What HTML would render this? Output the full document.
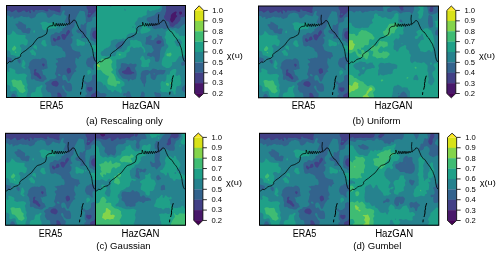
<!DOCTYPE html>
<html><head><meta charset="utf-8"><style>
html,body{margin:0;padding:0;background:#fff;width:500px;height:256px;overflow:hidden}
svg{display:block;will-change:transform}
text{font-family:"Liberation Sans",sans-serif;fill:#000}
.tk{font-size:6.8px}
.yl{font-size:8px}
.al{font-size:9.6px}
.al2{font-size:10px}
</style></head><body>
<svg width="500" height="256" viewBox="0 0 500 256">
<defs>
<g id="m_era5"><rect x="-1" y="-1" width="92" height="94" fill="#48186a"/>
<path d="M-9.6 -11L-8.8 -11L-7.9 -11L-7.1 -11L-6.2 -11L-5.4 -11L-4.6 -11L-3.8 -11L-2.9 -11L-2.1 -11L-1.2 -11L-0.4 -11L0.4 -11L1.2 -11L2.1 -11L2.9 -11L3.8 -11L4.6 -11L5.4 -11L6.2 -11L7.1 -11L7.9 -11L8.8 -11L9.6 -11L10.4 -11L11.2 -11L12.1 -11L12.9 -11L13.8 -11L14.6 -11L15.4 -11L16.2 -11L17.1 -11L17.9 -11L18.8 -11L19.6 -11L20.4 -11L21.2 -11L22.1 -11L22.9 -11L23.8 -11L24.6 -11L25.4 -11L26.2 -11L27.1 -11L27.9 -11L28.8 -11L29.6 -11L30.4 -11L31.2 -11L32.1 -11L32.9 -11L33.8 -11L34.6 -11L35.4 -11L36.2 -11L37.1 -11L37.9 -11L38.8 -11L39.6 -11L40.4 -11L41.2 -11L42.1 -11L42.9 -11L43.8 -11L44.6 -11L45.4 -11L46.2 -11L47.1 -11L47.9 -11L48.8 -11L49.6 -11L50.4 -11L51.2 -11L52.1 -11L52.9 -11L53.8 -11L54.6 -11L55.4 -11L56.2 -11L57.1 -11L57.9 -11L58.8 -11L59.6 -11L60.4 -11L61.2 -11L62.1 -11L62.9 -11L63.8 -11L64.6 -11L65.4 -11L66.2 -11L67.1 -11L67.9 -11L68.8 -11L69.6 -11L70.4 -11L71.2 -11L72.1 -11L72.9 -11L73.8 -11L74.6 -11L75.4 -11L76.2 -11L77.1 -11L77.9 -11L78.8 -11L79.6 -11L80.4 -11L81.2 -11L82.1 -11L82.9 -11L83.8 -11L84.6 -11L85.4 -11L86.2 -11L87.1 -11L87.9 -11L88.8 -11L89.6 -11L90.4 -11L91.2 -11L92.1 -11L92.9 -11L93.8 -11L94.6 -11L95.4 -11L96.2 -11L97.1 -11L97.3 -11L97.9 -10.2L98.8 -10.2L99.6 -10.4L99.6 -10.1L99.6 -9.1L99.6 -8.1L99.6 -7.2L99.6 -6.2L99.6 -5.3L99.6 -4.3L99.6 -3.4L99.6 -2.4L99.6 -1.4L99.6 -0.5L99.6 0.5L99.6 1.4L99.6 2.4L99.6 3.4L99.6 4.3L99.6 5.3L99.6 6.2L99.6 7.2L99.6 8.1L99.6 9.1L99.6 10.1L99.6 11L99.6 12L99.6 12.9L99.6 13.9L99.6 14.9L99.6 15.8L99.6 16.8L99.6 17.7L99.6 18.7L99.6 19.6L99.6 20.6L99.6 21.6L99.6 22.5L99.6 23.5L99.6 24.4L99.6 25.4L99.6 26.4L99.6 27.3L99.6 28.3L99.6 29.2L99.6 30.2L99.6 31.1L99.6 32.1L99.6 33.1L99.6 34L99.6 35L99.6 35.9L99.6 36.9L99.6 37.9L99.6 38.8L99.6 39.8L99.6 40.7L99.6 41.7L99.6 42.6L99.6 43.6L99.6 44.6L99.6 45.5L99.6 46.5L99.6 47.4L99.6 48.4L99.6 49.4L99.6 50.3L99.6 51.3L99.6 52.2L99.6 53.2L99.6 54.1L99.6 55.1L99.6 56.1L99.6 57L99.6 58L99.6 58.9L99.6 59.9L99.6 60.9L99.6 61.8L99.6 62.8L99.6 63.7L99.6 64.7L99.6 65.6L99.6 66.6L99.6 67.6L99.6 68.5L99.6 69.5L99.6 70.4L99.6 71.4L99.6 72.4L99.6 73.3L99.6 74.3L99.6 75.2L99.6 76.2L99.6 77.1L99.6 78.1L99.6 79.1L99.6 80L99.6 81L99.6 81.9L99.6 82.9L99.6 83.9L99.6 84.8L99.6 85.8L99.6 86.7L99.6 87.7L99.6 88.6L99.6 89.6L99.6 90.6L99.6 91.5L99.6 92.5L99.6 93.4L99.6 94.4L99.6 95.4L99.6 96.3L99.6 97.3L99.6 98.2L99.6 99.2L99.6 100.1L99.6 101.1L99.6 102.1L99.6 103L98.8 103L97.9 103L97.1 103L96.2 103L95.4 103L94.6 103L93.8 103L92.9 103L92.1 103L91.2 103L90.4 103L89.6 103L88.8 103L87.9 103L87.1 103L86.2 103L85.4 103L84.6 103L83.8 103L82.9 103L82.1 103L81.2 103L80.4 103L79.6 103L78.8 103L77.9 103L77.1 103L76.2 103L75.4 103L74.6 103L73.8 103L72.9 103L72.1 103L71.2 103L70.4 103L69.6 103L68.8 103L67.9 103L67.1 103L66.2 103L65.4 103L64.6 103L63.8 103L62.9 103L62.1 103L61.2 103L60.4 103L59.6 103L58.8 103L57.9 103L57.1 103L56.2 103L55.4 103L54.6 103L53.8 103L52.9 103L52.1 103L51.2 103L50.4 103L49.6 103L48.8 103L47.9 103L47.1 103L46.2 103L45.4 103L44.6 103L43.8 103L42.9 103L42.1 103L41.2 103L40.4 103L39.6 103L38.8 103L37.9 103L37.1 103L36.2 103L35.4 103L34.6 103L33.8 103L32.9 103L32.1 103L31.2 103L30.4 103L29.6 103L28.8 103L27.9 103L27.1 103L26.2 103L25.4 103L24.6 103L23.8 103L22.9 103L22.1 103L21.2 103L20.4 103L19.6 103L18.8 103L17.9 103L17.1 103L16.2 103L15.4 103L14.6 103L13.8 103L12.9 103L12.1 103L11.2 103L10.4 103L9.6 103L8.8 103L7.9 103L7.1 103L6.2 103L5.4 103L4.6 103L3.8 103L2.9 103L2.1 103L1.2 103L0.4 103L-0.4 103L-1.2 103L-2.1 103L-2.9 103L-3.8 103L-4.6 103L-5.4 103L-6.2 103L-7.1 103L-7.9 103L-8.8 103L-9.6 103L-9.6 102.1L-9.6 101.1L-9.6 100.1L-9.6 99.2L-9.6 98.2L-9.6 97.3L-9.6 96.3L-9.6 95.4L-9.6 94.4L-9.6 93.4L-9.6 92.5L-9.6 91.5L-9.6 90.6L-9.6 89.6L-9.6 88.6L-9.6 87.7L-9.6 86.7L-9.6 85.8L-9.6 84.8L-9.6 83.9L-9.6 82.9L-9.6 81.9L-9.6 81L-9.6 80L-9.6 79.1L-9.6 78.1L-9.6 77.1L-9.6 76.2L-9.6 75.2L-9.6 74.3L-9.6 73.3L-9.6 72.4L-9.6 71.4L-9.6 70.4L-9.6 69.5L-9.6 68.5L-9.6 67.6L-9.6 66.6L-9.6 65.6L-9.6 64.7L-9.6 63.7L-9.6 62.8L-9.6 61.8L-9.6 60.9L-9.6 59.9L-9.6 58.9L-9.6 58L-9.6 57L-9.6 56.1L-9.6 55.1L-9.6 54.1L-9.6 53.2L-9.6 52.2L-9.6 51.3L-9.6 50.3L-9.6 49.4L-9.6 48.4L-9.6 47.4L-9.6 46.5L-9.6 45.5L-9.6 44.6L-9.6 43.6L-9.6 42.6L-9.6 41.7L-9.6 40.7L-9.6 39.8L-9.6 38.8L-9.6 37.9L-9.6 36.9L-9.6 35.9L-9.6 35L-9.6 34L-9.6 33.1L-9.6 32.1L-9.6 31.1L-9.6 30.2L-9.6 29.2L-9.6 28.3L-9.6 27.3L-9.6 26.4L-9.6 25.4L-9.6 24.4L-9.6 23.5L-9.6 22.5L-9.6 21.6L-9.6 20.6L-9.6 19.6L-9.6 18.7L-9.6 17.7L-9.6 16.8L-9.6 15.8L-9.6 14.9L-9.6 13.9L-9.6 12.9L-9.6 12L-9.6 11L-9.6 10.1L-9.6 9.1L-9.6 8.1L-9.6 7.2L-9.6 6.2L-9.6 5.3L-9.6 4.3L-9.6 3.4L-9.6 2.4L-9.6 1.4L-9.6 0.5L-9.6 -0.5L-9.6 -1.4L-9.6 -2.4L-9.6 -3.4L-9.6 -4.3L-9.6 -5.3L-9.6 -6.2L-9.6 -7.2L-9.6 -8.1L-9.6 -9.1L-9.6 -10.1ZM89.6 -2.1L88.9 -1.4L89.6 -0.6L90.2 -1.4Z" fill="#424086" fill-rule="evenodd"/>
<path d="M51.1 -11L51.2 -11L52.1 -11L52.9 -11L53.3 -11L52.9 -10.9L52.1 -10.6L51.2 -10.8ZM53.8 -11L54.6 -11L55.4 -11L56.2 -11L57.1 -11L57.9 -11L58.8 -11L59.6 -11L60.4 -11L61.2 -11L62.1 -11L62.9 -11L63.8 -11L64.6 -11L65.4 -11L66.2 -11L67.1 -11L67.9 -11L68.8 -11L69.6 -11L70.4 -11L71.2 -11L72.1 -11L72.9 -11L73.8 -11L74.6 -11L75.4 -11L76.2 -11L77.1 -11L77.9 -11L78.8 -11L79.6 -11L80.3 -11L79.8 -10.1L79.6 -9.5L79.5 -9.1L79.4 -8.1L79.6 -7.3L79.6 -7.2L79.9 -6.2L79.8 -5.3L79.6 -4.3L79.7 -3.4L79.9 -2.4L80.2 -1.4L80.4 -0.5L80.2 0.5L80 1.4L80.2 2.4L80.4 2.7L80.8 3.4L81.2 4.2L81.3 4.3L81.8 5.3L81.7 6.2L81.4 7.2L82 8.1L81.4 9.1L81.2 9.2L80.9 10.1L81.1 11L81.2 11.5L82.1 11.9L82.9 11.7L83.8 11.4L84.1 11L84.6 10.3L84.8 10.1L85.4 9.3L85.7 9.1L86.2 8.6L86.6 8.1L87.1 7.7L87.7 7.2L87.9 7L88.7 6.2L88.8 6.1L89.4 5.3L89.6 5.1L90.4 5.2L91 5.3L91.2 5.3L92.1 5.4L92.9 5.5L93.8 5.6L94.6 5.5L95.4 5.8L96 6.2L96.2 6.6L97.1 7L97.9 6.8L98.8 6.5L99.6 6.3L99.6 7.2L99.6 8.1L99.6 9.1L99.6 10.1L99.6 11L99.6 12L99.6 12.9L99.6 13.9L99.6 14.9L99.6 15.8L99.6 16.8L99.6 17.7L99.6 18.7L99.6 19.6L99.6 20.6L99.6 21.6L99.6 22.5L99.6 23.5L99.6 24.4L99.6 25.4L99.6 25.6L99.3 25.4L98.8 25L98 24.4L97.9 24.4L97.1 23.6L96.6 23.5L96.2 23.4L96.1 23.5L95.4 23.8L94.6 24.1L93.8 24.1L92.9 24L92.1 24.1L91.2 24.2L90.4 24.4L90.2 24.4L89.6 24.8L88.8 25.2L87.9 25.3L87.5 25.4L87.1 25.5L86.6 26.4L86.2 27L86.1 27.3L85.7 28.3L85.7 29.2L85.9 30.2L86.1 31.1L86.2 31.5L86.7 32.1L87.1 32.5L87.8 33.1L87.9 33.1L88.8 33.4L89.6 33.4L90.4 33.5L91.2 34L91.3 34L92.1 34.3L92.9 34.1L93 34L93.8 33.4L94.1 33.1L94.6 32.6L95.4 32.2L96.2 32.2L97.1 32.6L97.9 32.9L98.8 33L98.9 33.1L99.6 33.2L99.6 34L99.6 35L99.6 35.9L99.6 36.9L99.6 37.9L99.6 38.8L99.6 39.8L99.6 40.7L99.6 41.7L99.6 42.6L99.6 43.6L99.6 44.6L99.6 45.5L99.6 46.5L99.6 47.4L99.6 48.4L99.6 49.4L99.6 50.3L99.6 51.3L99.6 52.2L99.6 53.2L99.6 54.1L99.6 55.1L99.6 56.1L99.6 57L99.6 58L99.6 58.9L99.6 59.9L99.6 60.9L99.6 61.8L99.6 62.8L99.6 63.7L99.6 64.7L99.6 65.6L99.6 66.6L99.6 67.6L99.6 68.5L99.6 69.5L99.6 70.4L99.6 71.4L99.6 72.4L99.6 73.3L99.6 74.3L99.6 75.2L99.6 76.2L99.6 77.1L99.6 77.8L99.4 78.1L99.6 78.3L99.6 79.1L99.6 80L99.6 81L99.6 81.9L99.6 82.9L99.6 83.9L99.6 84.8L99.6 85.2L98.8 85.1L97.9 85.1L97.1 85.4L96.9 85.8L96.6 86.7L96.2 87.5L95.8 87.7L95.4 87.8L95.2 87.7L94.6 87.3L94.2 86.7L93.9 85.8L93.8 85.6L92.9 84.9L92.4 84.8L92.1 84.8L91.8 84.8L91.2 84.9L90.4 85.1L89.6 85.4L89.1 85.8L88.8 86.7L88.8 86.9L87.9 87.7L87.9 87.7L87.1 87.8L86.2 88.3L85.8 88.6L85.4 88.9L84.6 89.6L84.6 89.6L84.5 90.6L84.6 90.9L85 91.5L85.2 92.5L84.6 92.9L83.8 93.3L83.6 93.4L82.9 94.2L82.8 94.4L82.9 95.1L83 95.4L83.8 96L84.6 95.8L84.9 95.4L85.4 94.4L85.4 94.4L85.5 94.4L86.2 94.8L86.3 95.4L86.2 95.7L86.1 96.3L85.5 97.3L85.4 97.4L84.9 98.2L84.6 98.7L84.3 99.2L83.8 100.1L83.7 100.1L83.6 101.1L83.3 102.1L83 103L82.9 103L82.1 103L81.2 103L80.4 103L79.6 103L78.8 103L77.9 103L77.1 103L76.2 103L75.4 103L74.6 103L73.8 103L72.9 103L72.1 103L71.2 103L70.4 103L69.6 103L68.8 103L67.9 103L67.1 103L66.2 103L65.4 103L64.6 103L63.8 103L62.9 103L62.1 103L61.2 103L60.4 103L59.6 103L58.8 103L57.9 103L57.1 103L56.2 103L55.4 103L54.7 103L54.6 102.1L54.8 101.1L55.1 100.1L54.9 99.2L54.6 98.4L54.5 98.2L54.4 97.3L54.5 96.3L53.9 95.4L53.8 95.3L52.9 94.8L52.6 94.4L52.7 93.4L52.9 93.3L53.8 93.1L54.6 93.3L55.2 92.5L55.4 91.5L55.3 90.6L54.8 89.6L54.6 89.1L54.4 88.6L53.8 87.7L53.7 87.7L52.9 87.2L52.1 87L51.2 87.3L50.9 87.7L50.8 88.6L51.1 89.6L51 90.6L50.7 91.5L50.5 92.5L50.4 92.8L50.2 93.4L49.8 94.4L50.1 95.4L50.4 96.1L50.5 96.3L50.5 97.3L50.4 97.7L50.1 98.2L49.6 98.7L49.2 99.2L49.2 100.1L49.6 100.9L49.7 101.1L50.1 102.1L50.2 103L49.6 103L48.8 103L47.9 103L47.1 103L46.2 103L45.4 103L44.6 103L43.8 103L42.9 103L42.1 103L41.2 103L40.4 103L39.6 103L38.8 103L37.9 103L37.1 103L36.2 103L35.4 103L34.6 103L33.8 103L32.9 103L32.1 103L31.2 103L30.4 103L29.6 103L28.8 103L27.9 103L27.1 103L26.2 103L25.4 103L24.6 103L23.8 103L22.9 103L22.1 103L21.2 103L20.4 103L19.6 103L18.8 103L17.9 103L17.1 103L16.2 103L15.4 103L14.6 103L13.8 103L12.9 103L12.1 103L11.2 103L10.4 103L9.6 103L8.8 103L7.9 103L7.1 103L6.2 103L5.4 103L4.6 103L3.8 103L2.9 103L2.1 103L1.2 103L0.4 103L-0.4 103L-1.2 103L-2.1 103L-2.9 103L-3.8 103L-4.6 103L-5.4 103L-6.2 103L-7.1 103L-7.9 103L-8.8 103L-9.6 103L-9.6 102.1L-9.6 101.1L-9.6 100.1L-9.6 99.2L-9.6 98.2L-9.6 97.3L-9.6 96.3L-9.6 95.4L-9.6 94.4L-9.6 93.4L-9.6 92.5L-9.6 91.5L-9.6 90.6L-9.6 89.6L-9.6 88.6L-9.6 87.7L-9.6 86.7L-9.6 85.8L-9.6 84.8L-9.6 83.9L-9.6 82.9L-9.6 81.9L-9.6 81L-9.6 80L-9.6 79.1L-9.6 78.1L-9.6 77.1L-9.6 76.2L-9.6 75.2L-9.6 74.3L-9.6 73.3L-9.6 72.4L-9.6 71.4L-9.6 70.4L-9.6 69.5L-9.6 68.5L-9.6 67.6L-9.6 66.6L-9.6 65.6L-9.6 64.7L-9.6 63.7L-9.6 62.8L-9.6 61.8L-9.6 60.9L-9.6 59.9L-9.6 58.9L-9.6 58L-9.6 57L-9.6 56.1L-9.6 55.1L-9.6 54.1L-9.6 53.2L-9.6 52.2L-9.6 51.3L-9.6 50.3L-9.6 49.4L-9.6 48.4L-9.6 47.4L-9.6 46.5L-9.6 45.5L-9.6 44.6L-9.6 43.6L-9.6 42.6L-9.6 41.7L-9.6 40.7L-9.6 39.8L-9.6 38.8L-9.6 37.9L-9.6 36.9L-9.6 35.9L-9.6 35L-9.6 34L-9.6 33.1L-9.6 32.1L-9.6 31.1L-9.6 30.2L-9.6 29.2L-9.6 28.3L-9.6 27.3L-9.6 26.4L-9.6 25.4L-9.6 24.4L-9.6 23.5L-9.6 22.5L-9.6 21.6L-9.6 20.6L-9.6 19.6L-9.6 18.7L-9.6 17.7L-9.6 16.8L-9.6 15.8L-9.6 14.9L-9.6 13.9L-9.6 12.9L-9.6 12L-9.6 11L-9.6 10.1L-9.6 9.1L-9.6 8.1L-9.6 7.2L-9.6 6.2L-9.6 5.8L-8.8 5.7L-7.9 5.3L-7.9 5.3L-7.1 4.8L-6.2 4.7L-5.4 4.9L-4.9 5.3L-4.6 5.6L-3.8 6.2L-3.5 6.2L-2.9 6.3L-2.1 6.3L-2 6.2L-1.2 6L-0.4 5.6L0.4 5.4L0.9 5.3L1.2 5.2L2.1 5L2.9 5.1L3.4 5.3L3.8 5.4L4.5 6.2L4.6 6.3L5.4 6.7L6.3 6.3L6.4 6.2L7.1 5.8L7.9 5.3L8 5.3L8.8 4.8L9.6 4.3L9.6 4.3L9.6 4.3L10.4 5.3L10.4 5.3L10.9 6.2L11.2 6.6L12.1 6.9L12.9 6.8L13.8 6.6L14.6 6.3L14.7 6.2L15.4 5.8L16.2 5.3L16.4 5.3L17.1 5L17.9 5L18.3 5.3L18.8 5.8L19.1 6.2L19.6 6.6L20.4 6.7L21.2 6.2L21.2 6.2L22.1 5.3L22.7 6.2L22.9 6.8L23 7.2L23.8 7.8L24.5 7.2L24.4 6.2L23.9 5.3L24.4 4.3L24.6 4.3L24.8 4.3L25.4 4.4L26.2 4.9L26.7 5.3L26.9 6.2L27.1 6.6L27.9 6.3L28 6.2L28.2 5.3L28.8 4.5L29.6 4.5L30.4 4.6L31.2 4.7L32.1 4.7L32.9 4.6L33.8 4.6L34.6 4.5L35.4 4.5L36.2 4.5L37.1 4.6L37.9 5L38.4 5.3L38.8 5.5L39.6 5.8L40.4 6.1L41.2 5.8L41.9 5.3L41.6 4.3L41.9 3.4L42.1 3.2L42.9 3.2L43.1 3.4L43.4 4.3L43.8 4.5L44.6 4.8L45.4 4.9L46.2 4.9L47.1 5L47.9 5.3L47.9 5.3L48.8 5.7L49.6 5.9L50.4 6L50.8 6.2L51.3 6.4L52.1 6.8L52.9 6.9L53.8 6.4L53.9 6.2L54 5.3L53.9 4.3L53.8 3.4L54.2 2.4L54.3 1.4L54.4 0.5L54.6 -0.5L54.6 -0.5L55 -1.4L55.1 -2.4L54.9 -3.4L54.7 -4.3L54.6 -4.6L54.4 -5.3L54.6 -5.8L54.8 -6.2L54.9 -7.2L54.6 -8.1L54.6 -8.2L54.3 -9.1L54 -10.1ZM62.1 24.2L61.8 24.4L61.2 24.8L60.9 25.4L60.4 26L60.1 26.4L59.7 27.3L59.6 28.3L59.7 29.2L59.6 29.6L59.4 29.2L58.8 28.9L57.9 28.4L57.1 28.4L56.2 28.4L55.4 28.7L55 29.2L54.7 30.2L55 31.1L55.4 31.9L55.5 32.1L55.7 33.1L56.2 33.7L56.7 34L57.1 34.3L57.9 34.5L58.4 34L58.8 33.6L59 33.1L59.6 32.1L59.6 32L60.1 31.1L60.4 30.5L60.7 30.2L61.2 30L61.7 29.2L62.1 28.6L62.3 28.3L62.9 27.6L63.2 27.3L63.5 26.4L63.2 25.4L62.9 24.9L62.4 24.4ZM81.2 81.6L81 81.9L80.6 82.9L80.7 83.9L81.2 84.7L81.4 84.8L82.1 85.4L82.6 85.8L82.9 86.3L83.8 86L84.1 85.8L84.6 85.6L85.4 85L85.6 84.8L86 83.9L86.1 82.9L85.6 81.9L85.4 81.8L84.6 81.6L83.8 81.7L82.9 81.8L82.1 81.6ZM28.8 63.5L28.3 63.7L27.9 64.2L27.6 64.7L27.6 65.6L27.8 66.6L27.5 67.6L27.2 68.5L27.6 69.5L27.9 69.8L28.8 70.2L29.6 70.3L29.9 70.4L30.4 71L30.8 71.4L31.2 71.8L32.1 72.3L32.1 72.4L32.9 73.3L33 73.3L33.8 73.6L34.6 73.3L34.6 73.3L34.9 72.4L34.6 71.4L34.6 71.4L33.8 70.5L33.7 70.4L33.1 69.5L32.9 68.9L32.7 68.5L32.1 68.1L31.5 67.6L31.2 67.3L30.4 66.9L29.6 66.7L29.4 66.6L29 65.6L29.6 65L29.9 64.7L29.8 63.7L29.6 63.6ZM36.2 57.9L36.1 58L35.5 58.9L36 59.9L36.2 60.2L36.8 60.9L37.1 61.1L37.3 60.9L37.9 60.1L38 59.9L38.2 58.9L37.9 58.4L37.1 58L37.1 58ZM46.2 75.9L45.8 76.2L45.4 76.8L45.2 77.1L44.8 78.1L45.2 79.1L45.4 79.2L46.2 80L46.2 80L47.1 80.4L47.9 80.5L48.8 80.9L48.9 81L49.6 81.3L50.4 81.1L50.6 81L51.2 80.4L51.5 80L52.1 79.1L52.1 79L52.2 78.1L52.1 77.9L51.8 77.1L51.2 76.5L51 76.2L50.4 75.6L49.6 75.3L48.8 75.3L47.9 75.4L47.1 75.6ZM51.2 31L51.1 31.1L50.7 32.1L50.4 33L50.4 33.1L49.6 34L48.8 33.2L48.6 33.1L47.9 32.4L47.1 32.2L46.5 33.1L46.5 34L46.9 35L47.1 35.1L47.8 35.9L47.9 36L48.8 36.2L49.2 35.9L49.6 35.2L49.9 35L50.4 34.3L51.2 34.9L52.1 34.6L52.9 34.2L53.4 34L53.8 33.6L54.1 33.1L53.8 32.1L53.7 32.1L53.5 31.1L52.9 30.6L52.1 30.6ZM61.2 62.7L61.2 62.8L60.4 63.5L60.3 63.7L60.1 64.7L60.3 65.6L60.4 66L60.6 66.6L61 67.6L61.2 67.9L62.1 68.2L62.9 67.7L63.1 67.6L63.8 67.2L64.5 66.6L64.6 65.8L64.6 65.6L64.6 65.6L64.3 64.7L64.1 63.7L63.8 63L63.5 62.8L62.9 62.4L62.1 62.3ZM21.9 3.4L22.1 3.1L22.4 3.4L22.1 3.9ZM83.7 7.2L83.8 7.2L83.8 7.2L84.5 8.1L83.8 8.9L82.9 9L82.1 8.1L82.9 7.5ZM99.3 99.2L99.6 99.1L99.6 99.2L99.6 99.3Z" fill="#33638d" fill-rule="evenodd"/>
<path d="M56.6 5.3L57.1 4.8L57.9 4.9L58.4 5.3L58.4 6.2L57.9 7.2L57.9 7.2L57.7 8.1L57.9 9L58 9.1L58.8 9.7L59.6 10.1L59.6 10.1L60.4 11L59.9 12L59.6 12.8L59.5 12.9L59.2 13.9L58.8 14.6L58.6 14.9L58.2 15.8L58 16.8L58.8 17.3L59.6 17.3L60.4 17.4L60.6 17.7L60.9 18.7L60.4 19.6L60.4 19.7L59.7 20.6L59.6 20.7L58.8 21.4L58.5 21.6L57.9 22.1L57.2 22.5L57.1 22.6L56.2 23.1L55.6 23.5L56.1 24.4L55.5 25.4L55.4 25.4L54.6 25.6L53.8 26.3L53.7 26.4L53 27.3L52.9 27.4L52.1 27.5L51.4 27.3L51.2 27.3L50.4 26.9L49.6 26.7L48.8 27L48.3 27.3L47.9 27.8L47.6 28.3L47.1 28.7L46.2 28.7L45.4 28.9L45 29.2L44.6 29.6L44.2 30.2L44 31.1L43.9 32.1L44 33.1L44 34L44.1 35L44.2 35.9L44.6 36.9L44.6 36.9L44.8 37.9L44.6 38.8L45.2 39.8L45.4 40L46.2 40.4L47.1 40.6L47.9 40.5L48.8 40.1L49.6 39.8L50.4 39.9L51.2 40.5L51.6 40.7L52.1 41L52.9 41.1L53.8 41.5L54 41.7L54.6 42.1L55.4 42.6L55.4 42.7L56 43.6L56.2 44.6L56.2 44.8L56.9 45.5L57.1 45.6L57.9 45.9L58.4 46.5L58.8 47.3L58.8 47.4L59 48.4L59.2 49.4L59.2 50.3L59 51.3L58.8 51.6L57.9 52L57.1 51.7L56.2 51.5L55.4 52L55 52.2L54.6 52.4L53.8 52.4L52.9 52.4L52.1 52.5L51.2 53L50.5 53.2L50.4 53.6L50.2 53.2L49.6 52.7L49.3 53.2L49.6 54.1L49.6 54.1L50.4 54.3L51.2 55.1L51.3 55.1L51.7 56.1L51.2 57L51.2 57L50.4 57.3L49.6 57.6L49.3 58L49.3 58.9L49.6 59.3L50 59.9L50.4 60.4L50.7 60.9L50.4 61.8L50.4 61.8L49.9 62.8L49.7 63.7L49.6 64.7L49.6 65L49.5 65.6L49.2 66.6L48.8 67.5L48.7 67.6L48.5 68.5L48.8 68.9L49.2 69.5L49.6 70L50 70.4L50 71.4L49.7 72.4L49.6 72.4L48.8 72.9L48.1 73.3L47.9 73.4L47.1 73.7L46.2 73.7L45.4 73.7L44.6 73.9L43.8 74.1L43.3 74.3L42.9 74.9L42.8 75.2L42.1 75.8L41.2 75.9L40.4 76.2L40.4 76.2L39.6 77.1L39.5 77.1L38.8 77.6L38.4 78.1L38.8 78.7L39 79.1L39.6 79.6L39.9 80L39.9 81L39.6 81.7L39.5 81.9L39.4 82.9L39.6 83.7L39.6 83.9L40.4 84.8L40.4 84.9L41 85.8L41.2 86.6L41.9 86.7L42.1 86.8L42.2 86.7L42.9 86.6L43.3 86.7L43.7 86.9L44.5 87.7L44.6 88L44.7 88.6L44.8 89.6L45 90.6L45 91.5L44.6 92.5L44.6 92.5L44.2 93.4L44.3 94.4L44.6 94.9L44.8 95.4L45.1 96.3L45.1 97.3L45 98.2L44.8 99.2L44.6 100L44.6 100.1L44.5 101.1L44.5 102.1L44.5 103L43.8 103L42.9 103L42.1 103L41.2 103L40.4 103L39.6 103L38.8 103L37.9 103L37.1 103L36.2 103L35.4 103L34.6 103L33.8 103L32.9 103L32.1 103L31.2 103L30.4 103L29.6 103L28.8 103L27.9 103L27.1 103L26.2 103L25.4 103L24.6 103L23.8 103L22.9 103L22.1 103L21.2 103L20.4 103L19.6 103L18.8 103L17.9 103L17.1 103L16.2 103L15.4 103L14.6 103L13.8 103L12.9 103L12.1 103L11.2 103L10.4 103L9.6 103L9 103L9 102.1L8.9 101.1L8.9 100.1L8.9 99.2L8.8 98.2L8.8 97.8L8.7 97.3L8.8 97.1L8.9 96.3L9 95.4L8.9 94.4L9.1 93.4L9.4 92.5L9.6 91.9L9.6 91.5L9.6 91.2L9.4 90.6L8.9 89.6L8.8 89.3L8.2 88.6L7.9 88.4L7.1 88L6.2 88.2L5.7 88.6L5.4 89.1L5.1 89.6L4.7 90.6L4.7 91.5L5.1 92.5L5.4 92.7L5.9 93.4L6.2 93.8L6.6 94.4L6.7 95.4L6.5 96.3L6.2 97.2L6.2 97.3L5.8 98.2L5.4 98.8L5.1 99.2L4.6 100.1L4.7 101.1L4.8 102.1L4.8 103L4.6 103L3.8 103L2.9 103L2.1 103L1.2 103L0.4 103L-0.4 103L-1.2 103L-2.1 103L-2.9 103L-3.8 103L-4.6 103L-5.4 103L-6.2 103L-7.1 103L-7.9 103L-8.8 103L-9.6 103L-9.6 102.1L-9.6 101.1L-9.6 100.1L-9.6 99.2L-9.6 98.2L-9.6 97.3L-9.6 96.3L-9.6 95.4L-9.6 94.4L-9.6 93.4L-9.6 92.5L-9.6 91.5L-9.6 90.6L-9.6 89.6L-9.6 88.6L-9.6 87.7L-9.6 86.7L-9.6 85.8L-9.6 84.8L-9.6 83.9L-9.6 82.9L-9.6 81.9L-9.6 81L-9.6 80L-9.6 79.1L-9.6 78.1L-9.6 77.1L-9.6 76.2L-9.6 75.2L-9.6 74.3L-9.6 73.3L-9.6 72.4L-9.6 71.4L-9.6 70.4L-9.6 69.5L-9.6 68.5L-9.6 67.6L-9.6 66.6L-9.6 65.6L-9.6 64.7L-9.6 63.7L-9.6 62.8L-9.6 61.8L-9.6 60.9L-9.6 59.9L-9.6 58.9L-9.6 58L-9.6 57L-9.6 56.1L-9.6 55.6L-8.9 56.1L-8.8 56.1L-7.9 56.6L-7.1 56.9L-6.3 57L-6.2 57L-6.2 57L-5.4 56.7L-5.1 57L-4.6 57.7L-4.3 58L-3.8 58.3L-3.2 58L-2.9 57.9L-2.1 57.4L-1.2 57.1L-1.1 57L-0.4 56.8L0.4 56.5L1.2 56.4L2.1 56.5L2.9 56.7L3.8 56.7L4.6 56.1L4.6 56.1L5.3 55.1L5.4 54.4L5.4 54.1L5.4 53.9L5.3 53.2L4.6 52.6L3.9 52.2L3.8 52.2L2.9 51.9L2.1 51.7L1.2 51.6L0.4 51.3L0.3 51.3L-0.4 50.6L-0.7 50.3L-1.2 50.1L-1.8 50.3L-2.1 50.8L-2.3 51.3L-2.9 51.7L-3.7 52.2L-3.8 52.3L-4.6 52.4L-5.2 52.2L-5.4 52.1L-6.2 51.6L-7.1 51.4L-7.9 51.4L-8.8 52L-8.9 52.2L-9.6 52.8L-9.6 52.2L-9.6 51.3L-9.6 50.3L-9.6 49.4L-9.6 48.4L-9.6 47.4L-9.6 46.5L-9.6 45.5L-9.6 44.6L-9.6 43.6L-9.6 42.6L-9.6 41.7L-9.6 40.7L-9.6 39.8L-9.6 38.8L-9.6 37.9L-9.6 36.9L-9.6 35.9L-9.6 35L-9.6 34L-9.6 33.1L-9.6 32.1L-9.6 31.1L-9.6 30.2L-9.6 29.2L-9.6 28.3L-9.6 27.3L-9.6 26.4L-9.6 25.4L-9.6 24.4L-9.6 23.5L-9.6 22.5L-9.6 21.6L-9.6 20.6L-9.6 19.6L-9.6 18.7L-9.6 17.7L-9.6 16.8L-9.6 15.8L-9.6 14.9L-9.6 13.9L-9.6 12.9L-9.6 12L-9.6 11.5L-9.4 11L-9.3 10.1L-8.8 9.4L-7.9 9.4L-7.5 10.1L-7.2 11L-7.1 11.4L-6.7 12L-6.2 12.3L-5.7 12L-5.4 11.9L-4.6 11.3L-3.9 11L-3.8 10.9L-2.9 10.9L-2.1 11L-1.2 11L-0.4 10.7L0.2 10.1L0.4 9.9L1.2 9.9L2.1 10L2.1 10.1L2.9 10.5L3.4 11L3.8 11.7L4.6 11.7L5.2 11L5.4 10.9L6.2 10.8L6.9 11L7.1 12L7 12.9L7.1 13L7.9 13.1L8.2 12.9L8.8 12.7L9.6 12L9.9 12L10.4 11.9L10.8 12L11.2 12.1L11.8 12L12.1 11.9L12.9 11.5L13.6 11L13.8 10.9L14.6 10.5L15.4 10.6L16.2 11L16.2 11L17.1 11.4L17.9 11.4L18.8 11.3L19.6 11.4L20.4 11.8L21.2 11.5L22.1 11.1L22.9 11.7L23.1 12L23.8 12.5L24.5 12.9L24.6 13L25.4 13L25.5 12.9L26.2 12.4L27.1 12.3L27.9 12L28 12L28.8 11.3L29.1 11L29.4 10.1L29.6 9.4L29.7 9.1L30.4 8.6L31.2 8.1L31.2 8.1L32.1 7.3L32.9 7.2L33.2 7.2L33.8 7.1L34.6 6.7L35.4 6.6L36.2 6.7L37.1 6.9L37.9 7.1L38.1 7.2L38.8 7.5L39.6 8.1L39.7 8.1L40.1 9.1L40.3 10.1L40.4 10.5L40.5 11L41.2 11.7L41.5 12L42.1 12.3L42.9 12.2L43.2 12L43.8 11.6L44.6 11.1L44.8 11L45.4 10.6L45.9 10.1L46.2 9.5L46.6 9.1L47.1 8.4L47.9 8.3L48.8 8.7L49.4 9.1L49.6 9.2L50.4 9.4L51.2 9.5L52.1 9.7L52.9 10L53.1 10.1L53.8 10.4L53.9 10.1L54.6 9.4L54.8 9.1L55.1 8.1L55.4 7.2L55.4 7.1L55.9 6.2L56.2 5.6ZM12.1 15.6L12 15.8L12.1 16.8L11.7 17.7L11.2 18L10.4 18.2L9.6 18.1L9 18.7L9.2 19.6L9.6 20.1L10 20.6L10.4 21.1L10.8 21.6L11.2 22.5L11.2 22.7L11.9 23.5L12.1 23.6L12.9 23.8L13.8 24.1L14.3 24.4L14.6 24.6L15 25.4L15.4 26.3L15.5 26.4L16.2 27.1L16.9 27.3L17.1 27.4L17.9 27.4L18.8 27.4L19.6 27.6L20.4 28L21.2 28.2L22.1 28.1L22.9 28L23.4 27.3L23.5 26.4L23.6 25.4L23.8 25.1L24 24.4L24.3 23.5L23.8 22.9L23.1 22.5L22.9 22.5L22.1 22.3L21.2 22.5L21.2 22.5L20.4 23.1L19.6 23.3L19.4 22.5L19.5 21.6L19.6 21.1L19.7 20.6L19.6 20.3L19.3 19.6L18.8 19.1L17.9 18.8L17.8 18.7L17.1 18.3L16.3 17.7L16.2 17.7L15.4 16.9L15.1 16.8L14.6 16.5L13.8 16.3L12.9 15.9L12.6 15.8ZM35.4 52.5L34.7 53.2L34.6 53.3L33.8 53.8L32.9 53.7L32.1 53.3L31.2 53.4L30.4 53.4L29.6 53.3L28.8 53.3L27.9 53.4L27.1 53.6L26.2 54L26 54.1L25.4 54.5L24.7 55.1L24.6 55.2L23.8 56L23.7 56.1L23.1 57L22.9 57.4L22.7 58L22.8 58.9L22.7 59.9L22.1 60.7L22 60.9L21.8 61.8L22.1 62.4L22.4 62.8L22.9 63.4L23.3 63.7L23.7 64.7L23.8 65L23.8 65.6L23.9 66.6L24 67.6L24.4 68.5L24.6 68.9L24.8 69.5L24.6 70.4L24.6 70.5L24.4 71.4L24.4 72.4L24.6 73.3L24.6 73.4L25.4 74.1L26.2 73.9L27.1 73.5L27.9 73.8L28.4 74.3L28.8 74.7L29.6 75.1L30.2 75.2L30.4 75.3L31.2 75.5L32.1 75.6L32.9 75.9L33.8 76.1L34.6 76.2L34.9 76.2L35.4 76.2L36.2 76.3L36.5 76.2L37.1 75.9L37.7 75.2L37.9 75L38.8 74.3L39.6 74.3L39.6 74.3L40.3 73.3L39.8 72.4L39.6 72L39.3 71.4L38.9 70.4L38.8 70.1L37.9 69.8L37.3 69.5L37.1 69.4L36.4 68.5L36.2 67.8L36.2 67.6L36.1 66.6L35.8 65.6L35.4 65.2L35.1 64.7L35.4 63.8L36.2 64.2L37.1 64.2L37.7 63.7L37.9 63.6L38.8 63.4L39.6 63.3L40.4 63.1L41.2 62.8L41.3 62.8L41.2 62.6L41.1 61.8L40.8 60.9L40.8 59.9L40.7 58.9L40.4 58L40.4 58L40.4 57.7L40.4 57L40.5 56.1L40.4 55.9L40.1 55.1L39.6 54.2L39.5 54.1L38.8 53.2L38.6 53.2L37.9 52.8L37.1 52.4L36.2 52.3ZM52.1 17.2L51.9 17.7L52.1 18.7L52.9 18.6L53.1 17.7L52.9 17.1ZM12.1 54L11.7 54.1L11.2 54.5L10.8 55.1L11.2 55.8L11.4 56.1L12.1 57L12.1 57L12.9 57.9L13.8 57.6L14.1 57L14.2 56.1L14.1 55.1L13.8 54.1L13.8 53.9L12.9 53.6ZM73.4 5.3L73.8 5.1L74.3 5.3L74.6 5.3L75.4 5.5L76.2 5.6L77.1 5.6L77.9 6L78.1 6.2L78.5 7.2L78.6 8.1L78.6 9.1L78.8 9.8L78.8 10.1L79.1 11L79.3 12L79.3 12.9L79.3 13.9L79.2 14.9L79.4 15.8L79.6 16.6L79.9 16.8L79.6 17L78.8 17.7L78.7 17.7L77.9 18.3L77.5 18.7L77.1 19.4L76.2 19.2L75.5 18.7L75.4 18.6L75.3 18.7L74.6 19L74.2 19.6L74 20.6L74.1 21.6L74 22.5L73.8 22.8L73.1 23.5L72.9 23.6L72.1 24L71.2 24.1L70.4 24.3L70.3 24.4L69.8 25.4L70.1 26.4L70.4 26.6L71.2 27.3L71.2 27.4L72.1 27.7L72.9 27.7L73.8 27.7L74.6 28.2L74.6 28.3L75.4 29.2L75.4 29.2L75.4 30.2L75.4 30.3L75 31.1L74.6 31.9L74.4 32.1L74.6 32.3L75.4 32.5L76.2 32.5L77.1 32.4L77.9 32.3L78.8 32.5L79.6 32.8L80.4 32.1L80 31.1L79.7 30.2L79.8 29.2L80.1 28.3L80.1 27.3L79.9 26.4L79.9 25.4L79.8 24.4L79.6 23.5L79.6 22.8L79.6 22.5L79.6 22.4L79.9 21.6L80.1 20.6L79.8 19.6L80.1 18.7L80.4 17.9L80.5 17.7L80.8 16.8L81.2 16.7L82.1 16.5L82.9 16.4L83.8 16.2L84.5 15.8L84.6 15.8L85.4 15L85.6 14.9L85.8 13.9L85.7 12.9L86.2 12L86.2 11.9L87.1 11.4L87.9 11L88.3 11L88.8 11L88.8 11L89.6 11.2L90.4 11.6L91.2 11.8L92.1 11.7L92.9 11.6L93.8 11.8L94.6 11.9L95.4 11.9L96.2 11.8L97.1 11.5L97.6 11L97.9 10.7L98.8 10.2L99 10.1L99.6 9.7L99.6 10.1L99.6 11L99.6 12L99.6 12.9L99.6 13.9L99.6 14.9L99.6 15.8L99.6 16.8L99.6 17.7L99.6 18.7L99.6 19.6L99.6 20.6L99.6 21.6L99.6 21.6L98.8 21.6L97.9 21.8L97.1 21.9L96.2 22.1L95.4 22.2L94.6 22.1L93.8 21.8L92.9 21.7L92.6 21.6L92.1 21.2L91.2 20.7L90.4 20.8L89.6 21.1L89 21.6L88.8 21.7L87.9 22.2L87.1 22.2L86.2 22.1L85.4 22.3L85.2 22.5L84.6 23.4L84.6 23.5L84.4 24.4L84.2 25.4L84 26.4L83.8 27.3L83.8 27.7L83.6 28.3L83.4 29.2L83.6 30.2L83.8 30.6L83.9 31.1L83.8 32.1L83.7 32.1L83.7 33.1L83.8 33.4L83.9 34L84.6 34.8L85.1 35L85.4 35.1L86.2 35.2L87.1 35.6L87.4 35.9L87.9 36.7L88.3 36.9L88.8 37.1L89 36.9L89.6 36.5L90.4 36.3L91.2 36.7L92.1 36.9L92.9 36.8L93.8 36.8L94.6 36.7L95.4 36.5L96.2 36.4L97.1 36.2L97.7 35.9L97.9 35.9L98.8 35.4L99.6 35.2L99.6 35.9L99.6 36.9L99.6 37.9L99.6 38.8L99.6 39.8L99.6 40.7L99.6 41.7L99.6 42.6L99.6 43.6L99.6 44.6L99.6 45.5L99.6 46.5L99.6 47.4L99.6 48.4L99.6 49.4L99.6 50.3L99.6 50.8L98.8 50.8L98.3 51.3L98.8 52L99 52.2L99.6 52.6L99.6 53.2L99.6 53.7L98.8 53.5L97.9 53.5L97.1 53.5L96.5 53.2L96.2 53L95.4 52.2L95.4 52.2L94.6 51.6L93.8 51.6L92.9 52.1L92.5 52.2L92.1 52.4L91.3 52.2L91.2 52.2L90.4 51.9L89.6 51.9L88.8 51.8L87.9 51.7L87.1 51.3L87.1 51.3L86.2 50.9L85.4 50.5L84.6 50.6L84.1 51.3L83.8 51.9L82.9 52.2L82.1 52.2L81.9 52.2L81.2 52.7L80.9 53.2L80.4 54.1L80.4 54.1L80 55.1L79.8 56.1L79.6 56.8L79.5 57L79.6 58L79.6 58L80 58.9L80.4 59.7L80.6 59.9L81.1 60.9L81.2 61.2L82.1 61.6L82.9 61.6L83.6 61.8L83.8 61.9L84.6 62.4L85 62.8L85.4 63.5L85.6 63.7L86.2 64.3L87.1 64.2L87.4 63.7L87.1 62.8L87.1 62.7L86.8 61.8L86.9 60.9L87 59.9L87.1 58.9L87.1 58.9L87.9 58.1L88.5 58L88.8 57.9L89.6 57.9L90.4 57.6L91.2 57.5L92.1 57.8L92.3 58L92.9 58.3L93.8 58.9L93.8 58.9L94.6 59.8L95.4 59.5L95.8 58.9L96.2 58.6L96.8 58L97.1 57.7L97.9 57.3L98.8 57.2L99.6 57.4L99.6 58L99.6 58.9L99.6 59.9L99.6 60.9L99.6 61.8L99.6 62.8L99.6 63.7L99.6 64.7L99.6 65.6L99.6 66.6L99.6 67.6L99.6 68.5L99.6 69.1L98.8 68.5L98.8 68.5L97.9 67.8L97.6 67.6L97.1 67.2L96.2 67.2L95.7 67.6L95.4 67.7L94.6 67.8L94.3 67.6L93.8 67.2L92.9 67L92.1 67L91.2 67.4L91 67.6L90.9 68.5L91 69.5L90.6 70.4L90.4 70.6L90.3 70.4L89.6 69.8L89.4 69.5L88.8 69L87.9 68.9L87.1 69.2L86.7 69.5L86.2 69.8L85.5 70.4L85.5 71.4L85.6 72.4L85.6 73.3L85.4 74.3L85.4 74.3L84.7 75.2L84.6 75.3L83.8 75.9L83.3 76.2L82.9 76.5L82.1 76.8L81.2 77.1L80.5 77.1L80.4 77.2L80.4 77.1L79.6 76.5L79.5 76.2L78.8 75.2L78.7 75.1L78.7 75.2L77.9 75.8L77.7 76.2L77.4 77.1L77.8 78.1L77.9 78.3L78.8 78.4L79.6 78.5L79.8 79.1L79.7 80L79.6 80.4L79.4 81L79.1 81.9L79.1 82.9L79.2 83.9L79.2 84.8L79.3 85.8L79.6 86.7L79.6 86.7L80.4 87.2L80.7 87.7L80.5 88.6L80.4 88.9L79.6 89.2L78.8 89.6L78.9 90.6L79.3 91.5L79.6 92.4L79.6 92.5L79.8 93.4L79.8 94.4L79.7 95.4L79.6 95.4L78.8 96.2L78.5 96.3L77.9 96.8L77.1 97.2L77 97.3L77.1 97.9L77.2 98.2L77.9 98.8L78.4 99.2L78.8 99.5L79.6 100L79.8 100.1L80.4 100.6L80.7 101.1L81 102.1L80.9 103L80.4 103L79.6 103L78.8 103L77.9 103L77.1 103L76.2 103L75.4 103L74.6 103L73.8 103L72.9 103L72.1 103L71.2 103L70.4 103L69.6 103L68.8 103L67.9 103L67.1 103L66.2 103L65.4 103L64.6 103L63.8 103L62.9 103L62.1 103L61.2 103L60.4 103L59.6 103L58.8 103L58.3 103L58.3 102.1L58.8 101.6L59.6 101.4L60.1 101.1L60.2 100.1L60.4 99.5L60.6 99.2L61.1 98.2L60.5 97.3L60.4 97.1L59.8 96.3L59.6 95.8L59.4 95.4L59.6 94.5L59.6 94.4L60.3 93.4L60.4 92.5L59.9 91.5L59.7 90.6L60.2 89.6L60.3 88.6L60 87.7L59.6 87.2L58.8 86.7L58.7 86.7L58.1 85.8L57.9 85.3L57.8 84.8L57.1 83.9L57 83.9L56.2 82.9L56.2 82.9L55.7 81.9L55.4 81L55.4 81L55.4 80.9L56 80L56.2 79.9L57.1 79.7L57.4 80L57.8 81L57.9 81.3L58.1 81.9L58.2 82.9L58.4 83.9L58.8 84.1L59.5 84.8L59.6 84.9L60.4 85.4L61.2 85.7L61.6 85.8L62.1 85.9L62.9 85.9L63.8 85.8L64.6 85.8L64.8 85.8L65.4 84.8L65.4 84.8L65.5 83.9L65.6 82.9L65.6 81.9L65.4 81L65.4 80.9L65.2 80L65 79.1L64.6 78.4L64.3 78.1L63.8 77.6L62.9 77.3L62.1 77.6L61.2 77.5L60.8 77.1L60.4 76.6L60.2 76.2L59.6 75.3L59.5 75.2L58.8 74.4L57.9 74.4L57.1 75L56.2 74.6L56.2 74.3L55.9 73.3L55.7 72.4L55.7 71.4L55.9 70.4L56.2 70L56.8 69.5L57.1 69.3L57.9 69.2L58.8 69.4L58.9 69.5L59.6 70.4L59.6 70.4L60.1 71.4L60.4 72L60.6 72.4L60.8 73.3L61.1 74.3L61.2 74.6L61.6 75.2L62.1 75.9L62.9 75.6L63.1 75.2L63.6 74.3L63.8 74.1L64.1 73.3L64.6 72.4L64.6 72.4L64.9 71.4L65.3 70.4L65.4 70.2L65.9 69.5L66.2 69.1L66.7 68.5L67.1 67.9L67.3 67.6L67.9 66.7L68.1 66.6L68.8 66.2L69.6 65.9L69.8 65.6L69.6 65.1L69.3 64.7L68.8 64.2L68.6 63.7L68.8 63.4L69.2 62.8L69.6 62.5L70.1 61.8L70.2 60.9L69.8 59.9L69.6 59.5L69.3 58.9L68.9 58L68.8 57.4L68.6 57L68.6 56.1L68.8 55.6L68.8 55.1L69 54.1L69 53.2L69.3 52.2L69.6 52L69.9 52.2L70.4 52.5L71 53.2L71.2 53.4L72.1 53.4L72.1 53.2L72.3 52.2L72.9 51.4L73.1 51.3L73.8 50.8L74.6 50.4L74.7 50.3L74.6 50.3L74.2 49.4L73.8 48.4L73.8 47.9L73.7 47.4L73.2 46.5L72.9 46.3L72.1 46.3L71.2 46.1L70.4 45.9L69.6 45.8L68.8 45.6L68.7 45.5L67.9 45.1L67.1 44.8L66.7 44.6L66.2 44.3L65.7 43.6L65.4 43.1L65.3 42.6L65.1 41.7L64.6 40.8L64.6 40.7L64 39.8L64 38.8L64.6 38.3L65.1 37.9L65.4 37.6L65.7 36.9L65.8 35.9L65.9 35L66 34L65.6 33.1L65.4 32.9L64.6 32.2L64.5 32.1L64.6 31.5L64.8 31.1L65.4 31L66.2 30.6L66.7 30.2L66.7 29.2L66.2 28.9L65.7 28.3L65.4 27.6L65.3 27.3L65.2 26.4L65.1 25.4L65.1 24.4L65.4 23.7L65.6 23.5L66.2 22.8L66.6 22.5L67.1 21.9L67.3 21.6L67.9 20.8L68 20.6L68.2 19.6L68 18.7L68.2 17.7L68.8 17.5L69.6 17.3L69.8 16.8L69.7 15.8L69.6 15.5L69.4 14.9L69.1 13.9L69.2 12.9L69.6 12L69.6 12L70.2 11L70.4 10.6L70.7 10.1L71.1 9.1L71.2 8.8L71.6 8.1L72.1 7.7L72.3 7.2L72.8 6.2L72.9 5.8ZM51.7 68.5L52.1 68.2L52.9 68.4L53.1 68.5L53.8 69.2L54.1 69.5L54.2 70.4L53.8 70.6L52.9 70.5L52.8 70.4L52.1 70.2L51.3 69.5Z" fill="#26828e" fill-rule="evenodd"/>
<path d="M99.1 12.9L99.6 12.4L99.6 12.9L99.6 13.9L99.6 14L99.4 13.9ZM5.1 16.8L5.4 16.6L5.5 16.8L5.4 16.9ZM35.5 16.8L36.2 16.3L37.1 16.2L37.9 16.3L38.8 16.3L39.6 16.4L40.4 16.8L40.4 16.8L41.2 17.2L42.1 17.4L42.9 17.5L43.8 17.6L44.6 17.3L45.4 17.2L46.2 17.1L47.1 17.1L47.9 16.9L48.8 17L49.5 17.7L49.6 17.9L49.9 18.7L50.2 19.6L50.3 20.6L50.1 21.6L49.7 22.5L49.6 22.8L48.8 23.4L47.9 23L47.1 22.8L46.2 23.1L45.4 23.1L44.6 23L43.8 23.2L43.1 23.5L42.9 23.6L42.1 23.8L41.2 23.7L40.4 23.7L39.6 24.1L39.2 24.4L38.8 24.6L37.9 24.9L37.1 24.6L36.9 24.4L36.2 23.8L36 23.5L35.5 22.5L35.4 22L35.3 21.6L35.3 20.6L35.2 19.6L34.6 19L34.3 18.7L33.8 17.9L33.6 17.7L33.8 17.6L34.6 17.2L35.4 16.8ZM27.9 24.4L27.9 24.4L27.9 24.4L28.3 25.4L28.6 26.4L28 27.3L27.9 27.3L27.7 27.3L27.1 27.1L26.7 26.4L27 25.4L27.1 25ZM-9.6 25.4L-9.6 24.8L-8.8 25.4L-8.7 25.4L-8.1 26.4L-7.9 26.7L-7.6 27.3L-7.1 27.8L-6.5 28.3L-6.2 28.5L-5.4 28.8L-4.6 28.6L-3.9 28.3L-3.8 28.1L-2.9 27.8L-2.1 28.2L-2 28.3L-1.2 28.5L-0.4 28.7L0.4 28.9L1.2 29.2L1.3 29.2L2.1 29.5L2.9 29.4L3.3 29.2L3.8 29.1L4.6 28.4L4.8 28.3L5.4 27.3L5.4 27.1L5.8 26.4L6 25.4L6.2 24.8L6.9 25.4L7.1 25.5L7.9 26.2L8.1 26.4L8.8 27.1L8.9 27.3L9.6 28.1L9.7 28.3L10.4 28.8L11.2 29.1L12.1 29.2L12.7 29.2L12.9 29.3L13.8 29.5L14.6 29.5L15.4 29.4L16.2 29.4L17.1 29.4L17.9 29.4L18.8 29.6L19.2 30.2L19.2 31.1L18.8 32.1L19.1 33.1L19.6 33.4L20.4 33.9L20.6 34L21.2 34.7L21.4 35L21.4 35.9L21.2 36.8L21.2 36.9L21 37.9L20.8 38.8L20.4 39.5L20.1 39.8L19.6 40.1L18.8 40.3L17.9 39.8L17.9 39.8L17.1 39L16.5 38.8L16.2 38.7L15.4 38.7L15.1 38.8L14.6 39L13.8 39.5L13.5 39.8L13.4 40.7L13.8 41.3L14.2 41.7L14.6 42.2L14.9 42.6L14.9 43.6L14.8 44.6L14.7 45.5L14.6 46L14.5 46.5L14.2 47.4L14.2 48.4L14.4 49.4L13.8 50L13.4 50.3L12.9 50.6L12.1 50.9L11.2 51L10.4 51L9.6 50.9L8.8 50.3L8.7 50.3L7.9 50L7.1 49.9L6.2 49.6L5.4 49.5L4.6 49.4L4.5 49.4L4 48.4L3.9 47.4L3.8 46.6L3.7 46.5L3 45.5L2.9 45.4L2.1 45.1L1.2 44.9L0.4 44.8L-0.3 44.6L-0.4 44.5L-1.2 44.1L-2 44.6L-2.1 44.6L-2.9 45.5L-3.2 45.5L-3.8 45.7L-4.1 45.5L-4.6 45.4L-5.4 45.4L-5.7 45.5L-6.2 45.7L-7.1 46L-7.9 46.1L-8.8 45.8L-9.6 45.6L-9.6 45.5L-9.6 44.6L-9.6 43.6L-9.6 42.6L-9.6 41.7L-9.6 40.7L-9.6 39.8L-9.6 38.8L-9.6 37.9L-9.6 36.9L-9.6 35.9L-9.6 35L-9.6 34L-9.6 33.1L-9.6 32.1L-9.6 31.1L-9.6 30.2L-9.6 29.2L-9.6 28.3L-9.6 27.3L-9.6 26.4ZM70 34L70.4 33.6L71.2 33.5L72.1 33.9L72.3 34L72.9 34.3L73.8 34.7L74.2 35L74.6 35.4L75.4 35.8L76.2 35.9L76.3 35.9L77.1 36.2L77.9 36.6L78.5 36.9L78.6 37.9L78.5 38.8L78 39.8L77.9 39.8L77.1 40.2L76.2 40.3L75.4 40.2L74.6 39.9L73.9 39.8L73.8 39.7L73.7 39.8L72.9 40.1L72.1 40.6L71.2 40.5L70.4 39.8L70.4 39.8L69.9 38.8L70.1 37.9L70.2 36.9L70.1 35.9L69.9 35ZM35.8 35L36.2 34.7L37.1 34.4L37.9 34.4L38.8 34.8L39 35L39.1 35.9L39.2 36.9L39.5 37.9L39.6 38.1L40 38.8L40.3 39.8L39.8 40.7L39.6 40.9L38.8 41.1L37.9 41.1L37.4 40.7L37.1 40.6L36.2 39.8L36.2 39.8L35.4 39.1L35.1 38.8L34.6 37.9L34.5 37.9L34.6 37.7L34.9 36.9L35.3 35.9L35.4 35.7ZM79.3 36.9L79.6 36.8L80.4 36.4L81 36.9L80.6 37.9L80.5 38.8L80.4 39L80.2 38.8L80 37.9L79.6 37.3ZM27.9 39.8L27.9 39.8L28.8 39.6L29.6 39.7L29.6 39.8L30.2 40.7L30.4 41.5L30.5 41.7L30.5 42.6L30.6 43.6L30.5 44.6L30.4 44.7L30.2 44.6L29.6 43.7L29.6 43.6L28.8 43.2L27.9 43.1L27.1 42.7L27 42.6L26.7 41.7L26.9 40.7L27.1 40.4ZM85.1 39.8L85.4 39.4L86.2 39.4L87.1 39.5L87.9 39.6L88.7 39.8L88.8 39.8L89.6 40L90.4 40.1L91.2 40.4L91.8 40.7L92.1 40.9L92.9 41L93.8 40.9L93.9 40.7L94.6 39.9L94.8 39.8L95.4 39.4L96.2 38.9L97.1 39.8L97.1 39.8L97.9 40.1L98.8 40L99.6 39.9L99.6 40.7L99.6 41.7L99.6 42.6L99.6 43.6L99.6 44L98.8 44.4L98.6 44.6L97.9 45.4L97.8 45.5L97.1 46.3L96.5 46.5L96.2 46.6L96 46.5L95.4 46.1L94.6 46.2L94.1 46.5L93.8 46.6L92.9 46.6L92.1 46.5L92.1 46.5L91.2 46.1L90.4 46.1L89.6 46.4L89.5 46.5L88.8 46.6L87.9 46.6L87.4 46.5L87.1 46.3L86.6 45.5L87 44.6L87.1 44.4L87.9 43.8L88.4 43.6L87.9 43.4L87.1 43.3L86.2 43.3L85.4 43L85 42.6L84.6 41.9L84.5 41.7L84.6 41.3L84.7 40.7ZM24.8 44.6L25.4 44.1L26.2 43.6L27.1 44.4L27.1 44.6L27.9 45.5L27.9 45.5L28.8 46.4L28.8 46.5L29.4 47.4L29.6 48.2L29.6 48.4L29.6 48.5L29.3 49.4L28.8 50.3L28.8 50.4L28.3 50.3L27.9 50.2L27.1 49.6L26.2 49.5L25.4 49.6L25.1 49.4L25 48.4L24.6 47.6L24.5 47.4L23.8 46.7L23.5 46.5L23 45.5L23.8 45L24.6 44.7ZM16.1 55.1L16.2 54.6L17.1 54.2L17.7 55.1L17.9 55.5L18.2 56.1L18.8 56.9L18.8 57L19 58L18.8 58.9L18.8 59L18.2 59.9L17.9 60.5L17.1 60.8L17 60.9L17.1 60.9L17.9 61L18.8 61.4L19 61.8L18.9 62.8L18.8 62.9L17.9 63.3L17.1 62.9L16.8 62.8L16.2 62L15.6 61.8L15.4 61.7L15 60.9L15 59.9L15.2 58.9L15.4 58.3L15.5 58L15.8 57L15.9 56.1ZM-9.6 61.8L-9.6 61.4L-8.8 61.5L-8.3 61.8L-7.9 62.3L-7.6 62.8L-7.1 63.5L-6.2 63.5L-5.4 63L-4.6 63L-3.8 63.2L-2.9 63.3L-2.1 63L-1.8 62.8L-1.2 62.4L-0.4 62.3L0.1 62.8L0.4 63.2L0.7 63.7L0.8 64.7L0.9 65.6L1.2 66.4L1.8 66.6L2.1 66.7L2.2 66.6L2.9 66L3.2 65.6L2.9 64.8L2.9 64.7L2.5 63.7L2.9 62.8L2.9 62.8L3.8 62.3L4.6 62.6L4.8 62.8L5.4 63L6.2 63.3L7.1 63.7L7.3 63.7L7.9 64.1L8.8 64.7L8.8 64.7L9 65.6L8.8 66.6L8.8 67.6L9.6 68L10.4 68.3L10.9 68.5L11.3 68.7L12.1 68.7L12.6 68.5L12.9 68.4L13.8 68.3L14.6 68.2L15.4 68.2L16.2 68.1L17.1 67.9L17.9 68L18.8 68.3L19.1 68.5L19.6 69L20.4 69.4L20.5 69.5L20.7 70.4L20.4 70.7L20 71.4L19.6 71.9L19.4 72.4L19.4 73.3L19.6 73.7L19.8 74.3L20.1 75.2L20.1 76.2L20.1 77.1L20.4 77.7L20.7 78.1L21.2 79.1L21.1 80L20.8 81L20.6 81.9L20.9 82.9L21.2 83.6L21.4 83.9L21.6 84.8L21.4 85.8L21.2 86.4L21.2 86.7L20.8 87.7L20.4 88.5L20.4 88.6L20.1 89.6L19.9 90.6L20.1 91.5L20.3 92.5L20.1 93.4L19.6 94L19.3 94.4L19.2 95.4L19.6 95.7L20.4 95.9L21.2 96.3L21.2 97.3L20.7 98.2L20.4 99.1L20.4 99.2L19.7 100.1L19.6 100.3L18.8 100.7L18.6 101.1L18.7 102.1L18.8 102.1L19.6 102.5L20.4 102.2L21.2 103L21.3 103L21.2 103L20.4 103L19.6 103L18.8 103L17.9 103L17.1 103L16.2 103L15.4 103L14.6 103L13.8 103L12.9 103L12.1 103L11.2 103L11 103L11.2 102.3L11.3 102.1L12.1 101.1L12.1 101.1L12.5 100.1L12.1 99.7L11.2 99.3L11.1 99.2L10.4 98.4L10.3 98.2L10.2 97.3L10.4 96.3L10.4 96.3L11 95.4L11.2 94.7L11.5 94.4L11.8 93.4L11.7 92.5L11.7 91.5L11.5 90.6L11.2 89.9L11.1 89.6L10.5 88.6L10.4 88.2L10.3 87.7L10.3 86.7L10 85.8L9.6 85.2L8.8 85L7.9 85.2L7.1 85.4L6.2 85.7L6.2 85.8L5.4 86L4.6 86L4.2 85.8L3.8 84.9L3.7 84.8L3.7 83.9L3.8 83.8L3.9 82.9L3.9 81.9L3.8 81.1L3.7 81L2.9 80.1L2.7 80L2.1 79.7L1.2 79.2L0.4 79.3L-0.3 80L-0.4 80.1L-1.2 80.8L-2 81L-2.1 81L-2.2 81L-2.9 80.7L-3.8 80.5L-4.6 80.6L-5.4 80.7L-6.2 80.7L-7.1 80.6L-7.9 80.3L-8.8 80.4L-9.6 80.6L-9.6 80L-9.6 79.1L-9.6 78.1L-9.6 77.1L-9.6 76.2L-9.6 75.2L-9.6 74.3L-9.6 73.3L-9.6 72.4L-9.6 71.4L-9.6 70.4L-9.6 69.5L-9.6 68.5L-9.6 67.6L-9.6 66.6L-9.6 65.6L-9.6 64.7L-9.6 63.7L-9.6 62.8ZM-7.1 77.5L-7.3 78.1L-7.3 79.1L-7.1 79.4L-6.8 79.1L-6.3 78.1ZM99.4 62.8L99.6 62.5L99.6 62.8L99.6 63.2ZM81.7 64.7L82.1 64.3L82.9 64.2L83.4 64.7L83.8 65L84.3 65.6L84.6 66.4L84.7 66.6L84.6 66.9L84.3 67.6L83.8 67.9L82.9 68.5L82.8 68.5L82.1 69.3L81.6 69.5L81.2 69.6L81.2 69.5L80.9 68.5L81 67.6L80.7 66.6L80.8 65.6L81.2 65.2ZM34.1 80L34.6 79.8L35.4 79.6L36.1 80L36 81L35.4 81.9L35.4 81.9L34.6 82.9L34.6 83.9L34.7 84.8L34.7 85.8L34.9 86.7L35.4 87.5L35.5 87.7L35.9 88.6L36.1 89.6L36.1 90.6L36 91.5L35.6 92.5L35.4 92.8L35.2 93.4L34.9 94.4L34.6 95L34.4 95.4L34.1 96.3L34.5 97.3L34.6 97.3L35.4 97.8L36 98.2L36.2 99.2L35.7 100.1L35.4 100.5L34.9 101.1L34.6 102L34.6 102.1L34.4 103L33.8 103L32.9 103L32.1 103L31.2 103L30.4 103L29.6 103L28.8 103L27.9 103L27.7 103L27.1 102.6L26.2 102.1L26.2 102.1L25.6 101.1L25.4 100.7L25.2 100.1L24.8 99.2L24.6 98.2L24.6 98L24.5 97.3L23.8 96.4L23.7 96.3L22.9 95.9L22.3 95.4L22.1 94.6L22 94.4L22.1 94.1L22.3 93.4L22.9 93.2L23.8 92.7L23.9 92.5L24.2 91.5L24.3 90.6L24.2 89.6L24.4 88.6L24.6 88.3L25 87.7L25.4 87.2L26.2 86.8L27.1 86.7L27.2 86.7L27.9 86.7L28.8 86.1L29 85.8L29.1 84.8L29.2 83.9L29.5 82.9L29.6 82.8L30 81.9L30.4 81.4L31.2 81.2L32.1 81.2L32.9 81.1L33.1 81L33.8 80.4ZM72.9 94.4L72.9 94.3L73.8 94.1L74.1 94.4L74.6 95.1L74.7 95.4L74.6 96.3L74.6 96.3L73.8 96.9L72.9 96.4L72.8 96.3L72.6 95.4ZM67.5 103L67.9 102.5L68.8 102.8L68.9 103L68.8 103L67.9 103Z" fill="#1fa088" fill-rule="evenodd"/>
<path d="M7.3 40.7L7.9 40.1L8.5 40.7L8.8 40.9L9.6 41.7L9.6 41.7L9.8 42.6L9.6 43L9.3 43.6L8.8 44.2L8.3 44.6L7.9 45.3L7.1 45.2L6.2 45L5.8 44.6L5.4 43.6L5.8 42.6L6.2 42.1L6.6 41.7L7.1 40.9ZM8 46.5L8.8 45.8L9.6 46.4L9.6 46.5L9.8 47.4L9.6 47.6L9.1 47.4L8.8 47.1ZM6 74.3L6.2 74.2L7.1 74.1L7.9 74.1L8.6 74.3L8.8 74.3L9.6 74.8L10.4 75L11.2 74.9L12.1 74.9L12.9 74.7L13.8 74.5L14.6 74.8L15 75.2L15.4 76.1L15.5 76.2L15.7 77.1L16 78.1L16.2 78.7L16.5 79.1L17.1 79.6L17.9 80L18 80L18.3 81L17.9 81.8L17.9 81.9L17.8 82.9L17.9 83.1L18.5 83.9L18.8 84.3L19.2 84.8L18.9 85.8L18.8 85.9L17.9 86.5L17.5 86.7L17.1 87L16.3 87.7L16.2 87.7L16.2 87.7L15.4 87.4L14.6 87L13.8 86.9L13.4 86.7L12.9 86.4L12.5 85.8L12.1 85.1L12 84.8L11.2 84L11.2 83.9L10.4 83.1L10.2 82.9L9.6 82.1L9.4 81.9L8.8 81.5L7.9 81.4L7.1 81.3L6.8 81L6.2 80.4L6.1 80L5.9 79.1L5.8 78.1L5.6 77.1L5.4 76.9L5.1 76.2L4.9 75.2L5.4 74.6ZM16.2 103L16.2 102.9L16.4 103L16.2 103Z" fill="#3fbc73" fill-rule="evenodd"/></g>
<g id="m_haza"><rect x="-1" y="-1" width="92" height="94" fill="#48186a"/>
<path d="M-9.6 -11L-8.8 -11L-7.9 -11L-7.1 -11L-6.2 -11L-5.4 -11L-4.6 -11L-3.8 -11L-2.9 -11L-2.1 -11L-1.2 -11L-0.4 -11L0.4 -11L1.2 -11L2.1 -11L2.9 -11L3.8 -11L4.6 -11L5.4 -11L6.2 -11L7.1 -11L7.9 -11L8.8 -11L9.6 -11L10.4 -11L11.2 -11L12.1 -11L12.9 -11L13.8 -11L14.6 -11L15.4 -11L16.2 -11L17.1 -11L17.9 -11L18.8 -11L19.6 -11L20.4 -11L21.2 -11L22.1 -11L22.9 -11L23.8 -11L24.6 -11L25.4 -11L26.2 -11L27.1 -11L27.9 -11L28.8 -11L29.6 -11L30.4 -11L31.2 -11L32.1 -11L32.9 -11L33.8 -11L34.6 -11L35.4 -11L36.2 -11L37.1 -11L37.9 -11L38.8 -11L39.6 -11L40.4 -11L41.2 -11L42.1 -11L42.9 -11L43.8 -11L44.6 -11L45.4 -11L46.2 -11L47.1 -11L47.9 -11L48.8 -11L49.6 -11L50.4 -11L51.2 -11L52.1 -11L52.9 -11L53.8 -11L54.6 -11L55.4 -11L56.2 -11L57.1 -11L57.9 -11L58.8 -11L59.6 -11L60.4 -11L61.2 -11L62.1 -11L62.9 -11L63.8 -11L64.6 -11L65.4 -11L66.2 -11L67.1 -11L67.9 -11L68.8 -11L69.6 -11L70.4 -11L71.2 -11L72.1 -11L72.9 -11L73.8 -11L74.6 -11L75.4 -11L76.2 -11L77.1 -11L77.9 -11L78.8 -11L79.6 -11L80.4 -11L81.2 -11L82.1 -11L82.9 -11L83.8 -11L84.6 -11L85.4 -11L86.2 -11L87.1 -11L87.9 -11L88.8 -11L89.6 -11L90.4 -11L91.2 -11L92.1 -11L92.9 -11L93.8 -11L94.6 -11L95.4 -11L96.2 -11L97.1 -11L97.9 -11L98.8 -11L99.6 -11L99.6 -10.1L99.6 -9.1L99.6 -8.1L99.6 -7.2L99.6 -6.2L99.6 -5.3L99.6 -4.3L99.6 -3.4L99.6 -2.4L99.6 -1.4L99.6 -0.5L99.6 0.5L99.6 1.4L99.6 2.4L99.6 3.4L99.6 4.3L99.6 5.3L99.6 6.2L99.6 7.2L99.6 8.1L99.6 9.1L99.6 10.1L99.6 11L99.6 12L99.6 12.9L99.6 13.9L99.6 14.9L99.6 15.8L99.6 16.8L99.6 17.7L99.6 18.7L99.6 19.6L99.6 20.6L99.6 21.6L99.6 22.5L99.6 23.5L99.6 24.4L99.6 25.4L99.6 26.4L99.6 27.3L99.6 28.3L99.6 29.2L99.6 30.2L99.6 31.1L99.6 32.1L99.6 33.1L99.6 34L99.6 35L99.6 35.9L99.6 36.9L99.6 37.9L99.6 38.8L99.6 39.8L99.6 40.7L99.6 41.7L99.6 42.6L99.6 43.6L99.6 44.6L99.6 45.5L99.6 46.5L99.6 47.4L99.6 48.4L99.6 49.4L99.6 50.3L99.6 51.3L99.6 52.2L99.6 53.2L99.6 54.1L99.6 55.1L99.6 56.1L99.6 57L99.6 58L99.6 58.9L99.6 59.9L99.6 60.9L99.6 61.8L99.6 62.8L99.6 63.7L99.6 64.7L99.6 65.6L99.6 66.6L99.6 67.6L99.6 68.5L99.6 69.5L99.6 70.4L99.6 71.4L99.6 72.4L99.6 73.3L99.6 74.3L99.6 75.2L99.6 76.2L99.6 77.1L99.6 78.1L99.6 79.1L99.6 80L99.6 81L99.6 81.9L99.6 82.9L99.6 83.9L99.6 84.8L99.6 85.8L99.6 86.7L99.6 87.7L99.6 88.6L99.6 89.6L99.6 90.6L99.6 91.5L99.6 92.5L99.6 93.4L99.6 94.4L99.6 95.4L99.6 96.3L99.6 97.3L99.6 98.2L99.6 99.2L99.6 100.1L99.6 101.1L99.6 102.1L99.6 103L98.8 103L97.9 103L97.1 103L96.2 103L95.4 103L94.6 103L93.8 103L92.9 103L92.1 103L91.2 103L90.4 103L89.6 103L88.8 103L87.9 103L87.1 103L86.2 103L85.4 103L84.6 103L83.8 103L82.9 103L82.1 103L81.2 103L80.4 103L79.6 103L78.8 103L77.9 103L77.1 103L76.2 103L75.4 103L74.6 103L73.8 103L72.9 103L72.1 103L71.2 103L70.4 103L69.6 103L68.8 103L67.9 103L67.1 103L66.2 103L65.4 103L64.6 103L63.8 103L62.9 103L62.1 103L61.2 103L60.4 103L59.6 103L58.8 103L57.9 103L57.1 103L56.2 103L55.4 103L54.6 103L53.8 103L52.9 103L52.1 103L51.2 103L50.4 103L49.6 103L48.8 103L47.9 103L47.1 103L46.2 103L45.4 103L44.6 103L43.8 103L42.9 103L42.1 103L41.2 103L40.4 103L39.6 103L38.8 103L37.9 103L37.1 103L36.2 103L35.4 103L34.6 103L33.8 103L32.9 103L32.1 103L31.2 103L30.4 103L29.6 103L28.8 103L27.9 103L27.1 103L26.2 103L25.4 103L24.6 103L23.8 103L22.9 103L22.1 103L21.2 103L20.4 103L19.6 103L18.8 103L17.9 103L17.1 103L16.2 103L15.4 103L14.6 103L13.8 103L12.9 103L12.1 103L11.2 103L10.4 103L9.6 103L8.8 103L7.9 103L7.1 103L6.2 103L5.4 103L4.6 103L3.8 103L2.9 103L2.1 103L1.2 103L0.4 103L-0.4 103L-1.2 103L-2.1 103L-2.9 103L-3.8 103L-4.6 103L-5.4 103L-6.2 103L-7.1 103L-7.9 103L-8.8 103L-9.6 103L-9.6 102.1L-9.6 101.1L-9.6 100.1L-9.6 99.2L-9.6 98.2L-9.6 97.3L-9.6 96.3L-9.6 95.4L-9.6 94.4L-9.6 93.4L-9.6 92.5L-9.6 91.5L-9.6 90.6L-9.6 89.6L-9.6 88.6L-9.6 87.7L-9.6 86.7L-9.6 85.8L-9.6 84.8L-9.6 83.9L-9.6 82.9L-9.6 81.9L-9.6 81L-9.6 80L-9.6 79.1L-9.6 78.1L-9.6 77.1L-9.6 76.2L-9.6 75.2L-9.6 74.3L-9.6 73.3L-9.6 72.4L-9.6 71.4L-9.6 70.4L-9.6 69.5L-9.6 68.5L-9.6 67.6L-9.6 66.6L-9.6 65.6L-9.6 64.7L-9.6 63.7L-9.6 62.8L-9.6 61.8L-9.6 60.9L-9.6 59.9L-9.6 58.9L-9.6 58L-9.6 57L-9.6 56.1L-9.6 55.1L-9.6 54.1L-9.6 53.2L-9.6 52.2L-9.6 51.3L-9.6 50.3L-9.6 49.4L-9.6 48.4L-9.6 47.4L-9.6 46.5L-9.6 45.5L-9.6 44.6L-9.6 43.6L-9.6 42.6L-9.6 41.7L-9.6 40.7L-9.6 39.8L-9.6 38.8L-9.6 37.9L-9.6 36.9L-9.6 35.9L-9.6 35L-9.6 34L-9.6 33.1L-9.6 32.1L-9.6 31.1L-9.6 30.2L-9.6 29.2L-9.6 28.3L-9.6 27.3L-9.6 26.4L-9.6 25.4L-9.6 24.4L-9.6 23.5L-9.6 22.5L-9.6 21.6L-9.6 20.6L-9.6 19.6L-9.6 18.7L-9.6 17.7L-9.6 16.8L-9.6 15.8L-9.6 14.9L-9.6 13.9L-9.6 12.9L-9.6 12L-9.6 11L-9.6 10.1L-9.6 9.1L-9.6 8.1L-9.6 7.2L-9.6 6.2L-9.6 5.3L-9.6 4.3L-9.6 3.4L-9.6 2.4L-9.6 1.4L-9.6 0.5L-9.6 -0.5L-9.6 -1.4L-9.6 -2.4L-9.6 -3.4L-9.6 -4.3L-9.6 -5.3L-9.6 -6.2L-9.6 -7.2L-9.6 -8.1L-9.6 -9.1L-9.6 -10.1ZM79.6 6.1L79.4 6.2L78.8 6.5L77.9 7.1L77.8 7.2L77.1 7.7L76.5 8.1L76.2 8.4L75.7 9.1L75.4 9.5L75.2 10.1L75.1 11L75.1 12L74.7 12.9L74.6 13.2L74.4 13.9L74.6 14.9L74.6 14.9L75 15.8L75.4 16.4L76.1 16.8L76.2 16.9L77.1 16.9L77.3 16.8L77.8 15.8L77.9 15.7L78.6 14.9L78.8 14.7L79.3 13.9L79.6 13.2L79.7 12.9L80.3 12L80.4 11.9L81.2 11.2L81.5 11L81.5 10.1L81.2 9.9L80.4 9.4L80.3 9.1L80.4 8.5L80.5 8.1L81.1 7.2L80.8 6.2L80.4 6.1ZM84.6 6.1L83.8 6.2L83.8 6.3L83.5 7.2L83.8 7.9L83.8 8.1L84.1 9.1L84.6 9.4L85.3 9.1L85.4 9.1L86.2 8.4L86.5 8.1L86.5 7.2L86.2 6.6L85.9 6.2L85.4 5.9Z" fill="#424086" fill-rule="evenodd"/>
<path d="M-9.6 -11L-8.8 -11L-7.9 -11L-7.1 -11L-6.2 -11L-5.4 -11L-4.6 -11L-3.8 -11L-2.9 -11L-2.1 -11L-1.2 -11L-0.4 -11L0.4 -11L1.2 -11L2.1 -11L2.9 -11L3.8 -11L4.6 -11L5.4 -11L6.2 -11L7.1 -11L7.9 -11L8.8 -11L9.6 -11L10.4 -11L11.2 -11L12.1 -11L12.9 -11L13.8 -11L14.6 -11L15.4 -11L16.2 -11L17.1 -11L17.9 -11L18.8 -11L19.6 -11L20.4 -11L21.2 -11L22.1 -11L22.9 -11L23.8 -11L24.6 -11L25.4 -11L26.2 -11L27.1 -11L27.9 -11L28.8 -11L29.6 -11L30.4 -11L31.2 -11L32.1 -11L32.9 -11L33.8 -11L34.6 -11L35.4 -11L36.2 -11L37.1 -11L37.9 -11L38.8 -11L39.6 -11L40.4 -11L41.2 -11L42.1 -11L42.9 -11L43.8 -11L44.6 -11L45.4 -11L46.2 -11L47.1 -11L47.9 -11L48.8 -11L49.6 -11L50.4 -11L51.2 -11L52.1 -11L52.9 -11L53.8 -11L54.6 -11L55.4 -11L56.2 -11L57.1 -11L57.9 -11L58.8 -11L59.6 -11L60.4 -11L61.2 -11L62.1 -11L62.9 -11L63.8 -11L64.6 -11L65.4 -11L66.2 -11L67.1 -11L67.9 -11L68.8 -11L69.6 -11L70.2 -11L70.1 -10.1L69.7 -9.1L69.6 -8.6L69.5 -8.1L69.5 -7.2L69.6 -6.9L69.7 -6.2L70 -5.3L70.1 -4.3L70.1 -3.4L70 -2.4L69.9 -1.4L70 -0.5L70.2 0.5L70.4 1.4L70.4 2.4L70.4 3.3L70.4 3.4L70.5 4.3L70.5 5.3L70.4 5.6L70.2 6.2L69.7 7.2L69.6 8.1L69.6 8.3L69.4 9.1L68.8 9.9L68.7 10.1L68.3 11L68.3 12L68.7 12.9L68.8 12.9L69.5 13.9L69.6 14.1L70 14.9L70.4 15.3L71.2 15.6L72.1 15.7L72.3 15.8L72.9 16.2L73.3 16.8L73.7 17.7L73.8 17.8L74 18.7L74.1 19.6L74.4 20.6L74.6 20.7L75.4 21L76.2 21.2L77.1 21.4L77.9 21L78.4 20.6L78.8 20.2L79.3 19.6L79.6 19.3L80.4 18.8L80.8 18.7L81.2 18.6L82.1 17.9L82.2 17.7L82.9 16.8L82.9 16.8L83.8 16L83.9 15.8L84.5 14.9L84.6 14.6L85 13.9L85.1 12.9L85.2 12L85.4 11.7L86.2 11.5L87.1 11.7L87.9 11.6L88.8 11.2L88.9 11L89.6 10.6L90.4 10.2L90.8 10.1L91.2 9.9L92.1 10L92.1 10.1L92.9 10.6L93.8 11L93.8 11L94.6 11.2L95.4 11.4L96.2 11.6L97.1 11.9L97.2 12L97.9 12.3L98.7 12L98.8 11.9L99.6 11.2L99.6 12L99.6 12.9L99.6 13.9L99.6 14.9L99.6 15.8L99.6 16.8L99.6 17.7L99.6 18.7L99.6 19.6L99.6 20.6L99.6 21.6L99.6 22.5L99.6 23.5L99.6 24.4L99.6 25.4L99.6 26.4L99.6 27.3L99.6 28.3L99.6 29.2L99.6 30.2L99.6 31.1L99.6 32.1L99.6 33.1L99.6 34L99.6 35L99.6 35.9L99.6 36.9L99.6 37.9L99.6 38.8L99.6 39.8L99.6 40.7L99.6 41.7L99.6 42.6L99.6 43.6L99.6 44.6L99.6 45.5L99.6 46.5L99.6 47.4L99.6 48.4L99.6 49.4L99.6 50.3L99.6 51.3L99.6 52.2L99.6 53.2L99.6 54.1L99.6 55.1L99.6 56.1L99.6 57L99.6 58L99.6 58.9L99.6 59.9L99.6 60.9L99.6 61.8L99.6 62.8L99.6 63.7L99.6 64.7L99.6 65.6L99.6 66.6L99.6 67.6L99.6 68.5L99.6 69.5L99.6 70.4L99.6 71.4L99.6 72.4L99.6 73.3L99.6 74.3L99.6 75.2L99.6 76.2L99.6 77.1L99.6 78.1L99.6 79.1L99.6 80L99.6 81L99.6 81.9L99.6 82.9L99.6 83.9L99.6 84.8L99.6 85.8L99.6 86.7L99.6 87.7L99.6 88.6L99.6 89.6L99.6 90.6L99.6 91.5L99.6 92.5L99.6 93.4L99.6 94.4L99.6 95.4L99.6 96.3L99.6 97.3L99.6 98.2L99.6 99.2L99.6 100.1L99.6 101.1L99.6 102.1L99.6 103L98.8 103L97.9 103L97.1 103L96.2 103L95.4 103L94.6 103L93.8 103L92.9 103L92.1 103L91.2 103L90.4 103L89.6 103L88.8 103L87.9 103L87.1 103L86.2 103L85.4 103L84.6 103L83.8 103L82.9 103L82.1 103L81.2 103L80.4 103L79.6 103L78.8 103L77.9 103L77.1 103L76.2 103L75.4 103L74.6 103L73.8 103L72.9 103L72.1 103L71.2 103L70.4 103L69.6 103L68.8 103L67.9 103L67.1 103L66.2 103L65.4 103L64.6 103L63.8 103L62.9 103L62.1 103L61.2 103L60.4 103L59.6 103L58.8 103L57.9 103L57.1 103L56.2 103L55.4 103L54.6 103L53.8 103L52.9 103L52.1 103L51.2 103L50.4 103L49.6 103L48.8 103L47.9 103L47.1 103L46.2 103L45.4 103L44.6 103L43.8 103L42.9 103L42.1 103L41.2 103L40.4 103L39.6 103L38.8 103L37.9 103L37.1 103L36.2 103L35.4 103L34.6 103L33.8 103L32.9 103L32.1 103L31.2 103L30.4 103L29.6 103L28.8 103L27.9 103L27.1 103L26.2 103L25.4 103L24.6 103L23.8 103L22.9 103L22.1 103L21.2 103L20.4 103L19.6 103L18.8 103L17.9 103L17.1 103L16.2 103L15.4 103L14.6 103L13.8 103L12.9 103L12.1 103L11.2 103L10.4 103L9.6 103L8.8 103L7.9 103L7.1 103L6.2 103L5.4 103L4.6 103L3.8 103L2.9 103L2.1 103L1.2 103L0.4 103L-0.4 103L-1.2 103L-2.1 103L-2.9 103L-3.8 103L-4.6 103L-5.4 103L-6.2 103L-7.1 103L-7.9 103L-8.8 103L-9.6 103L-9.6 102.1L-9.6 101.1L-9.6 100.1L-9.6 99.2L-9.6 98.2L-9.6 97.3L-9.6 96.3L-9.6 95.4L-9.6 94.4L-9.6 93.4L-9.6 92.5L-9.6 91.5L-9.6 90.6L-9.6 89.6L-9.6 88.6L-9.6 87.7L-9.6 86.7L-9.6 85.8L-9.6 84.8L-9.6 83.9L-9.6 82.9L-9.6 81.9L-9.6 81L-9.6 80L-9.6 79.1L-9.6 78.1L-9.6 77.1L-9.6 76.2L-9.6 75.2L-9.6 74.3L-9.6 73.3L-9.6 72.4L-9.6 71.4L-9.6 70.4L-9.6 69.5L-9.6 68.5L-9.6 67.6L-9.6 66.6L-9.6 65.6L-9.6 64.7L-9.6 63.7L-9.6 62.8L-9.6 61.8L-9.6 60.9L-9.6 59.9L-9.6 58.9L-9.6 58L-9.6 57L-9.6 56.1L-9.6 55.1L-9.6 54.1L-9.6 53.2L-9.6 52.2L-9.6 51.3L-9.6 50.3L-9.6 49.4L-9.6 48.4L-9.6 47.4L-9.6 46.5L-9.6 45.5L-9.6 44.6L-9.6 43.6L-9.6 42.6L-9.6 41.7L-9.6 40.7L-9.6 39.8L-9.6 38.8L-9.6 37.9L-9.6 36.9L-9.6 35.9L-9.6 35L-9.6 34L-9.6 33.1L-9.6 32.1L-9.6 31.1L-9.6 30.2L-9.6 29.2L-9.6 28.3L-9.6 27.3L-9.6 26.4L-9.6 25.4L-9.6 24.4L-9.6 23.5L-9.6 22.5L-9.6 21.6L-9.6 20.6L-9.6 19.6L-9.6 18.7L-9.6 17.7L-9.6 16.8L-9.6 15.8L-9.6 14.9L-9.6 13.9L-9.6 12.9L-9.6 12L-9.6 11L-9.6 10.1L-9.6 9.1L-9.6 8.1L-9.6 7.2L-9.6 6.2L-9.6 5.3L-9.6 4.3L-9.6 3.4L-9.6 2.4L-9.6 1.4L-9.6 0.5L-9.6 -0.5L-9.6 -1.4L-9.6 -2.4L-9.6 -3.4L-9.6 -4.3L-9.6 -5.3L-9.6 -6.2L-9.6 -7.2L-9.6 -8.1L-9.6 -9.1L-9.6 -10.1ZM31.2 61.6L31 61.8L30.4 62.7L30.4 62.8L29.7 63.7L29.6 63.9L28.8 64.7L28.8 64.7L27.9 65.1L27.1 65.2L26.2 65.6L26.2 65.6L25.7 66.6L26.2 67.6L26.2 67.6L27.1 67.8L27.9 68.3L28.4 68.5L28.8 68.7L29.6 68.8L30.4 69L31.2 69.1L32.1 69L32.9 69L33.8 69L34.6 69.1L35.4 68.8L35.8 68.5L36.2 68.1L37.1 68.1L37.9 68.1L38.3 67.6L37.9 66.8L37.7 66.6L37.1 66.4L36.2 66.2L35.4 65.9L35.2 65.6L34.6 64.7L34.6 64.7L34.3 63.7L34 62.8L33.8 62.4L33.4 61.8L32.9 61.5L32.1 61.3ZM62.9 34.8L62.3 35L62.1 35.1L61.2 35.6L60.8 35.9L60.5 36.9L61 37.9L61.2 38.1L62.1 38.4L62.9 38.4L63.8 38.3L64.6 38L64.7 37.9L65.4 36.9L65.4 36.9L65.7 35.9L65.4 35.6L64.6 35.1L64.1 35L63.8 34.9ZM93.7 -9.1L93.8 -9.3L94.6 -9.6L94.8 -9.1L94.6 -8.7L93.8 -8.9ZM82.1 -7.2L82.1 -7.2L82.1 -7.2L82.9 -6.6L83 -6.2L82.9 -5.4L82.1 -5.4L81.9 -6.2Z" fill="#33638d" fill-rule="evenodd"/>
<path d="M-9.6 -11L-8.8 -11L-7.9 -11L-7.1 -11L-6.2 -11L-5.4 -11L-4.6 -11L-3.8 -11L-2.9 -11L-2.1 -11L-1.2 -11L-0.4 -11L0.4 -11L1.2 -11L2.1 -11L2.9 -11L3.8 -11L4.6 -11L5.4 -11L6.2 -11L7.1 -11L7.9 -11L8.8 -11L9.6 -11L10.4 -11L11.2 -11L12.1 -11L12.9 -11L13.8 -11L14.6 -11L15.4 -11L16.2 -11L17.1 -11L17.9 -11L18.8 -11L19.6 -11L20.4 -11L21.2 -11L22.1 -11L22.9 -11L23.8 -11L24.6 -11L25.4 -11L26.2 -11L27.1 -11L27.9 -11L28.8 -11L29.6 -11L30.4 -11L31.2 -11L32.1 -11L32.9 -11L33.8 -11L34.6 -11L35.4 -11L36.2 -11L37.1 -11L37.9 -11L38.8 -11L39.6 -11L40.4 -11L41.2 -11L42.1 -11L42.9 -11L43.8 -11L44.6 -11L45.4 -11L46.2 -11L47.1 -11L47.9 -11L48.8 -11L49.6 -11L50.4 -11L51.2 -11L52.1 -11L52.9 -11L53.8 -11L54.6 -11L55.4 -11L56.2 -11L57.1 -11L57.9 -11L58.8 -11L59.6 -11L60.4 -11L61.2 -11L62.1 -11L62.9 -11L63.8 -11L64.6 -11L65.4 -11L66.2 -11L66.3 -11L66.4 -10.1L66.4 -9.1L66.5 -8.1L66.2 -7.3L66.2 -7.2L66 -6.2L66.1 -5.3L66.2 -4.7L66.4 -4.3L66.7 -3.4L66.5 -2.4L66.3 -1.4L66.4 -0.5L66.6 0.5L66.5 1.4L66.4 2.4L66.3 3.4L66.2 3.6L66 4.3L65.4 5.3L65.4 5.3L64.6 6.2L64.5 6.2L63.8 6.5L62.9 6.6L62.1 6.8L61.2 7.1L61.1 7.2L60.4 7.8L60.1 8.1L59.6 8.7L59.1 9.1L58.8 9.7L58.1 10.1L57.9 10.2L57.1 10.3L56.2 10.6L55.6 11L55.4 11.1L54.6 11.2L53.8 11.4L52.9 11.7L52.1 11.9L52 12L51.2 12.6L51 12.9L50.7 13.9L51 14.9L51.2 15.2L51.7 15.8L52.1 16.1L52.9 16.6L53.1 16.8L53.8 17.3L54.4 17.7L54.6 18L54.9 18.7L55 19.6L55.4 20.4L55.6 20.6L56.2 21.4L56.3 21.6L57 22.5L57.1 22.6L57.9 23.3L58.6 23.5L58.8 23.5L59.6 23.7L60.4 23.5L60.5 23.5L61.2 23.1L62.1 22.9L62.9 23L63.8 23.1L64.6 22.9L65.3 22.5L65.4 22.4L66.2 22.3L66.6 22.5L67.1 23L67.9 23.3L68.2 23.5L68.8 23.7L69.6 23.7L69.9 23.5L70.4 23.2L71.2 22.7L71.9 22.5L72.1 22.5L72.9 22.4L73.8 22.4L74.3 22.5L74.6 22.6L75.4 22.7L76.2 22.8L77.1 22.9L77.9 22.8L78.7 22.5L78.8 22.5L79.6 22.2L80.4 22.3L80.9 22.5L81.2 22.8L82.1 23.3L82.9 23.3L83.8 22.5L83.8 22.5L84.6 21.9L85 21.6L85.4 21.1L86.1 20.6L86.2 20.2L87.1 19.7L87.1 19.6L87.9 19L88.8 18.7L88.8 18.7L89.6 18.3L90.4 17.9L91.2 18L92.1 18.4L92.6 18.7L92.9 18.9L93.8 19.1L94.6 19L95.4 18.8L95.5 18.7L96.1 17.7L96.2 17.5L97.1 17.2L97.9 17.4L98.5 17.7L98.8 17.9L99.6 18L99.6 18.7L99.6 19.6L99.6 20.6L99.6 21.6L99.6 22.5L99.6 23.5L99.6 24.4L99.6 25.4L99.6 26.4L99.6 27.3L99.6 28.3L99.6 29.2L99.6 30.2L99.6 31.1L99.6 32.1L99.6 33.1L99.6 34L99.6 35L99.6 35.9L99.6 36.9L99.6 37.9L99.6 38.8L99.6 39.8L99.6 40.7L99.6 41.7L99.6 42.6L99.6 43.6L99.6 44.6L99.6 45.5L99.6 46.5L99.6 47.4L99.6 48.4L99.6 49.4L99.6 50.3L99.6 51.3L99.6 52.2L99.6 53.2L99.6 54.1L99.6 55.1L99.6 56.1L99.6 56.9L99.3 57L98.8 57.1L98.2 58L98.3 58.9L98.8 59.5L99.1 59.9L99.6 60.3L99.6 60.9L99.6 61.8L99.6 62.8L99.6 63.7L99.6 64.7L99.6 65.6L99.6 66.6L99.6 67.6L99.6 68.5L99.6 69.5L99.6 70.4L99.6 71.4L99.6 72.4L99.6 73.3L99.6 74.3L99.6 75.2L99.6 76.2L99.6 77.1L99.6 78.1L99.6 79.1L99.6 80L99.6 80.9L98.9 81L98.8 81L97.9 81.8L97.8 81.9L97.1 82.5L96.2 82.5L95.4 81.9L95.4 81.9L94.6 81L94.6 80.9L93.8 80.1L92.9 80.2L92.1 80.4L91.3 80L91.2 80L90.4 79.4L89.6 79.3L88.8 79.9L88.6 80L87.9 80.7L87.5 81L87.1 81.4L86.6 81.9L86.4 82.9L86.3 83.9L86.2 84.7L86.2 84.8L86.2 84.8L87.1 85.3L87.6 85.8L87.9 86L88.7 86.7L88.8 86.8L89.6 87L90.4 86.8L90.6 86.7L91.2 86.3L92.1 86L92.9 86.1L93.8 86.4L94.2 86.7L94.6 86.9L95.4 86.9L95.7 86.7L96.2 86.3L97.1 86.2L97.9 86.5L98.6 86.7L98.8 86.8L99.6 87L99.6 87.7L99.6 88.6L99.6 89.6L99.6 90.6L99.6 91.5L99.6 92.5L99.6 93.4L99.6 94.4L99.6 95.4L99.6 96.3L99.6 97.3L99.6 98.2L99.6 99.2L99.6 100.1L99.6 101.1L99.6 102.1L99.6 103L98.8 103L97.9 103L97.1 103L96.2 103L95.4 103L94.6 103L93.8 103L92.9 103L92.1 103L91.2 103L90.4 103L89.6 103L88.8 103L87.9 103L87.1 103L86.2 103L85.4 103L84.6 103L83.8 103L82.9 103L82.1 103L81.2 103L80.4 103L79.6 103L78.8 103L77.9 103L77.1 103L76.2 103L75.4 103L74.6 103L73.8 103L72.9 103L72.1 103L71.2 103L70.4 103L69.6 103L68.8 103L67.9 103L67.1 103L66.2 103L65.4 103L65.3 103L65.4 102.4L65.5 102.1L65.7 101.1L65.4 100.1L65.4 100.1L64.6 99.4L64.3 99.2L64.3 98.2L64.4 97.3L64.6 96.7L64.7 96.3L65.2 95.4L65.4 94.4L65 93.4L64.8 92.5L64.9 91.5L65.1 90.6L65.3 89.6L64.9 88.6L64.6 88.3L63.9 87.7L63.8 87.6L62.9 87.2L62.1 87.2L61.2 87.3L60.4 87L60 86.7L59.6 86.4L58.8 86.6L58.6 86.7L58.4 87.7L58.6 88.6L58.8 89.2L58.9 89.6L59.3 90.6L59.6 90.9L60 91.5L60.4 92.5L60.4 92.6L61.2 93.3L61.8 93.4L62.1 93.6L62.7 94.4L62.1 95L61.5 95.4L61.2 95.5L60.4 96.1L60.3 96.3L60 97.3L60.3 98.2L60.4 98.5L60.8 99.2L61.2 100.1L60.8 101.1L60.4 101.8L60.2 102.1L60 103L59.6 103L58.8 103L57.9 103L57.1 103L56.2 103L55.4 103L54.6 103L53.8 103L52.9 103L52.1 103L51.2 103L50.4 103L49.8 103L49.8 102.1L49.7 101.1L49.6 100.1L49.8 99.2L49.9 98.2L50 97.3L50.4 96.5L50.6 96.3L51.2 95.4L50.4 94.8L50.1 94.4L49.9 93.4L49.6 92.5L49.6 92.5L48.8 91.9L48.5 91.5L48.5 90.6L48.7 89.6L48.8 89.1L48.8 88.6L48.8 88.5L48.5 87.7L47.9 86.7L47.9 86.7L47.1 85.9L46.2 86L45.5 86.7L45.4 86.9L45.1 87.7L45.2 88.6L45 89.6L44.6 90.3L44.3 90.6L44 91.5L44.2 92.5L44.6 93L44.8 93.4L45.3 94.4L45.2 95.4L44.6 95.9L44.1 96.3L43.8 96.6L43.3 97.3L43.2 98.2L43.4 99.2L43.8 100L43.9 100.1L44.4 101.1L44.5 102.1L44.5 103L43.8 103L42.9 103L42.1 103L41.2 103L40.4 103L39.6 103L38.8 103L37.9 103L37.1 103L36.2 103L35.4 103L34.6 103L34.4 103L34.6 102.6L34.7 102.1L34.6 101.4L34.5 101.1L33.8 100.1L33.8 99.9L33.6 99.2L33.7 98.2L33.8 98.2L34.5 97.3L34.6 97.2L34.9 96.3L34.9 95.4L35.2 94.4L35.4 94L36.2 93.6L36.7 93.4L37 92.5L36.2 91.6L36.2 91.5L35.4 90.9L35.1 90.6L34.6 89.8L34.5 89.6L34.3 88.6L34.2 87.7L33.9 86.7L33.8 86.5L32.9 86.1L32.3 85.8L32.1 85.6L31.8 85.8L31.2 86L30.9 86.7L30.4 87.4L29.9 87.7L29.6 88.1L28.8 87.7L28.7 87.7L27.9 87.5L27.7 87.7L27.1 88.6L27.1 88.6L27 89.6L27.1 89.9L27.6 90.6L27.9 90.8L28.2 90.6L28.8 90.1L29.6 90.1L29.7 90.6L30 91.5L29.9 92.5L29.6 93.4L29.6 93.5L29.2 94.4L29 95.4L29.3 96.3L29.6 96.6L29.9 97.3L29.8 98.2L29.6 98.5L28.7 99L27.9 99.1L27.9 99.2L27.7 100.1L27.9 100.8L28 101.1L28.4 102.1L28.7 103L27.9 103L27.1 103L26.2 103L25.4 103L24.6 103L23.8 103L22.9 103L22.1 103L21.2 103L20.4 103L19.6 103L18.8 103L17.9 103L17.1 103L16.2 103L15.4 103L14.6 103L13.8 103L12.9 103L12.7 103L12.1 102.1L12 102.1L11.4 101.1L11.2 100.9L10.7 100.1L10.4 99.3L10.4 99.2L10.3 98.2L10.4 98.1L10.7 97.3L10.8 96.3L10.6 95.4L10.4 95L9.9 94.4L9.6 93.9L9.2 93.4L8.9 92.5L8.8 91.5L9.5 90.6L9.6 90.5L10.4 89.6L9.6 88.6L9.6 88.6L8.8 87.9L7.9 87.8L7.4 87.7L7.1 87.7L6.2 87.5L5.8 87.7L5.4 87.8L4.6 87.9L4.2 87.7L3.8 87.4L2.9 86.7L2.9 86.7L2.1 85.9L1.9 85.8L1.2 85.2L0.4 85.5L-0.1 85.8L-0.4 85.9L-1.2 86.2L-2.1 86.2L-2.9 86.3L-3.8 86.5L-4.6 86.4L-5.4 85.8L-5.4 85.6L-6.2 84.8L-6.2 84.8L-6.3 84.8L-7.1 85.2L-7.7 85.8L-7.9 85.9L-8.8 86.5L-9.4 86.7L-9.6 86.8L-9.6 86.7L-9.6 85.8L-9.6 84.8L-9.6 83.9L-9.6 82.9L-9.6 81.9L-9.6 81L-9.6 80L-9.6 79.1L-9.6 78.1L-9.6 77.1L-9.6 76.2L-9.6 75.2L-9.6 74.3L-9.6 73.3L-9.6 72.4L-9.6 71.4L-9.6 70.4L-9.6 69.5L-9.6 68.5L-9.6 67.6L-9.6 66.6L-9.6 65.6L-9.6 64.7L-9.6 63.7L-9.6 62.8L-9.6 61.8L-9.6 60.9L-9.6 59.9L-9.6 58.9L-9.6 58L-9.6 57L-9.6 56.1L-9.6 55.1L-9.6 54.1L-9.6 53.2L-9.6 52.2L-9.6 51.3L-9.6 50.3L-9.6 49.4L-9.6 48.4L-9.6 47.4L-9.6 46.5L-9.6 45.5L-9.6 44.6L-9.6 43.6L-9.6 42.6L-9.6 41.7L-9.6 40.7L-9.6 39.8L-9.6 38.8L-9.6 37.9L-9.6 36.9L-9.6 35.9L-9.6 35L-9.6 34L-9.6 33.1L-9.6 32.1L-9.6 31.1L-9.6 30.2L-9.6 29.2L-9.6 28.3L-9.6 27.3L-9.6 26.4L-9.6 25.4L-9.6 24.4L-9.6 23.5L-9.6 22.5L-9.6 21.6L-9.6 20.6L-9.6 19.6L-9.6 18.7L-9.6 17.7L-9.6 16.8L-9.6 15.8L-9.6 14.9L-9.6 13.9L-9.6 12.9L-9.6 12L-9.6 11L-9.6 10.1L-9.6 9.1L-9.6 8.1L-9.6 7.2L-9.6 6.2L-9.6 5.3L-9.6 4.3L-9.6 3.4L-9.6 2.4L-9.6 1.4L-9.6 0.5L-9.6 -0.5L-9.6 -1.4L-9.6 -2.4L-9.6 -3.4L-9.6 -4.3L-9.6 -5.3L-9.6 -6.2L-9.6 -7.2L-9.6 -8.1L-9.6 -9.1L-9.6 -10.1ZM25.4 35.7L24.7 35.9L24.6 36L23.8 36.3L22.9 36.5L22.1 36.8L22 36.9L21.2 37.5L20.9 37.9L20.4 38.5L20.1 38.8L19.6 39.5L19.2 39.8L19.2 40.7L19.6 41.3L19.7 41.7L20.1 42.6L20.4 43.2L21.2 43.4L22.1 43.4L22.9 43.5L23.8 43.4L24.6 43.1L25.4 42.6L25.4 42.6L25.7 41.7L26 40.7L26.2 40.4L26.8 39.8L27.1 39.5L27.6 38.8L27.9 38.3L28.2 37.9L28.5 36.9L28.3 35.9L27.9 35.7L27.1 35.3L26.2 35.3ZM36.2 30L36 30.2L36.1 31.1L36.2 31.4L36.7 32.1L37.1 32.5L37.7 32.1L37.9 31.8L38.2 31.1L38.4 30.2L37.9 29.9L37.1 29.7ZM42.9 84.8L42.9 84.8L42.9 84.9L43 84.8ZM61.2 29.1L61.1 29.2L61.2 29.5L61.6 30.2L61.7 31.1L61.2 31.5L60.5 32.1L60.4 32.2L59.6 32.4L58.9 33.1L58.8 33.3L58.2 34L57.9 34.5L57.1 34.8L56.2 34.5L55.4 34.2L54.6 34.1L54.5 34L54.6 33.5L55.4 33.2L55.4 33.1L55.8 32.1L55.9 31.1L55.6 30.2L55.4 29.9L54.6 29.7L53.8 29.9L53.2 30.2L52.9 30.5L52.2 31.1L52.1 31.2L51.2 31.4L50.4 31.6L50.2 32.1L50.1 33.1L50 34L50 35L50 35.9L49.6 36.9L49.6 36.9L49.4 37.9L49.6 38.5L49.8 38.8L50.4 39.2L51.2 39L52.1 39L52.9 39.3L53.8 39.6L54.6 39.7L54.9 39.8L55.4 39.8L56.1 40.7L56.2 41.3L56.3 41.7L56.8 42.6L57.1 43.3L57.4 43.6L57.9 44.6L57.9 44.6L57.9 44.6L57.6 45.5L57.1 46.1L56.7 46.5L56.2 46.9L55.4 47.4L55.2 47.4L54.6 47.6L54.3 47.4L53.8 47.2L52.9 47L52.1 47.3L51.9 47.4L51.3 48.4L51.2 48.5L51 49.4L51.2 50.1L51.5 50.3L52.1 50.4L52.9 50.6L53.8 50.9L54.3 51.3L54.6 51.5L55.4 51.5L55.8 51.3L56.2 50.7L57.1 50.8L57.9 51.3L57.9 51.3L58.8 51.9L58.9 52.2L59.1 53.2L59.1 54.1L59.1 55.1L59.6 55.9L59.9 56.1L60.4 56.2L61.2 56.3L62.1 56.2L62.3 56.1L62.9 55.8L63.3 55.1L63.6 54.1L63.8 53.5L63.8 53.2L63.9 52.2L64 51.3L64.2 50.3L64.3 49.4L64.2 48.4L64.3 47.4L64.4 46.5L64.4 45.5L64.6 45.1L64.8 44.6L65.1 43.6L65.4 42.7L65.4 42.6L65.9 41.7L66.2 41.2L67.1 40.9L67.9 40.8L68 40.7L68.6 39.8L68.5 38.8L68.2 37.9L68 36.9L67.9 36.2L67.9 35.9L67.8 35L67.4 34L67.1 33.7L66.5 33.1L66.2 32.3L66.2 32.1L66.2 31.1L65.4 30.6L64.6 30.6L63.8 30.3L63.6 30.2L63 29.2L62.9 29.2L62.1 28.9ZM82.1 36.6L82 36.9L82 37.9L82.1 37.9L82.9 38.2L83.5 37.9L83.8 37.3L83.9 36.9L83.8 36.7L82.9 36.1ZM86.2 54L85.8 54.1L86.2 54.4L86.5 54.1ZM88.8 52.8L88.4 53.2L88.1 54.1L88.4 55.1L88.2 56.1L87.9 56.2L87.1 56.4L86.2 56.8L86.1 57L85.5 58L85.6 58.9L86.1 59.9L86.2 60.1L87.1 60.5L87.9 60.1L88.3 59.9L88.8 59.7L89.4 58.9L89.6 58.6L90 58L90.4 57.5L91 57L91.2 56.8L92.1 56.4L92.9 56.6L93.7 57L93.8 57L94.6 57.8L95.1 58L95.4 58.1L95.7 58L96.2 57.7L97 57L97.1 56.9L97.7 56.1L97.8 55.1L97.6 54.1L97.1 53.7L96.2 53.6L95.4 53.5L94.6 53.2L94.6 53.2L93.8 52.8L92.9 52.5L92.1 52.6L91.2 52.6L90.4 52.5L89.6 52.3ZM25.4 57.5L25.2 58L24.7 58.9L24.6 59.5L24.5 59.9L24.6 60.4L24.6 60.9L24.6 61.5L24.6 61.8L24 62.8L23.8 63L22.9 63.7L22.9 63.7L22.2 64.7L22.1 65.1L21.9 65.6L22.1 66.3L22.2 66.6L22.6 67.6L22.9 68.1L23.1 68.5L23.7 69.5L23.8 69.5L24.5 70.4L24.6 70.5L25.3 71.4L25.4 71.6L26.1 72.4L26.2 72.5L27.1 73.2L27.8 73.3L27.9 73.4L28.5 73.3L28.8 73.2L28.8 73.3L29.6 73.8L30.4 73.7L31.2 73.8L31.5 74.3L31.9 75.2L32.1 75.7L32.9 75.8L33.1 75.2L33.6 74.3L33.8 74.1L34.6 73.6L35.4 74L35.7 74.3L36.2 74.7L37.1 74.6L37.5 74.3L37.9 74.1L38.8 73.8L39.6 73.4L39.6 73.3L40 72.4L40.1 71.4L40.3 70.4L40.4 70.2L40.6 69.5L40.6 68.5L40.5 67.6L40.4 67.1L40.4 66.6L40.1 65.6L39.6 64.7L39.6 64.7L39.1 63.7L39 62.8L39.2 61.8L39.6 61.3L40 60.9L40.4 60.2L40.6 59.9L40.5 58.9L40.4 58.8L39.6 58.2L38.8 58.3L37.9 58.5L37.1 58.7L36.2 58.6L35.4 58.1L35.1 58L34.6 57.8L34 58L33.8 58.1L32.9 58.8L32.1 58.9L31.2 58.6L30.4 58.3L29.9 58L29.6 57.9L28.8 57.8L27.9 57.8L27.1 57.7L26.2 57.5ZM56.2 63.7L56.2 63.7L55.4 64.4L55 64.7L54.6 64.9L53.8 65.4L52.9 65L52.5 64.7L52.1 64.5L51.2 64.4L50.4 64.4L49.6 64.5L49.1 64.7L48.8 64.8L47.9 65.1L47.1 65.3L46.3 65.6L46.2 65.7L45.7 66.6L45.4 67L45 67.6L44.7 68.5L44.9 69.5L44.9 70.4L44.7 71.4L44.6 71.7L44.4 72.4L44.3 73.3L44.6 73.7L44.8 74.3L45.4 75.2L45.4 75.2L45.8 76.2L46.1 77.1L46.2 77.4L47.1 78.1L47.2 78.1L47.8 79.1L47.7 80L47.9 81L47.9 81.1L48.8 81.2L49 81L49.1 80L49 79.1L49.3 78.1L49.6 77.7L49.9 77.1L50.3 76.2L50.2 75.2L50.1 74.3L50.2 73.3L50.3 72.4L50.2 71.4L50.1 70.4L50.4 70L51.2 69.5L51.5 69.5L52.1 69.3L52.8 68.5L52.9 68.1L53.8 67.8L54.2 68.5L54.6 69.1L54.7 69.5L54.7 70.4L54.7 71.4L55 72.4L55.4 73.1L55.6 73.3L56.2 73.8L57.1 74.2L57.2 74.3L57.9 74.6L58.8 74.5L59 74.3L59.6 73.6L59.7 73.3L60.2 72.4L60.4 71.6L60.5 71.4L60.6 70.4L61.2 69.7L61.7 69.5L62.1 69.2L62.9 69.1L63.8 69L64.6 68.8L65.4 68.7L66.2 68.9L67.1 68.9L67.7 68.5L67.9 68.4L68.8 67.6L68.8 67.6L69.3 66.6L69.6 66L69.7 65.6L69.7 64.7L69.6 64.6L68.8 64.4L67.9 64.6L67.1 64.6L66.2 64.5L65.4 64.3L64.6 64.3L63.8 64.2L62.9 64.4L62.1 64.6L61.2 64.5L60.6 63.7L60.4 63.5L59.6 63.4L58.8 63.3L57.9 63.2L57.1 63.1ZM59.6 44.6L59.6 44.6L59.6 44.6L59.6 44.6ZM57.6 68.5L57.9 67.7L58.8 67.8L59.1 68.5L58.8 69.1L57.9 69.1Z" fill="#26828e" fill-rule="evenodd"/>
<path d="M-9.6 -11L-8.8 -11L-8.1 -11L-7.9 -10.8L-7.5 -11L-7.1 -11L-6.2 -11L-5.4 -11L-4.6 -11L-3.8 -11L-2.9 -11L-2.1 -11L-1.2 -11L-0.4 -11L0.4 -11L1.2 -11L2.1 -11L2.9 -11L3.8 -11L4.6 -11L5.4 -11L6.2 -11L7.1 -11L7.9 -11L8.8 -11L9.6 -11L10.4 -11L11.2 -11L12.1 -11L12.9 -11L13.8 -11L14.6 -11L15.4 -11L16.2 -11L17.1 -11L17.9 -11L18.8 -11L19.6 -11L20.4 -11L21.2 -11L22.1 -11L22.9 -11L23.8 -11L24.6 -11L25.4 -11L26.2 -11L27.1 -11L27.9 -11L28.8 -11L29.6 -11L30.4 -11L31.2 -11L32.1 -11L32.9 -11L33.8 -11L34.6 -11L35.4 -11L36.2 -11L37.1 -11L37.9 -11L38.8 -11L39.6 -11L40.4 -11L41.2 -11L42.1 -11L42.9 -11L43.8 -11L44.6 -11L45.4 -11L46.2 -11L47.1 -11L47.9 -11L48.8 -11L49.6 -11L50.4 -11L51.2 -11L52.1 -11L52.9 -11L53.8 -11L54.6 -11L55.4 -11L56.2 -11L57.1 -11L57.9 -11L58.8 -11L59.6 -11L60.4 -11L61.2 -11L62 -11L62.1 -11L62.1 -11L62.9 -11L63.8 -11L63.8 -11L63.9 -10.1L64.1 -9.1L64.1 -8.1L64 -7.2L64 -6.2L64 -5.3L64.2 -4.3L64.3 -3.4L64.6 -2.4L64.6 -2.4L64.8 -1.4L64.9 -0.5L64.7 0.5L64.6 1.4L64.6 1.5L64.3 2.4L63.8 2.8L63 3.4L62.9 3.4L62.1 3.9L61.2 3.9L60.4 4L59.8 4.3L59.6 4.4L58.8 4.8L57.9 4.9L57.1 4.8L56.2 5.2L56.1 5.3L55.4 5.7L54.6 5.7L53.8 5.5L53.2 5.3L52.9 4.7L52.4 4.3L52.1 4L51.9 4.3L51.3 5.3L51.2 5.3L50.8 6.2L50.7 7.2L50.9 8.1L50.9 9.1L50.4 9.5L49.6 10.1L49.6 10.1L48.8 10.2L47.9 10.3L47.1 10.7L46.7 11L46.2 11.5L45.6 12L45.4 12.1L44.6 12L44.5 12L43.8 11.8L43 12L42.9 12L42.1 12.5L41.8 12.9L41.4 13.9L41.2 14.5L41.1 14.9L40.4 15.6L40.2 15.8L39.6 16.4L39.3 16.8L38.8 17.7L38.8 17.8L38.6 18.7L38.8 18.9L39.6 19.6L39.6 19.6L40.2 20.6L39.6 21.4L39.4 21.6L38.9 22.5L39.6 23.3L39.7 23.5L40.4 24.4L40.5 24.4L41.2 25.4L41.3 25.4L42.1 25.7L42.5 26.4L42.6 27.3L42.1 27.6L41.4 27.3L41.2 27.2L40.8 26.4L40.4 25.7L39.6 26.1L39.3 26.4L38.8 26.7L37.9 27.2L37.6 27.3L37.1 27.4L36.2 27.5L35.4 27.6L34.6 27.7L33.8 28L32.9 28.3L32.9 28.3L32.1 28.8L31.4 29.2L31.2 29.3L30.7 30.2L30.5 31.1L30.4 31.4L30.2 32.1L29.6 33.1L29.6 33.1L28.8 33.5L27.9 33.2L27.5 33.1L27.1 32.8L26.6 33.1L26.2 33.2L25.4 33.7L24.6 33.8L23.8 33.8L22.9 33.8L22.1 33.9L21.2 33.9L20.4 33.6L19.6 33.4L18.8 33.9L18.4 34L17.9 34.1L17.1 34.3L16.2 34.7L15.4 35L15.4 35L14.6 35.7L14.5 35.9L14.5 36.9L14.5 37.9L14.4 38.8L14.1 39.8L13.8 40.3L13.3 40.7L12.9 41L12.1 41.7L12.1 41.7L11.2 42.2L10.4 42.3L9.8 42.6L9.6 42.8L8.8 43.2L8.1 43.6L7.9 43.7L7.2 44.6L7.1 44.8L6.2 45.5L6 45.5L5.4 45.8L4.6 46.5L4.6 46.5L4.2 47.4L4.3 48.4L4.6 49.1L4.7 49.4L5.4 50.2L5.6 50.3L6.2 50.5L7.1 50.5L7.9 50.4L8.8 50.6L9.6 50.9L10.4 50.9L11.2 50.7L12.1 50.7L12.9 50.9L13.8 50.9L14.6 50.8L15.4 50.8L16.2 50.8L17.1 50.8L17.9 50.7L18.8 50.5L19 50.3L19.5 49.4L19.6 49.1L19.7 48.4L20 47.4L20.4 46.6L20.5 46.5L21.2 45.9L22.1 45.7L22.9 45.9L23.8 45.9L24.6 45.9L25.4 46.2L26.2 46.5L26.2 46.5L27.1 46.6L27.8 46.5L27.9 46.4L28.3 45.5L28.7 44.9L29.6 44.8L29.9 44.6L30.4 44.1L30.5 43.6L30.8 42.6L31.1 41.7L31.2 41.3L31.9 40.7L32.1 40.5L32.9 40.3L33.8 40.1L34 39.8L34.1 38.8L34.1 37.9L34 36.9L33.8 35.9L34 35L34.6 34.6L35.4 34.4L36.2 34.6L37.1 34.7L37.9 34.7L38.8 34.5L39.6 34.2L40.4 34.2L41.2 34.8L41.7 35L42.1 35.2L42.9 35.4L43.8 35.7L44.5 35.9L44.6 36L45.3 36.9L45.4 37.1L45.7 37.9L46 38.8L46.1 39.8L46.2 40.2L46.7 40.7L47.1 41.1L47.9 41.7L47.9 41.7L48.3 42.6L48.8 43.5L48.8 43.6L49.1 44.6L49.6 45.5L49.6 45.5L49.6 45.5L49.2 46.5L48.8 47.2L47.9 47.3L47.6 46.5L47.7 45.5L47.7 44.6L47.1 43.6L47.1 43.6L46.2 42.7L46.2 42.6L45.4 41.8L45.2 41.7L44.6 41.3L43.8 41.6L43.6 41.7L42.9 42.2L42.1 42L41.2 41.9L40.4 42.1L39.6 42.3L38.8 42.6L38.8 42.6L37.9 42.8L37.7 42.6L37.1 42.2L36.6 41.7L36.2 41.3L35.4 41.1L34.8 41.7L34.6 42L34 42.6L33.8 43.6L33.9 44.6L33.8 45.1L33.6 45.5L32.9 46.2L32.5 46.5L32.1 46.8L31.2 47.1L30.5 47.4L30.4 47.7L30.3 48.4L30.3 49.4L30.2 50.3L29.8 51.3L29.6 51.6L28.8 52.1L27.9 52.2L27.8 52.2L27.1 52.6L26.2 53.1L25.4 53.1L25 53.2L24.6 53.2L23.8 53.6L22.9 53.9L22.1 53.9L21.2 53.8L20.4 53.9L20.2 54.1L19.9 55.1L20 56.1L20.2 57L20.1 58L19.9 58.9L20 59.9L20.3 60.9L20.4 61.4L20.5 61.8L20.4 62.3L20.2 62.8L19.6 63.5L19.4 63.7L19.4 64.7L19.6 65.1L19.7 65.6L19.9 66.6L19.8 67.6L19.7 68.5L20.4 69.4L20.4 69.5L21 70.4L21.2 71.1L21.4 71.4L22.1 72.2L22.4 72.4L22.9 72.9L23.3 73.3L23.8 73.6L24.6 74.2L24.7 74.3L25.4 74.7L26.2 75.2L26.3 75.2L27.1 75.9L27.5 76.2L27.9 76.8L28.2 77.1L28.3 78.1L28.3 79.1L28.3 80L27.9 80.2L27.1 80.4L26.2 80.9L26.1 81L25.4 81.3L24.8 81.9L24.8 82.9L25.4 83.7L25.5 83.9L25.8 84.8L25.7 85.8L25.5 86.7L25.4 87L24.8 87.7L24.6 88L24.2 87.7L23.8 87.4L23 86.7L22.9 86.6L22.1 86.3L21.2 86.1L20.5 85.8L20.4 85.7L19.6 85L19.3 84.8L18.8 84.2L18 84.8L17.9 84.9L17.4 85.8L17.1 86.2L16.3 86.7L16.2 86.7L16.2 86.7L15.4 86.4L15 85.8L14.6 85.1L14.3 84.8L13.8 84.5L12.9 84.4L12.1 84.3L11.5 83.9L11.2 83.6L11 82.9L10.5 81.9L10.4 81.9L9.8 81L9.6 80.6L9 80L8.8 79.6L7.9 79.2L7.2 80L7.1 80.1L6.5 80L7 79.1L6.4 78.1L6.2 77.9L5.4 77.2L5.3 77.1L4.6 76.5L4 76.2L3.8 76.1L2.9 76.1L2.1 76.1L1.2 76.1L0.4 76.1L-0.4 76.1L-1.2 76.1L-2.1 75.7L-2.8 75.2L-2.9 75.2L-3.8 74.6L-4 74.3L-4.6 73.7L-5.3 73.3L-5.4 73.3L-5.6 73.3L-6.2 73.8L-6.5 74.3L-6.9 75.2L-7.1 75.7L-7.9 76.2L-8 76.2L-8.8 76.5L-9.6 76.6L-9.6 76.2L-9.6 75.2L-9.6 74.3L-9.6 73.3L-9.6 72.4L-9.6 71.4L-9.6 70.4L-9.6 69.5L-9.6 68.5L-9.6 67.6L-9.6 66.6L-9.6 65.6L-9.6 64.7L-9.6 63.7L-9.6 62.8L-9.6 61.8L-9.6 60.9L-9.6 59.9L-9.6 58.9L-9.6 58L-9.6 57L-9.6 56.1L-9.6 55.1L-9.6 54.1L-9.6 53.2L-9.6 52.2L-9.6 51.3L-9.6 50.3L-9.6 49.4L-9.6 48.4L-9.6 47.4L-9.6 46.5L-9.6 45.5L-9.6 44.6L-9.6 43.6L-9.6 42.6L-9.6 41.7L-9.6 40.7L-9.6 39.8L-9.6 38.8L-9.6 37.9L-9.6 36.9L-9.6 35.9L-9.6 35L-9.6 34L-9.6 33.1L-9.6 32.1L-9.6 31.1L-9.6 30.2L-9.6 29.2L-9.6 28.3L-9.6 27.3L-9.6 26.4L-9.6 25.4L-9.6 24.4L-9.6 23.5L-9.6 22.5L-9.6 21.6L-9.6 20.6L-9.6 19.6L-9.6 18.7L-9.6 17.7L-9.6 16.8L-9.6 15.8L-9.6 14.9L-9.6 13.9L-9.6 12.9L-9.6 12L-9.6 11L-9.6 10.1L-9.6 9.1L-9.6 8.1L-9.6 7.2L-9.6 6.2L-9.6 5.3L-9.6 4.3L-9.6 3.4L-9.6 2.4L-9.6 1.4L-9.6 0.5L-9.6 -0.5L-9.6 -1.4L-9.6 -2.4L-9.6 -3.4L-9.6 -4.3L-9.6 -5.3L-9.6 -6.2L-9.6 -7.2L-9.6 -8.1L-9.6 -9.1L-9.6 -10.1ZM-3.8 47.4L-3.8 47.4L-3.8 47.5L-2.9 47.6L-2.6 47.4L-2.9 47.2ZM-0.4 39.5L-0.5 39.8L-0.4 39.8L-0.3 39.8ZM13.7 0.3L13.4 0.5L13.7 1.4L13.8 1.5L14.6 1.6L14.9 1.4L14.9 0.5L14.6 0.3ZM28.8 2.9L28.1 3.4L28.1 4.3L28.7 5.3L28.8 5.4L29.3 5.3L29.6 4.3L29.6 4.3L29.6 4.3L29 3.4ZM36.2 20.9L36.2 21.6L36.2 21.8L37.1 22.5L37.1 22.5L37.2 22.5L37.7 21.6L37.1 20.7ZM37.9 -2.8L37.8 -2.4L37.9 -2.3L38.6 -2.4ZM47.9 -6.4L47.8 -6.2L47.9 -5.3L47.9 -5.2L48.8 -5.2L48.8 -5.3L48.9 -6.2L48.8 -6.4ZM45.1 18.7L45.4 18.1L46.2 17.8L47.1 18.1L47.9 18.1L48.8 17.9L49.4 18.7L49.6 18.9L50 19.6L50.3 20.6L50.4 21.2L50.6 21.6L51.2 22.1L52.1 22.4L52.3 22.5L52.9 22.8L53.8 23L54.5 23.5L54.6 23.9L54.7 24.4L54.6 24.7L54.1 25.4L53.8 25.8L52.9 26L52.6 26.4L52.1 26.7L51.2 27.1L50.4 27.2L50 27.3L49.6 27.4L48.8 27.7L47.9 27.8L47.1 28L46.3 28.2L45.4 28.2L44.6 27.4L44.5 27.3L44.4 26.4L44.3 25.4L44.3 24.4L44.6 23.9L44.9 23.5L45.4 23L46 22.5L46 21.6L45.4 20.7L45.3 20.6L44.7 19.6ZM72.5 24.4L72.9 24.3L73.8 24.1L74.6 24.3L75 24.4L75.4 24.6L76.2 25L77.1 25L77.9 24.9L78.8 25.1L79.2 25.4L79.6 26.1L79.7 26.4L80.3 27.3L80.4 27.7L81.2 27.9L82.1 27.8L82.8 28.3L82.9 28.3L83.3 29.2L83.7 30.2L83.8 30.3L84.6 30.7L85.4 30.3L85.9 30.2L86.2 30.1L86.6 30.2L87.1 30.3L87.9 30.7L88.8 30.5L89.2 30.2L89.6 29.8L90.3 29.2L90.4 29.1L91.2 29.1L91.8 29.2L92.1 29.3L92.6 29.2L92.9 29.2L93.8 29L94.6 28.9L95.4 28.8L96.3 28.4L96.5 28.3L97.1 28.1L97.9 28L98.8 27.9L99.6 27.7L99.6 28.3L99.6 29.2L99.6 30.2L99.6 31.1L99.6 32.1L99.6 33.1L99.6 34L99.6 35L99.6 35.9L99.6 36.9L99.6 37.9L99.6 38.8L99.6 39.8L99.6 40.7L99.6 41.7L99.6 42.6L99.6 43.6L99.6 44.6L99.6 45.5L99.6 46.5L99.6 47.4L99.6 48.4L99.6 49.4L99.6 50.2L98.8 50L97.9 49.9L97.3 50.3L97.1 50.4L96.2 51L95.4 51.2L94.6 50.4L94.5 50.3L93.8 49.8L92.9 49.8L92.5 50.3L92.1 50.6L91.2 50.8L90.4 50.4L90.2 50.3L89.6 49.9L88.8 49.7L87.9 49.9L87.4 50.3L87.1 50.6L86.2 50.8L85.4 50.7L84.6 50.6L83.8 50.8L83.2 51.3L82.9 51.9L82.7 52.2L82.1 53.1L82 53.2L81.4 54.1L81.2 54.3L80.9 55.1L80.4 55.7L80.1 56.1L79.6 56.4L78.8 56.6L77.9 56.7L77.1 56.8L76.2 56.9L76.2 57L76.2 57.1L76.6 58L76.6 58.9L76.2 59.8L76.2 59.9L75.4 60.7L75.3 60.9L74.6 61.7L74.5 61.8L73.8 62.2L72.9 62.4L72.1 62.6L71.3 62.7L70.4 62.4L69.6 61.9L69.3 61.8L68.8 61.4L67.9 61L67.5 60.9L67.1 60.5L66.6 59.9L66.2 59.5L66 58.9L65.8 58L66 57L66.1 56.1L66.2 55.3L66.3 55.1L66.6 54.1L66.7 53.2L67.1 52.4L67.1 52.2L67.9 51.4L68 51.3L68.7 50.3L68.7 49.4L68.8 49.2L68.8 48.4L69 47.4L69.6 46.5L69.6 46.5L70.1 45.5L70.3 44.6L70.4 44.4L70.8 43.6L71.2 43.1L71.7 42.6L72.1 42.3L72.4 41.7L72.7 40.7L72.4 39.8L72.1 39.4L71.5 38.8L71.2 38.6L70.6 37.9L70.4 37.5L70.2 36.9L70.2 35.9L70.3 35L70.2 34L69.6 33.2L69.5 33.1L68.8 32.2L68.7 32.1L68.8 31.7L68.9 31.1L69.6 30.3L69.6 30.2L70 29.2L70.1 28.3L69.8 27.3L69.9 26.4L70.4 25.9L70.9 25.4L71.2 25.2L72.1 24.7ZM81.2 33.8L80.8 34L80.4 34.4L79.8 35L79.6 35.2L78.8 35.9L79.2 36.9L79.6 37.3L79.9 37.9L80.3 38.8L80.4 39.2L80.7 39.8L81.2 40.5L81.7 40.7L82.1 40.9L82.9 41.1L83.8 40.8L83.8 40.7L84.6 40.1L84.8 39.8L85.4 39.1L85.7 38.8L86.2 37.9L86.3 37.9L86.5 36.9L86.2 36.2L86.2 35.9L85.4 35.1L85.3 35L84.6 34.1L84.5 34L83.8 33.3L82.9 33.4L82.1 33.5ZM46.1 50.3L46.2 50.2L46.6 50.3L47.1 50.5L47.9 51.2L47.9 51.3L48.5 52.2L48.6 53.2L48.8 53.5L49.1 54.1L49.6 54.5L50.4 54.6L51.2 54.1L51.2 54.1L52.1 53.4L52.4 53.2L52.9 52.9L53.4 53.2L53.8 53.5L54.1 54.1L54.5 55.1L54.3 56.1L53.8 57L53.8 57.2L52.9 58L52.8 58L52.8 58.9L52.9 59.2L53.1 59.9L52.9 60.9L52.9 60.9L52.1 61.6L51.2 61.5L50.4 61.2L49.6 61.4L48.8 61.7L48 61.8L47.9 61.8L47.8 61.8L47.1 61.8L46.2 61.4L45.4 60.9L45.3 60.9L45 59.9L45.4 58.9L45.4 58.8L45.6 58L45.6 57L45.6 56.1L45.4 55.4L45.3 55.1L44.6 54.3L44.2 54.1L43.9 53.2L44.6 52.4L44.7 52.2L45.3 51.3L45.4 51.1ZM77.4 63.7L77.9 63.5L78.8 63.4L79.6 63.4L80.4 63.6L80.5 63.7L80.7 64.7L80.8 65.6L80.6 66.6L80.4 67L80.2 67.6L79.9 68.5L79.9 69.5L80.4 70.1L80.9 70.4L81.2 70.5L81.7 70.4L82.1 70.2L82.7 69.5L82.9 69.3L83.8 69.2L84.1 69.5L84.6 70.3L84.7 70.4L85 71.4L85.3 72.4L85.3 73.3L85.1 74.3L85.1 75.2L85.4 75.9L85.7 76.2L85.9 77.1L85.6 78.1L85.4 78.4L85.2 79.1L84.6 79.9L84.3 80L83.8 80.3L82.9 80.4L82.1 80.5L81.2 80.9L81.1 81L80.6 81.9L80.5 82.9L80.5 83.9L80.4 84.2L80.3 84.8L79.9 85.8L79.9 86.7L80.1 87.7L79.9 88.6L79.6 89.1L78.8 89L78.1 88.6L77.9 87.7L77.9 87.7L77.8 86.7L77.1 85.8L77 85.8L76.2 85.2L75.4 85L74.6 85.3L74 85.8L73.8 86.1L73 86.7L72.9 86.8L72.1 87L71.2 86.9L70.7 86.7L70.4 86.6L69.6 86.6L68.8 86.7L68.5 86.7L67.9 86.8L67.2 86.7L67.1 86.7L66.2 86.5L65.4 86L65.1 85.8L64.6 85.1L64.3 84.8L64.4 83.9L64.6 83.8L65.2 82.9L65.1 81.9L64.9 81L64.8 80L64.6 79.1L64.6 79.1L64.6 78.7L64.6 78.1L65 77.1L65.4 76.3L65.5 76.2L66.2 75.3L67.1 75.6L67.8 76.2L67.9 76.3L68.8 76.3L68.9 76.2L69.6 75.5L69.9 75.2L70.4 74.3L70.4 74.3L70.6 73.3L70.6 72.4L70.7 71.4L70.7 70.4L70.8 69.5L71.2 68.9L72.1 69.1L72.9 69.2L73.8 68.9L73.9 68.5L74.2 67.6L74.4 66.6L74.6 66.2L74.8 65.6L75.4 65.3L76 64.7L76.2 64.5L77.1 63.9ZM99.5 74.3L99.6 74.2L99.6 74.3L99.6 75.2L99.6 75.5L99.5 75.2ZM-6.7 78.1L-6.2 77.7L-6.1 78.1L-6.1 79.1L-6.2 79.4L-6.4 79.1ZM38.6 103L38.8 102.8L38.8 103L38.8 103Z" fill="#1fa088" fill-rule="evenodd"/>
<path d="M2.5 -11L2.9 -11L3.3 -11L2.9 -10.7ZM56.9 -7.2L57.1 -7.3L57.3 -7.2L57.1 -6.4ZM32.8 -1.4L32.9 -1.7L33.8 -2.3L34.3 -1.4L33.8 -0.5L33.8 -0.5L32.9 0L32.7 -0.5ZM-9.6 4.3L-9.6 3.4L-8.8 4.3L-8.7 4.3L-8.8 4.4L-9.5 5.3L-9.6 5.3L-9.6 5.3ZM73.6 47.4L73.8 47.4L74.6 47L75.4 47.4L75.4 47.4L75.9 48.4L75.9 49.4L75.4 50.1L75.3 50.3L74.6 51L73.8 50.9L72.9 50.7L72.1 50.7L71.2 50.5L71.1 50.3L70.6 49.4L70.8 48.4L71.2 47.9L72.1 47.7L72.9 47.9ZM22.6 48.4L22.9 48.2L23.8 48.3L24 48.4L24.6 49.2L24.7 49.4L24.6 49.5L23.8 49.9L22.9 49.7L22.3 49.4ZM5 53.2L5.4 52.9L6.2 53.1L6.6 53.2L7.1 53.4L7.9 53.4L8.8 53.2L8.9 53.2L9.6 53.1L10.4 53L11.2 52.8L12.1 52.7L12.9 52.9L13.8 53.1L13.9 53.2L14.6 53.8L14.9 54.1L15.4 54.9L15.6 55.1L16.1 56.1L15.9 57L15.4 57.8L15.3 58L14.9 58.9L15.2 59.9L15.2 60.9L15.2 61.8L15.4 62L15.8 62.8L16.2 63.2L16.6 63.7L16.7 64.7L16.2 65.1L15.4 65.6L15.4 65.6L15 66.6L15.4 67.6L15.4 67.6L16.2 68.1L17.1 68.5L17.1 68.5L17.8 69.5L17.9 69.8L18.3 70.4L18.8 71.2L18.9 71.4L19.3 72.4L19.3 73.3L19.6 74.3L19.6 74.3L20.1 75.2L20.4 75.6L21.2 75.6L22.1 75.6L22.9 75.8L23.8 76.1L23.8 76.2L24.1 77.1L23.8 78L23.6 78.1L22.9 78.4L22.1 78.2L21.2 78.1L20.4 79L20.4 79.1L20.4 80L19.8 81L19.6 81.1L18.8 81.2L17.9 81L17.9 81L17.1 80.3L16.2 80.2L15.4 80.3L14.6 80.1L14.5 80L13.8 79.5L12.9 79.2L12.1 79.1L12.1 79.1L11.2 78.2L11.2 78.1L11.2 77.1L11 76.2L10.9 75.2L11.1 74.3L11.2 74L11.6 73.3L12 72.4L12.1 72L12.4 71.4L12.4 70.4L12.1 70.3L11.2 70.2L10.4 69.9L9.8 69.5L9.6 69.4L8.8 69L8.3 68.5L7.9 68.2L7.1 67.7L6.6 67.6L6.2 67.1L5.9 66.6L5.4 65.8L5.3 65.6L4.6 64.9L4.3 64.7L3.8 64.3L2.9 64.4L2.3 64.7L2.1 64.8L1.6 64.7L1.2 64.6L0.4 64.2L-0.4 64L-1.2 64L-2.1 64.4L-2.8 64.7L-2.9 64.8L-3.8 64.9L-4.6 64.7L-4.9 64.7L-5.4 64.7L-5.4 64.7L-6.2 65.1L-7.1 65.3L-7.9 65.1L-8.8 64.9L-9.3 64.7L-9.6 64.6L-9.6 63.7L-9.6 62.8L-9.6 61.8L-9.6 60.9L-9.6 59.9L-9.6 58.9L-9.6 58L-9.6 57L-9.6 56.8L-8.8 56.7L-7.9 56.5L-7.1 56.2L-6.3 56.1L-6.2 56L-6.1 56.1L-5.4 56.1L-4.6 56.2L-3.8 56.5L-2.9 56.6L-2.1 56.4L-1.2 56.3L-0.4 56.2L0.4 56.3L1.2 56.2L2.1 56.2L2.9 56.2L3.6 56.1L3.8 56L4.4 55.1L4.6 54.6L4.7 54.1ZM74.2 77.1L74.6 76.5L75.4 76.6L75.6 77.1L75.5 78.1L75.4 78.4L74.6 78.4L74.1 78.1ZM70.2 78.1L70.4 77.8L71.2 77.3L72.1 77.6L72.9 78L73.2 78.1L73.5 79.1L73.1 80L72.9 80.2L72.1 80.4L71.3 80L71.2 80L70.4 79.2L70.3 79.1Z" fill="#3fbc73" fill-rule="evenodd"/>
<path d="M-9.6 58.9L-9.6 58.5L-8.8 58.7L-7.9 58.7L-7.1 58.8L-6.2 58.7L-5.4 58.6L-4.6 58.9L-4.4 58.9L-3.8 59.2L-2.9 59L-2.8 58.9L-2.1 58.8L-1.4 58.9L-1.2 59L-0.4 59.3L0.4 59.3L0.8 58.9L1.2 58.8L2.1 58.7L2.4 58.9L2.9 59.5L3.2 59.9L3.6 60.9L2.9 61.5L2.1 61.5L1.5 60.9L1.2 60.5L0.4 60.3L0 60.9L-0.4 61.3L-0.8 61.8L-1.2 62L-2.1 62.3L-2.9 62.3L-3.8 61.9L-3.9 61.8L-4.6 61.4L-5.4 61.7L-5.5 61.8L-6.2 62.3L-7.1 62.6L-7.9 62.2L-8.3 61.8L-8.8 61.2L-9.2 60.9L-9.6 60.6L-9.6 59.9Z" fill="#84d44b" fill-rule="evenodd"/></g>
<g id="m_hazb"><rect x="-1" y="-1" width="92" height="94" fill="#424086"/>
<path d="M-9.6 -11L-8.8 -11L-7.9 -11L-7.1 -11L-6.2 -11L-5.4 -11L-4.6 -11L-3.8 -11L-2.9 -11L-2.1 -11L-1.2 -11L-0.4 -11L0.4 -11L1.2 -11L2.1 -11L2.9 -11L3.8 -11L4.6 -11L5.4 -11L6.2 -11L7.1 -11L7.9 -11L8.8 -11L9.6 -11L10.4 -11L11.2 -11L12.1 -11L12.9 -11L13.8 -11L14.6 -11L15.4 -11L16.2 -11L17.1 -11L17.9 -11L18.8 -11L19.6 -11L20.4 -11L21.2 -11L22.1 -11L22.1 -11L22.1 -11L22.9 -11L23.8 -11L24.6 -11L25.1 -11L25.4 -10.8L26.2 -10.3L27.1 -10.3L27.9 -10.6L28.2 -11L28.8 -11L29.6 -11L30.4 -11L31.2 -11L32.1 -11L32.9 -11L33.8 -11L34.6 -11L35.4 -11L36.2 -11L37.1 -11L37.9 -11L38.8 -11L39.6 -11L40.4 -11L41.2 -11L42.1 -11L42.9 -11L43.8 -11L44.6 -11L45.4 -11L46.2 -11L47.1 -11L47.9 -11L48.8 -11L49.6 -11L49.6 -11L50.4 -10.1L50.4 -9.1L49.9 -8.1L49.7 -7.2L49.7 -6.2L50 -5.3L50.4 -4.6L50.6 -4.3L51.2 -3.4L51.2 -3L51.4 -2.4L51.2 -2.2L50.6 -1.4L50.4 -1L50.2 -0.5L50.4 0.5L50.4 0.5L50.7 1.4L51.2 2.2L51.4 2.4L52.1 3.3L52.1 3.4L52.7 4.3L52.9 4.5L53.8 4.5L54.6 4.3L54.7 4.3L55.3 3.4L54.6 2.5L54.6 2.4L54.6 2.3L54.7 1.4L55 0.5L55 -0.5L55 -1.4L55.2 -2.4L55.1 -3.4L54.6 -4.3L54.6 -4.3L54.2 -5.3L54 -6.2L53.8 -6.9L53.6 -7.2L53.3 -8.1L53.8 -9L53.8 -9.1L54.6 -9.7L54.8 -10.1L55.4 -11L55.4 -11L56.2 -11L57.1 -11L57.9 -11L58.8 -11L59.6 -11L60.4 -11L61.2 -11L62.1 -11L62.9 -11L63.8 -11L64.6 -11L65.4 -11L66.2 -11L67.1 -11L67.9 -11L68.8 -11L69.6 -11L70.4 -11L71.2 -11L72.1 -11L72.9 -11L73.8 -11L74.6 -11L75.4 -11L76.2 -11L77.1 -11L77.9 -11L78.8 -11L79.6 -11L80.4 -11L81.1 -11L81.2 -10.1L81.2 -9.1L80.9 -8.1L80.6 -7.2L80.5 -6.2L80.6 -5.3L80.8 -4.3L81.1 -3.4L81.2 -2.6L81.3 -2.4L81.3 -1.4L81.2 -1.1L81.2 -0.5L81.3 -0.4L81.8 0.5L81.8 1.4L81.4 2.4L81.2 2.7L81 3.4L80.9 4.3L81.2 5.3L81.2 5.3L82.1 5.9L82.9 6L83.8 5.7L84.3 5.3L84.6 4.7L84.8 4.3L84.8 3.4L84.8 2.4L84.6 1.5L84.6 1.4L84.5 0.5L84.6 0.4L84.8 0.5L85.4 0.7L86.2 1L86.5 0.5L86.7 -0.5L86.6 -1.4L86.5 -2.4L86.2 -3.2L86.1 -3.4L85.4 -4.3L85.4 -4.6L85.3 -5.3L85.4 -5.4L85.7 -6.2L86.1 -7.2L86.2 -7.3L86.5 -8.1L86.9 -9.1L87.1 -10.1L87 -11L87.1 -11L87.9 -11L88.8 -11L89.6 -11L90.4 -11L91.2 -11L92.1 -11L92.9 -11L93.8 -11L94.6 -11L95.4 -11L96.2 -11L97.1 -11L97.9 -11L98.8 -11L99.6 -11L99.6 -10.1L99.6 -9.1L99.6 -8.1L99.6 -7.2L99.6 -6.2L99.6 -5.3L99.6 -4.3L99.6 -3.4L99.6 -2.4L99.6 -1.4L99.6 -0.5L99.6 0.5L99.6 1.4L99.6 2.4L99.6 3.4L99.6 4.3L99.6 5.3L99.6 6.2L99.6 7.2L99.6 8.1L99.6 9.1L99.6 10.1L99.6 11L99.6 12L99.6 12.9L99.6 13.9L99.6 14.9L99.6 15.8L99.6 16.8L99.6 17.7L99.6 18.7L99.6 19.6L99.6 20.6L99.6 21.6L99.6 22.5L99.6 23.5L99.6 24.4L99.6 25.4L99.6 26.4L99.6 27.3L99.6 28.3L99.6 29.2L99.6 30.2L99.6 31.1L99.6 32.1L99.6 33.1L99.6 34L99.6 35L99.6 35.9L99.6 36.9L99.6 37.9L99.6 38.8L99.6 39.8L99.6 40.7L99.6 41.7L99.6 42.6L99.6 43.6L99.6 44.6L99.6 45.5L99.6 46.5L99.6 47.4L99.6 48.4L99.6 49.4L99.6 50.3L99.6 51.3L99.6 52.2L99.6 53.2L99.6 54.1L99.6 55.1L99.6 56.1L99.6 57L99.6 58L99.6 58.9L99.6 59.9L99.6 60.9L99.6 61.8L99.6 62.8L99.6 63.7L99.6 64.7L99.6 65.6L99.6 66.6L99.6 67.6L99.6 68.5L99.6 69.5L99.6 70.4L99.6 71.4L99.6 72.4L99.6 73.3L99.6 74.3L99.6 75.2L99.6 76.2L99.6 77.1L99.6 78.1L99.6 79.1L99.6 80L99.6 81L99.6 81.9L99.6 82.9L99.6 83.9L99.6 84.8L99.6 85.8L99.6 86.7L99.6 87.7L99.6 88.6L99.6 89.6L99.6 90.6L99.6 91.5L99.6 92.5L99.6 93.4L99.6 94.4L99.6 95.4L99.6 96.3L99.6 97.3L99.6 98.2L99.6 99.2L99.6 100.1L99.6 101.1L99.6 102.1L99.6 103L98.8 103L97.9 103L97.1 103L96.2 103L95.4 103L94.6 103L93.8 103L92.9 103L92.1 103L91.2 103L90.4 103L89.6 103L88.8 103L87.9 103L87.1 103L86.2 103L85.4 103L84.6 103L83.8 103L82.9 103L82.1 103L81.2 103L80.4 103L79.6 103L78.8 103L77.9 103L77.1 103L76.2 103L75.4 103L74.6 103L73.8 103L72.9 103L72.1 103L71.2 103L70.4 103L69.6 103L68.8 103L67.9 103L67.1 103L66.2 103L65.4 103L64.6 103L63.8 103L62.9 103L62.1 103L61.2 103L60.4 103L59.6 103L58.8 103L57.9 103L57.1 103L56.5 103L56.2 102.6L55.4 102.8L55.3 103L54.6 103L53.8 103L52.9 103L52.1 103L51.2 103L50.4 103L49.6 103L48.8 103L47.9 103L47.1 103L46.2 103L45.4 103L44.6 103L43.8 103L42.9 103L42.1 103L41.2 103L40.4 103L39.6 103L38.8 103L37.9 103L37.1 103L36.2 103L35.4 103L34.6 103L33.8 103L32.9 103L32.1 103L31.2 103L30.4 103L29.6 103L28.8 103L27.9 103L27.1 103L26.2 103L25.4 103L24.6 103L23.8 103L22.9 103L22.1 103L21.2 103L20.4 103L19.6 103L18.8 103L17.9 103L17.1 103L16.2 103L15.4 103L14.6 103L13.8 103L12.9 103L12.1 103L11.2 103L10.4 103L9.6 103L8.8 103L7.9 103L7.1 103L6.2 103L5.4 103L4.6 103L3.8 103L2.9 103L2.1 103L1.2 103L0.4 103L-0.4 103L-1.2 103L-2.1 103L-2.9 103L-3.8 103L-4.6 103L-5.4 103L-6.2 103L-7.1 103L-7.9 103L-8.8 103L-9.6 103L-9.6 102.1L-9.6 101.1L-9.6 100.1L-9.6 99.2L-9.6 98.2L-9.6 97.3L-9.6 96.3L-9.6 95.4L-9.6 94.4L-9.6 93.4L-9.6 92.5L-9.6 91.5L-9.6 90.6L-9.6 89.6L-9.6 88.6L-9.6 87.7L-9.6 86.7L-9.6 85.8L-9.6 84.8L-9.6 83.9L-9.6 82.9L-9.6 81.9L-9.6 81L-9.6 80L-9.6 79.1L-9.6 78.1L-9.6 77.1L-9.6 76.2L-9.6 75.2L-9.6 74.3L-9.6 73.3L-9.6 72.4L-9.6 71.4L-9.6 70.4L-9.6 69.5L-9.6 68.5L-9.6 67.6L-9.6 66.6L-9.6 65.6L-9.6 64.7L-9.6 63.7L-9.6 62.8L-9.6 61.8L-9.6 60.9L-9.6 59.9L-9.6 58.9L-9.6 58L-9.6 57L-9.6 56.1L-9.6 55.1L-9.6 54.1L-9.6 53.2L-9.6 52.2L-9.6 51.3L-9.6 50.3L-9.6 49.4L-9.6 48.4L-9.6 47.4L-9.6 46.5L-9.6 45.5L-9.6 44.6L-9.6 43.6L-9.6 42.6L-9.6 41.7L-9.6 40.7L-9.6 39.8L-9.6 38.8L-9.6 37.9L-9.6 36.9L-9.6 35.9L-9.6 35L-9.6 34L-9.6 33.1L-9.6 32.1L-9.6 31.1L-9.6 30.2L-9.6 29.2L-9.6 28.3L-9.6 27.3L-9.6 26.4L-9.6 25.4L-9.6 24.4L-9.6 23.5L-9.6 22.5L-9.6 21.6L-9.6 20.6L-9.6 19.6L-9.6 18.7L-9.6 17.7L-9.6 16.8L-9.6 15.8L-9.6 14.9L-9.6 13.9L-9.6 12.9L-9.6 12L-9.6 11L-9.6 10.1L-9.6 9.1L-9.6 8.1L-9.6 7.2L-9.6 6.2L-9.6 5.3L-9.6 4.3L-9.6 3.4L-9.6 2.4L-9.6 1.4L-9.6 0.5L-9.6 -0.5L-9.6 -1.4L-9.6 -2.4L-9.6 -3.4L-9.6 -4.3L-9.6 -5.3L-9.6 -6.2L-9.6 -7.2L-9.6 -8.1L-9.6 -9.1L-9.6 -10.1Z" fill="#33638d" fill-rule="evenodd"/>
<path d="M33.9 -11L34.6 -11L35.4 -11L36.2 -11L37.1 -11L37.9 -11L38.8 -11L39.6 -11L40.1 -11L40.4 -10.5L40.7 -10.1L40.7 -9.1L40.4 -8.2L40.4 -8.1L40.3 -7.2L40.4 -6.2L40.4 -6L40.6 -5.3L40.9 -4.3L41.1 -3.4L41.1 -2.4L41.1 -1.4L41.1 -0.5L41.2 0L41.4 0.5L41.5 1.4L41.2 1.7L40.4 2L39.6 2.2L39.3 2.4L38.8 2.8L38.6 3.4L38.5 4.3L38.8 5.2L38.8 5.3L39.6 6L40.4 6L41.2 6L42.1 6L42.9 5.6L43.4 5.3L43.8 5.1L44.6 4.5L45.4 4.4L46.2 4.5L47.1 4.4L47.9 4.5L48.8 4.9L49.2 5.3L49.6 5.5L50.4 6.2L50.5 6.2L51.2 6.9L51.7 7.2L52.1 7.5L52.9 7.3L53 7.2L53.8 6.8L54.6 6.3L55.2 6.2L55.4 6.2L56.2 6.2L57.1 6.1L57.9 6.1L58.8 6.1L59.6 6L60.4 6L61.2 6.1L61.9 6.2L62.1 6.4L62.4 7.2L62.9 7.8L63.8 7.7L64 7.2L64.4 6.2L64.6 5.9L64.8 5.3L65.3 4.3L65.4 4L65.5 3.4L65.5 2.4L65.5 1.4L65.8 0.5L66.2 -0L67.1 -0.4L67.1 -0.5L67.7 -1.4L67.1 -2.3L67 -2.4L66.2 -2.8L65.5 -3.4L65.4 -3.4L64.8 -4.3L64.8 -5.3L64.8 -6.2L64.6 -6.7L64.4 -7.2L64.3 -8.1L64.6 -9.1L64.6 -9.1L64.9 -10.1L65.1 -11L65.4 -11L66.2 -11L67.1 -11L67.9 -11L68.8 -11L69.6 -11L70.4 -11L71.2 -11L72.1 -11L72.9 -11L73.8 -11L74.6 -11L75.4 -11L76.2 -11L77.1 -11L77.9 -11L78.8 -11L79 -11L78.9 -10.1L78.8 -9.5L78.6 -9.1L78.1 -8.1L77.9 -7.6L77.7 -7.2L77.9 -6.8L78.4 -6.2L78.8 -5.9L79 -5.3L79.3 -4.3L79.4 -3.4L79.1 -2.4L78.8 -2.1L77.9 -1.5L77.8 -1.4L77.7 -0.5L77.9 -0.1L78.3 0.5L78.8 1.3L78.8 1.4L79 2.4L79.2 3.4L79.4 4.3L79.6 5.2L79.6 5.3L79.7 6.2L80 7.2L80.4 7.7L81.1 8.1L81.2 8.9L82.1 8.5L82.9 8.5L83.8 8.8L84.6 8.2L84.7 8.1L85.4 7.9L86.2 7.8L87.1 7.6L87.7 7.2L87.9 7L88.8 6.5L89.4 6.2L89.6 6.2L90.4 6.1L90.7 6.2L91.2 6.4L92.1 7.1L92.3 7.2L92.9 7.6L93.7 7.3L94.1 7.2L94.6 7.1L95.4 7.2L95.5 7.2L96.2 7.6L96.5 8.1L97.1 8.5L97.9 8.4L98.2 8.1L98.4 7.2L98.5 6.2L98.8 6L99.6 5.9L99.6 6.2L99.6 7.2L99.6 8.1L99.6 9.1L99.6 10.1L99.6 11L99.6 12L99.6 12.9L99.6 13.9L99.6 14.9L99.6 15.8L99.6 16.8L99.6 17.7L99.6 18.7L99.6 19.6L99.6 20.6L99.6 21.6L99.6 22.5L99.6 23.5L99.6 24.4L99.6 24.6L98.8 24.6L97.9 24.9L97.3 25.4L97.1 25.6L96.5 26.4L96.2 26.8L95.8 27.3L95.9 28.3L96.2 28.4L97.1 29.1L97.5 29.2L97.9 29.4L98.8 29.6L99.6 29.7L99.6 30.2L99.6 31.1L99.6 32.1L99.6 33.1L99.6 34L99.6 35L99.6 35.9L99.6 36.9L99.6 37.9L99.6 38.8L99.6 39.8L99.6 40.7L99.6 41.7L99.6 42.6L99.6 43.6L99.6 44.6L99.6 45.5L99.6 46.5L99.6 47.4L99.6 48.4L99.6 49.4L99.6 50.3L99.6 51.3L99.6 52.2L99.6 53.2L99.6 54.1L99.6 55.1L99.6 56.1L99.6 57L99.6 58L99.6 58.9L99.6 59.9L99.6 60.9L99.6 61.8L99.6 62.8L99.6 63.7L99.6 64.7L99.6 65.6L99.6 66.6L99.6 67.6L99.6 68.5L99.6 69.5L99.6 70.4L99.6 71.4L99.6 72.4L99.6 73.3L99.6 74.3L99.6 75.2L99.6 76.2L99.6 77.1L99.6 78.1L99.6 79.1L99.6 80L99.6 81L99.6 81.9L99.6 82.9L99.6 83.9L99.6 84.8L99.6 85.8L99.6 86.7L99.6 87.7L99.6 88.6L99.6 89.6L99.6 90.6L99.6 91.5L99.6 92.5L99.6 93.4L99.6 94.4L99.6 95.4L99.6 96.3L99.6 97.3L99.6 98.2L99.6 99.2L99.6 100.1L99.6 101.1L99.6 102.1L99.6 103L98.8 103L97.9 103L97.1 103L96.2 103L95.4 103L94.6 103L93.8 103L92.9 103L92.1 103L91.2 103L90.4 103L89.6 103L88.8 103L87.9 103L87.1 103L86.2 103L85.4 103L84.6 103L83.8 103L82.9 103L82.1 103L81.2 103L80.4 103L79.6 103L78.8 103L77.9 103L77.1 103L76.2 103L75.4 103L74.6 103L73.8 103L72.9 103L72.1 103L71.2 103L70.4 103L69.6 103L68.8 103L67.9 103L67.1 103L66.2 103L65.4 103L64.6 103L63.8 103L62.9 103L62.1 103L61.2 103L60.4 103L59.6 103L59.4 103L59.6 102.1L59.6 102L59.7 101.1L59.6 100.6L59.4 100.1L58.8 99.3L58.7 99.2L58.6 98.2L58.7 97.3L58.8 97.1L58.8 96.3L58.8 95.6L58.7 95.4L58.5 94.4L58.8 93.5L58.8 93.4L58.8 92.5L58.8 91.5L58.8 90.6L58.8 90.5L58.6 89.6L58.1 88.6L57.9 88.3L57.5 87.7L57.1 87.3L56.6 86.7L56.2 86.4L55.5 85.8L55.4 85.7L54.6 85.7L54.5 85.8L53.8 86.4L53.1 86.7L52.9 86.9L52.1 87.7L52.1 87.7L51.8 88.6L51.5 89.6L51.2 89.8L50.4 89.8L49.6 90.1L49.5 90.6L49.6 91.5L49.6 91.5L50.4 92.4L50.4 92.5L50.8 93.4L50.7 94.4L50.4 94.9L50.1 95.4L49.7 96.3L49.9 97.3L50.2 98.2L50.4 98.9L50.5 99.2L50.6 100.1L50.4 101L50.4 101.1L50.2 102.1L50.2 103L49.6 103L48.8 103L47.9 103L47.1 103L46.2 103L45.4 103L44.6 103L43.8 103L42.9 103L42.1 103L41.2 103L40.4 103L39.6 103L38.8 103L37.9 103L37.1 103L36.2 103L35.4 103L34.6 103L33.8 103L32.9 103L32.1 103L31.2 103L30.4 103L29.6 103L28.8 103L27.9 103L27.1 103L26.2 103L25.4 103L24.6 103L23.8 103L22.9 103L22.1 103L21.2 103L20.4 103L19.6 103L18.8 103L17.9 103L17.1 103L16.2 103L15.4 103L14.6 103L13.8 103L12.9 103L12.1 103L11.2 103L10.4 103L9.6 103L8.8 103L7.9 103L7.1 103L6.2 103L5.4 103L4.6 103L3.8 103L2.9 103L2.1 103L1.2 103L0.4 103L-0.4 103L-1.2 103L-2.1 103L-2.9 103L-3.8 103L-4.6 103L-5.4 103L-6.2 103L-7.1 103L-7.9 103L-8.8 103L-9.6 103L-9.6 102.1L-9.6 101.1L-9.6 100.1L-9.6 99.2L-9.6 98.2L-9.6 97.3L-9.6 96.3L-9.6 95.4L-9.6 94.4L-9.6 93.4L-9.6 92.5L-9.6 91.5L-9.6 90.6L-9.6 89.6L-9.6 88.6L-9.6 87.7L-9.6 86.7L-9.6 85.8L-9.6 84.8L-9.6 83.9L-9.6 82.9L-9.6 81.9L-9.6 81L-9.6 80L-9.6 79.1L-9.6 78.1L-9.6 77.1L-9.6 76.2L-9.6 75.2L-9.6 74.3L-9.6 73.3L-9.6 72.4L-9.6 71.4L-9.6 70.4L-9.6 69.5L-9.6 68.5L-9.6 67.6L-9.6 66.6L-9.6 65.6L-9.6 64.7L-9.6 63.7L-9.6 62.8L-9.6 61.8L-9.6 60.9L-9.6 59.9L-9.6 58.9L-9.6 58L-9.6 57L-9.6 56.1L-9.6 55.1L-9.6 54.1L-9.6 53.2L-9.6 52.2L-9.6 51.3L-9.6 50.3L-9.6 49.4L-9.6 48.4L-9.6 47.4L-9.6 46.5L-9.6 45.5L-9.6 44.6L-9.6 43.6L-9.6 42.6L-9.6 41.7L-9.6 40.7L-9.6 39.8L-9.6 38.8L-9.6 37.9L-9.6 36.9L-9.6 35.9L-9.6 35L-9.6 34L-9.6 33.1L-9.6 32.1L-9.6 31.1L-9.6 30.2L-9.6 29.2L-9.6 28.3L-9.6 27.3L-9.6 26.4L-9.6 25.4L-9.6 24.4L-9.6 23.5L-9.6 22.5L-9.6 21.6L-9.6 20.6L-9.6 19.6L-9.6 18.7L-9.6 17.7L-9.6 16.8L-9.6 15.8L-9.6 14.9L-9.6 13.9L-9.6 12.9L-9.6 12L-9.6 11L-9.6 10.1L-9.6 9.1L-9.6 8.1L-9.6 7.2L-9.6 6.7L-8.8 6.3L-8.7 6.2L-8.2 5.3L-7.9 4.8L-7.3 4.3L-7.1 4.1L-6.2 4L-5.4 4.3L-5.2 4.3L-4.6 4.5L-3.8 4.5L-2.9 4.4L-2.1 4.7L-1.2 5L-0.4 5.1L0.4 4.9L1.2 4.8L2.1 4.9L2.9 5.1L3.3 5.3L3.8 5.5L4.6 6L5 6.2L5.4 6.5L6.2 6.4L6.4 6.2L7.1 5.5L7.6 5.3L7.9 5.1L8.6 5.3L8.8 5.3L9.6 5.6L10.1 5.3L10.4 5.2L11.2 4.8L12.1 4.9L12.5 5.3L12.9 5.9L13.2 6.2L13.8 6.7L14.6 6.8L15.4 6.3L15.5 6.2L16.2 5.7L17.1 5.6L17.9 5.7L18.8 5.7L19.6 5.5L20.2 5.3L20.4 5.2L21.2 4.9L22.1 4.6L22.9 4.7L23.8 5L24.6 5L25.4 4.8L26.2 4.6L27.1 4.3L27.2 4.3L27.9 4.2L28.2 4.3L28.8 4.6L29.6 4.9L30.4 4.9L31.2 5L32.1 5.1L32.9 4.9L33.8 5L34.2 5.3L34.6 5.6L34.8 5.3L35 4.3L34.8 3.4L34.6 2.4L34.6 2.2L34.4 1.4L34.4 0.5L34.6 -0L34.7 -0.5L35 -1.4L35.4 -2.4L35.4 -2.6L36.2 -3.3L36.3 -3.4L36.2 -3.6L35.9 -4.3L35.4 -4.7L34.6 -5L34.3 -5.3L33.8 -5.7L32.9 -6.1L32.8 -6.2L32.4 -7.2L32.9 -7.7L33.6 -8.1L33.8 -8.4L33.9 -9.1L33.9 -10.1ZM40.4 60.8L40.4 60.9L40.4 60.9L40.4 60.9ZM49.6 87L49.4 87.7L49.6 88.6L50.4 87.9L50.5 87.7L50.4 87.6ZM52.1 13.6L51.7 13.9L51.2 14.6L51.2 14.9L51.2 15.2L51.5 15.8L52.1 16.1L52.9 16.2L53.8 16.3L54.1 15.8L53.8 15.4L53.5 14.9L52.9 14L52.8 13.9ZM80.4 9.2L79.9 10.1L79.9 11L79.8 12L79.6 12.9L79.6 13.2L79.5 13.9L79.6 14.9L79.5 15.8L79.5 16.8L79.6 17.3L79.7 17.7L80 18.7L80.1 19.6L80.3 20.6L80.4 20.8L81 21.6L81.2 21.7L82.1 21.8L82.9 21.6L83 21.6L83.8 21.3L84.5 20.6L84.6 19.6L84.5 18.7L84.6 17.8L84.6 17.7L84.6 17.7L84.5 16.8L84.3 15.8L84.2 14.9L84.2 13.9L84.1 12.9L84 12L83.9 11L83.8 10.3L83.5 10.1L82.9 9.8L82.1 9.6L81.2 9.1ZM87.9 24L87.4 24.4L87.1 25.1L87 25.4L86.7 26.4L86.6 27.3L86.8 28.3L87.1 29.1L87.3 29.2L87.9 29.3L88.8 29.5L89.6 29.6L90.1 29.2L90.4 28.7L90.6 28.3L91.2 27.7L92.1 27.6L92.9 27.5L93.8 27.5L94.4 27.3L94.5 26.4L94.5 25.4L93.8 24.5L93.7 24.4L92.9 24.3L92.1 24.3L91.2 24.3L90.4 24.2L89.6 23.9L88.8 23.8Z" fill="#26828e" fill-rule="evenodd"/>
<path d="M69.4 -11L69.6 -11L70.4 -11L71.2 -11L72.1 -11L72.9 -11L73.8 -11L74.6 -11L75.4 -11L75.5 -11L75.4 -10.5L75.3 -10.1L75 -9.1L74.8 -8.1L74.9 -7.2L75 -6.2L74.7 -5.3L74.6 -5.1L74 -4.3L73.8 -3.8L73.6 -3.4L73.7 -2.4L73.8 -2.3L74.2 -1.4L74.6 -0.8L74.8 -0.5L75.1 0.5L75.1 1.4L74.9 2.4L74.9 3.4L75.1 4.3L75 5.3L74.8 6.2L74.7 7.2L74.6 8.1L74.6 8.2L74.5 9.1L74.1 10.1L73.8 10.6L73.5 11L73.1 12L72.9 12.1L72.1 12.9L71.9 12.9L71.2 13.1L70.9 12.9L70.4 12.6L70 12L69.9 11L70.1 10.1L70.3 9.1L70.1 8.1L69.6 7.4L69.3 7.2L69 6.2L69.6 5.5L69.8 5.3L70.4 4.8L70.9 4.3L71.2 3.7L71.6 3.4L71.4 2.4L71.3 2.3L70.4 1.8L70 1.4L69.6 0.6L69.5 0.5L69.6 0.2L69.7 -0.5L69.9 -1.4L70.1 -2.4L70.4 -3.3L70.4 -3.4L70.7 -4.3L70.7 -5.3L70.6 -6.2L70.4 -6.7L70.1 -7.2L69.6 -7.9L69.4 -8.1L69.5 -9.1L69.6 -9.6L69.7 -10.1L69.6 -10.3ZM47.4 7.2L47.9 7L48.8 7.1L48.9 7.2L49.6 7.7L49.9 8.1L50.1 9.1L50 10.1L50 11L50.1 12L50 12.9L49.8 13.9L49.6 14.9L49.7 15.8L50.2 16.8L50.4 17.1L51.2 17.6L51.6 17.7L52.1 17.8L52.9 18.1L53.8 18.5L54.2 18.7L54.6 19.2L54.8 19.6L55 20.6L55.3 21.6L55.1 22.5L54.7 23.5L54.6 24.4L54.6 24.4L54.6 24.5L55 25.4L55.2 26.4L55.1 27.3L54.7 28.3L54.6 28.4L53.8 28.8L52.9 28.9L52.1 28.5L51.8 28.3L51.2 28L51 28.3L50.8 29.2L51.2 30.2L51.2 30.5L51.3 31.1L51.2 31.3L50.6 32.1L50.4 32.3L49.8 33.1L49.7 34L49.6 34.2L49.5 34L49.2 33.1L48.8 32.7L47.9 32.3L47.1 32.9L46.9 33.1L46.2 33.8L46 34L45.4 34.8L45.2 35L45 35.9L45.3 36.9L45.4 37.2L45.5 37.9L45.5 38.8L45.4 39L45.2 39.8L45 40.7L45 41.7L45 42.6L45.4 43.5L45.5 43.6L46.2 44L47.1 44.1L47.5 44.6L47.9 45.5L47.9 45.5L48.8 45.7L49.6 45.5L49.6 45.5L49.9 44.6L50.2 43.6L50.4 43.3L50.7 42.6L51.2 41.9L51.5 41.7L52.1 41.3L52.9 40.8L53.1 40.7L53.8 40.3L54.6 40.2L55.2 39.8L55.4 39.6L56.2 39.2L57.1 39.3L57.6 39.8L57.8 40.7L57.6 41.7L57.7 42.6L57.9 42.9L58.5 43.6L58.8 43.8L59.6 44.2L60.1 44.6L60.4 45L60.7 45.5L60.8 46.5L60.9 47.4L61.2 48L61.8 48.4L62.1 48.6L62.4 49.4L62.2 50.3L62.1 50.7L61.8 51.3L61.7 52.2L61.7 53.2L61.6 54.1L61.7 55.1L62.1 55.8L62.2 56.1L62.9 56.9L63.1 57L63.8 57.4L64.2 57L64.6 56.7L65.3 56.1L65.4 55.9L66.2 55.5L67.1 55.7L67.6 56.1L67.9 56.3L68.8 56.6L69.6 56.7L70.4 56.7L71.2 56.8L71.7 57L72.1 57.2L72.9 57.4L73.5 57L73.8 56.9L74.6 56.3L75.4 56.3L76.2 57L76.3 57L77.1 57.9L77.3 58L77.9 58.6L78.4 58.9L78.8 59.4L79.1 59.9L79.2 60.9L79.1 61.8L79 62.8L78.9 63.7L78.9 64.7L79 65.6L79.6 66.6L80.2 66.6L79.8 67.6L79.8 68.5L79.8 69.5L79.7 70.4L80 71.4L80.4 72.3L80.4 72.4L80.4 72.4L80.4 73.3L80.1 74.3L79.9 75.2L79.6 76.1L79.5 76.2L79.6 77.1L79.6 77.2L80.4 77.8L80.8 78.1L81.2 78.4L81.8 79.1L82.1 79.4L82.9 79.5L83.8 79.1L83.8 79.1L84.2 78.1L84.6 77.4L84.7 77.1L85.4 76.5L85.7 76.2L86 75.2L85.9 74.3L85.9 73.3L85.4 72.5L85.4 72.4L84.8 71.4L84.6 71L84.4 70.4L84.1 69.5L83.8 68.5L83.8 67.6L84 66.6L84.5 65.6L84.6 65.6L85.4 65.1L86.2 64.8L86.3 64.7L86.7 63.7L86.9 62.8L86.8 61.8L86.2 61.3L85.9 60.9L85.4 60.3L85.1 59.9L84.9 58.9L85.2 58L85.4 57.9L86.2 57.4L87.1 57.4L87.9 57.3L88.3 57L88.8 56.6L89.2 56.1L89.6 55.7L90.4 55.4L91.2 55.8L92 56.1L92.1 56.1L92.2 56.1L92.9 56L93.8 55.9L94.5 56.1L94.6 56.1L95.4 56.8L95.7 57L96.2 58L96.2 58L97.1 58.4L97.3 58L97.9 57.4L98.8 57.6L99.6 57.8L99.6 58L99.6 58.9L99.6 59.9L99.6 60.9L99.6 61.8L99.6 62.8L99.6 63.7L99.6 64.7L99.6 65.6L99.6 66.1L99.5 66.6L99.6 66.9L99.6 67.6L99.6 68.5L99.6 69.5L99.6 70.4L99.6 71.4L99.6 72.4L99.6 73.3L99.6 74.3L99.6 75.2L99.6 76.2L99.6 77.1L99.6 78.1L99.6 79.1L99.6 80L99.6 81L99.6 81.9L99.6 82.9L99.6 83.9L99.6 84.8L99.6 85.8L99.6 86.7L99.6 87.7L99.6 88.6L99.6 89.6L99.6 90.6L99.6 91.5L99.6 92.5L99.6 93.4L99.6 94.4L99.6 95.4L99.6 96.3L99.6 97.3L99.6 98.2L99.6 99.2L99.6 100.1L99.6 101.1L99.6 102.1L99.6 103L98.8 103L97.9 103L97.1 103L96.2 103L95.4 103L94.6 103L93.8 103L92.9 103L92.1 103L91.2 103L90.4 103L89.6 103L88.8 103L87.9 103L87.1 103L86.2 103L85.4 103L84.6 103L83.8 103L82.9 103L82.1 103L81.2 103L80.4 103L79.6 103L78.8 103L77.9 103L77.1 103L76.2 103L75.4 103L74.6 103L73.8 103L72.9 103L72.5 103L72.1 102.6L71.2 102.2L70.4 102.6L70.2 103L69.6 103L68.8 103L67.9 103L67.1 103L66.2 103L65.4 103L64.6 103L63.8 103L62.9 103L62.1 103L61.2 103L61 103L61.2 102.1L61.2 101.5L61.3 101.1L61.4 100.1L61.6 99.2L62.1 98.4L62.2 98.2L62.1 98L61.6 97.3L61.2 97.1L60.5 96.3L60.4 96L60.3 95.4L60.4 94.6L60.5 94.4L60.8 93.4L61 92.5L61.2 91.5L61.2 91.3L61.5 90.6L61.5 89.6L61.3 88.6L61.4 87.7L61.6 86.7L61.4 85.8L61.2 85.5L60.7 84.8L60.4 84.5L59.8 83.9L59.6 83.3L59.4 82.9L58.9 81.9L58.8 81.8L57.9 81.6L57.1 81.6L56.2 81.5L55.4 81.5L54.6 81.6L53.8 81.9L53.8 82L53.7 81.9L52.9 81L52.9 81L52.1 80.4L51.5 80L51.2 79.9L50.4 79.2L50.1 79.1L49.6 78.8L48.8 79L48.6 79.1L47.9 79.9L47.1 79.9L46.5 80L46.2 80L45.4 80.8L45.3 81L44.8 81.9L44.6 82.5L44.4 82.9L44.6 83.9L44.6 84L44.7 84.8L44.6 85.1L44.4 85.8L44.1 86.7L44.1 87.7L44.1 88.6L43.8 89.3L43.5 89.6L43.2 90.6L43.7 91.5L43.8 91.6L44.6 92.2L45 92.5L45.3 93.4L45.1 94.4L44.8 95.4L44.6 95.7L44.1 96.3L43.8 96.7L43.4 97.3L43.5 98.2L43.8 98.7L44.2 99.2L44.6 100L44.7 100.1L44.6 100.5L44.5 101.1L44.1 102.1L44 103L43.8 103L42.9 103L42.1 103L41.2 103L40.4 103L39.6 103L38.8 103L37.9 103L37.1 103L36.2 103L35.4 103L35 103L34.6 102.7L33.8 102.8L33.6 103L32.9 103L32.1 103L31.2 103L30.4 103L29.6 103L28.8 103L27.9 103L27.1 103L26.2 103L25.4 103L24.6 103L23.8 103L22.9 103L22.1 103L21.2 103L20.4 103L19.6 103L18.8 103L17.9 103L17.1 103L16.2 103L15.4 103L14.6 103L13.8 103L12.9 103L12.1 103L11.2 103L10.4 103L9.6 103L8.8 103L7.9 103L7.1 103L6.2 103L5.4 103L4.6 103L3.8 103L2.9 103L2.1 103L1.2 103L0.4 103L-0.4 103L-1.2 103L-2.1 103L-2.9 103L-3.8 103L-4.6 103L-5.4 103L-6.2 103L-7.1 103L-7.9 103L-8.8 103L-9.6 103L-9.6 102.1L-9.6 101.1L-9.6 100.1L-9.6 99.2L-9.6 98.2L-9.6 97.3L-9.6 96.3L-9.6 95.4L-9.6 94.4L-9.6 93.4L-9.6 92.5L-9.6 91.5L-9.6 90.6L-9.6 89.6L-9.6 88.6L-9.6 87.7L-9.6 86.7L-9.6 85.8L-9.6 84.8L-9.6 83.9L-9.6 82.9L-9.6 81.9L-9.6 81L-9.6 80L-9.6 79.1L-9.6 78.1L-9.6 77.1L-9.6 76.2L-9.6 75.2L-9.6 74.3L-9.6 73.3L-9.6 72.4L-9.6 71.4L-9.6 70.4L-9.6 69.5L-9.6 68.5L-9.6 67.6L-9.6 66.6L-9.6 65.6L-9.6 64.7L-9.6 63.7L-9.6 62.8L-9.6 61.8L-9.6 60.9L-9.6 59.9L-9.6 58.9L-9.6 58L-9.6 57L-9.6 56.1L-9.6 55.1L-9.6 54.1L-9.6 53.2L-9.6 52.2L-9.6 51.3L-9.6 50.3L-9.6 49.4L-9.6 48.4L-9.6 47.4L-9.6 46.5L-9.6 45.5L-9.6 44.6L-9.6 43.6L-9.6 42.6L-9.6 41.7L-9.6 40.7L-9.6 39.8L-9.6 38.8L-9.6 37.9L-9.6 36.9L-9.6 35.9L-9.6 35L-9.6 34L-9.6 33.1L-9.6 32.1L-9.6 31.1L-9.6 30.2L-9.6 29.2L-9.6 28.3L-9.6 27.3L-9.6 26.4L-9.6 25.4L-9.6 24.4L-9.6 23.5L-9.6 22.5L-9.6 21.6L-9.6 20.6L-9.6 19.6L-9.6 18.7L-9.6 18.6L-8.8 18.4L-7.9 18L-7.8 17.7L-7.1 16.8L-7.1 16.7L-6.2 15.9L-5.4 16.4L-4.9 16.8L-4.6 17L-3.8 17L-2.9 17L-2.1 17.2L-1.2 17.7L-0.4 17.6L0.4 17.1L1.1 16.8L1.2 16.7L2.1 16.7L2.2 16.8L2.9 17.4L3.1 17.7L3.4 18.7L3.7 19.6L3.7 19.8L4.6 20.4L4.9 20.6L5.4 20.9L6.2 21.6L6.3 21.6L7.1 22.1L7.9 22.1L8.8 22.1L9.6 22.2L10.4 22.4L11.2 22.5L12.1 22.2L12.9 21.7L13.8 21.6L14.6 21.8L15.4 22L16.2 21.9L17.1 21.8L17.9 21.8L18.8 21.8L19.6 21.8L19.9 21.6L20.4 20.8L20.5 20.6L21 19.6L21.2 19.2L21.6 18.7L22.1 18.2L22.9 17.8L23.1 17.7L23.8 17.2L24.4 16.8L24 15.8L23.8 15.7L23.3 14.9L23.6 13.9L23.8 13.5L24.2 12.9L24.6 12.6L25.4 12L25.4 12L25.5 11L25.4 10.4L25.4 10.1L25.4 9.9L25.6 9.1L26.1 8.1L26.2 7.9L27.1 7.3L27.9 7.5L28.8 8.1L28.9 8.1L29.5 9.1L29.6 9.7L30.4 9.9L31.2 10L31.4 10.1L32.1 10.5L32.7 11L32.9 11.3L33.8 11.8L34.6 11.8L35.4 11.5L36.2 11.2L37.1 11L37.9 11.6L38.3 12L38.8 12.3L39.6 12.8L40.4 12.9L40.8 12.9L41.2 13L42.1 13.4L42.9 13.4L43.2 12.9L43.8 12.1L43.8 12L44.6 11.2L44.8 11L45.4 10.4L45.7 10.1L45.8 9.1L46 8.1L46.2 8L47.1 7.4ZM67.1 69.1L66.5 69.5L66.2 69.8L65.8 70.4L65.4 71.1L65.3 71.4L64.9 72.4L64.8 73.3L65.4 74.3L65.4 74.3L65.4 74.3L66.2 74.1L67.1 74L67.9 74.1L68.3 74.3L68.8 74.4L69.3 74.3L69.6 74.1L69.9 73.3L69.8 72.4L69.6 71.9L69.4 71.4L69.1 70.4L68.8 69.7L68.6 69.5L67.9 68.9ZM89.6 76.1L89.5 76.2L89.6 76.3L90.4 76.3L90.5 76.2L90.4 76ZM10.4 55.9L10.1 56.1L9.7 57L9.6 57.1L8.9 57L8.8 57L8.3 57L7.9 57L7.1 57.4L6.4 58L6.2 58.1L5.4 58.8L5.2 58.9L4.8 59.9L5 60.9L5.4 61.4L5.9 61.8L6.2 62.1L6.8 62.8L7.1 63.2L7.7 63.7L7.9 63.9L8.8 63.9L9.6 64L10.3 64.7L10.4 65L10.9 65.6L11.2 66.3L11.5 66.6L11.2 67.3L10.4 67.5L10.4 67.6L9.7 68.5L9.7 69.5L10.4 70.4L10.8 70.4L11.2 70.5L11.3 70.4L12.1 69.7L12.3 69.5L12.9 68.6L13.6 68.5L13.8 68.5L14.6 68.4L15.4 67.8L15.6 67.6L16.1 66.6L16.2 66.3L16.6 65.6L17.1 64.9L17.2 64.7L17.9 63.8L18 63.7L18.8 63.4L19.6 63.2L20.4 63.1L21.2 63L22.1 62.9L22.3 62.8L22.9 62.4L23.8 62.1L24.6 62.2L25.4 62.3L26.2 61.8L26.2 61.4L26.3 60.9L26.2 60.8L25.8 59.9L25.4 59.5L24.9 58.9L24.6 58.3L24.3 58L24 57L23.8 56.7L22.9 56.8L22.1 56.7L21.2 56.9L21.1 57L20.4 57.3L19.6 57.6L18.9 58L18.8 58L17.9 58L17.9 58L17.4 57L17.1 56.5L16.4 56.1L16.2 56L16 56.1L15.4 56.1L14.6 56.2L14.1 56.1L13.8 55.9L12.9 55.7L12.1 55.6L11.2 55.6ZM32.1 57L32 57L31.2 57.6L30.9 58L30.4 58.6L30.1 58.9L29.8 59.9L30.1 60.9L30.4 61.5L30.5 61.8L30.6 62.8L30.4 63.1L30 63.7L29.6 64.7L29.7 65.6L29.8 66.6L29.6 67.2L29.5 67.6L29.5 68.5L29.6 68.9L29.8 69.5L30.4 70.1L31 69.5L31.2 68.9L32.1 68.5L32.9 69.1L33.8 69.5L33.8 69.5L34.6 69.7L35.4 69.6L35.6 69.5L36.2 69.1L37.1 68.9L37.9 68.8L38.8 68.7L39.4 68.5L39.6 68.4L40.4 68.2L41.2 68.5L42.1 68.4L42.9 68L43.8 67.6L43.9 67.6L44.2 66.6L44.1 65.6L44.4 64.7L44.6 64.3L44.9 63.7L45.4 63.3L46.2 62.8L46.2 62.8L46.5 62.8L47.1 62.8L47.9 63L48.3 62.8L48.7 61.8L48.7 60.9L48.8 60.3L48.9 59.9L48.8 59.7L48.3 58.9L47.9 58.8L47.1 58.4L46.2 58.1L45.5 58L45.4 58L45.3 58L44.6 58L44.4 58L43.8 57.8L42.9 57.6L42.1 57.3L41.4 57L41.3 56.9L40.4 56.8L39.8 57L39.6 57.1L38.8 57.2L37.9 57.1L37.1 57.4L36.2 57.6L35.4 57.4L34.6 57.2L33.8 57.1L33.6 57L32.9 56.9ZM90.3 11L90.4 11L91.2 10.9L91.4 11L92.1 11.3L92.7 12L92.9 12.1L93.8 12.7L94.4 12.9L94.6 13L95.4 12.9L95.4 12.9L96.2 12.7L97.1 12.2L97.2 12L97.8 11L97.9 11L98.8 10.6L99.6 10.3L99.6 11L99.6 12L99.6 12.9L99.6 13.9L99.6 14.9L99.6 15.8L99.6 16.8L99.6 17.7L99.6 18.7L99.6 19.6L99.6 20.6L99.6 21.5L98.8 21.5L97.9 20.9L97.6 20.6L97.1 19.9L96.2 19.9L95.7 20.6L95.4 21.5L94.6 21.4L93.8 21.1L92.9 21L92.1 21.1L91.2 21L90.4 21.1L89.6 21.4L88.8 21.6L88.8 21.6L88.7 21.6L87.9 21.5L87.1 20.7L87 20.6L87.1 20.4L87.2 19.6L87.2 18.7L87.1 17.7L87.1 17.7L86.8 16.8L86.2 15.9L86.2 15.8L86.2 14.9L86.2 14.8L87.1 14.8L87.4 14.9L87.9 15L88.5 14.9L88.8 14.7L89 13.9L89.1 12.9L89.3 12L89.6 11.5ZM76.1 22.5L76.2 22.5L77.1 22.3L77.9 22.2L78.8 22.1L79.6 22.5L79.7 22.5L80.4 23.2L80.9 23.5L81.2 23.8L82.1 24.2L82.5 24.4L82.9 25.1L83 25.4L83.2 26.4L83.6 27.3L83.8 27.5L84.2 28.3L84.6 29L84.6 29.2L84.8 30.2L85 31.1L85.2 32.1L85.3 33.1L85.4 33.7L85.4 34L85.6 35L85.8 35.9L85.9 36.9L86 37.9L85.9 38.8L85.7 39.8L85.5 40.7L85.4 41.1L85.3 41.7L85.1 42.6L84.7 43.6L84.6 43.9L84.2 44.6L83.9 45.5L83.8 45.8L82.9 46.1L82.2 45.5L82.1 45.4L81.4 44.6L81.2 44.4L80.4 44.2L79.6 44.5L79.5 44.6L78.8 45.2L78.5 45.5L77.9 45.9L77.1 46.2L76.2 46.3L75.4 46.2L74.6 45.9L73.8 45.5L73.7 45.5L72.9 45.5L72.1 45.3L71.6 44.6L71.6 43.6L71.2 42.9L71.1 42.6L70.4 41.7L70.4 41.7L70 40.7L69.6 39.8L69.6 38.8L70.1 37.9L70.4 37.6L71 36.9L71.2 36.5L71.6 35.9L71.9 35L72.1 34.8L72.9 34.1L73.3 34L73.8 33.9L74.5 34L74.6 34L74.6 34L75.4 33.3L75.5 33.1L75.4 32.7L75.3 32.1L74.8 31.1L74.6 30.5L74.5 30.2L74.3 29.2L74.1 28.3L73.8 27.9L72.9 28.2L72.9 28.3L72.5 29.2L72.1 29.9L71.6 30.2L71.2 30.4L70.4 30.9L70.2 31.1L69.7 32.1L69.6 32.3L68.8 32.7L67.9 33L67.1 33L66.3 32.1L66.2 31.4L66.2 31.1L66.2 31.1L66.9 30.2L67.1 30L67.9 29.7L68.8 29.5L69 29.2L69 28.3L68.8 27.7L68.4 27.3L67.9 26.8L67.7 26.4L67.9 25.9L68.1 25.4L68.8 25.1L69.6 24.4L69.6 24.4L70.4 24.1L71.2 24L72.1 23.8L72.9 23.6L73.8 24L74.6 24L75 23.5L75.4 23.1ZM52.8 37.9L52.9 37.6L53.8 37.2L54 37.9L53.7 38.5L52.9 38.2ZM99.4 50.3L99.6 50L99.6 50.3L99.6 51.3L99.6 51.3L99.5 51.3ZM81.6 57L82.1 56.6L82.9 56.7L83.2 57L83.6 58L82.9 58.8L82.5 58.9L82.1 59L81.9 58.9L81.5 58ZM13.7 61.8L13.8 61.7L14.6 61.1L15.4 61L16.2 61.7L16.3 61.8L16.3 62.8L16.2 62.9L15.7 63.7L15.4 64L14.6 63.8L14.5 63.7L13.8 63.3L13.4 62.8Z" fill="#1fa088" fill-rule="evenodd"/>
<path d="M46.2 16.8L46.2 16.7L46.4 16.8L47.1 17L47.9 17.4L48.5 17.7L48.8 17.9L49.2 18.7L49.2 19.6L49.1 20.6L49.1 21.6L48.8 22.1L48.4 22.5L47.9 22.7L47.3 23.5L47.1 23.7L46.7 24.4L46.4 25.4L46.3 26.4L46.2 26.4L45.7 27.3L45.4 27.5L44.6 27.4L44.1 27.3L43.8 27.2L43.3 27.3L42.9 27.5L42.3 28.3L42.1 28.8L41.8 29.2L41.2 29.7L40.4 30L39.9 30.2L39.6 30.3L38.8 30.4L38.4 30.2L37.9 29.8L37.1 29.8L36.2 29.6L35.7 29.2L35.4 29L35.1 28.3L34.7 27.3L34.6 26.8L34.4 26.4L34.6 25.6L34.7 25.4L35.4 25.1L36.2 24.8L36.6 24.4L37.1 23.8L37.3 23.5L37.6 22.5L37.9 22.2L38.7 21.6L38.8 21.5L39.2 20.6L39.6 20L39.7 19.6L40.3 18.7L40.4 18.4L41.2 17.7L41.3 17.7L42.1 17.7L42.9 17.6L43.7 17.7L43.8 17.7L44.6 17.8L44.9 17.7L45.4 17.4ZM12.6 24.4L12.9 24.1L13.8 24L14.6 24.4L14.9 24.4L15.4 24.6L16.2 24.5L17.1 24.5L17.9 24.8L18.6 25.4L18.7 25.5L19.6 25.7L20.4 26.2L20.6 26.4L21.2 26.8L22.1 27.2L22.3 27.3L22.9 27.7L23.7 28.3L23.8 28.4L24.3 29.2L24.6 29.7L24.8 30.2L25.4 30.9L25.7 31.1L26.1 32.1L25.6 33.1L25.4 33.2L24.6 33.8L23.8 33.7L22.9 33.3L22.2 33.1L22.1 33L22 33.1L21.2 33.4L20.8 34L20.5 35L20.4 35.8L20.4 35.9L20.4 36.9L20.3 37.9L20 38.8L19.6 39.2L18.8 39.3L17.9 39.3L17.1 39.1L16.2 39.3L15.9 39.8L15.4 40.7L15.4 40.8L14.7 41.7L14.6 41.8L13.8 41.8L13.1 41.7L12.9 41.7L12.9 41.7L12.6 42.6L12.7 43.6L12.9 44L13.8 43.8L14.6 43.7L15.4 44.6L15.4 44.7L15.8 45.5L16.2 46.2L16.7 46.5L17.1 47L17.6 46.5L17.9 46.4L18.8 45.8L19.6 45.7L20.1 46.5L20.4 47.2L20.5 47.4L20.5 48.4L20.4 49.1L20.3 49.4L19.7 50.3L19.6 51.3L19.6 51.3L19.4 52.2L18.8 53.2L18.8 53.3L17.9 53.6L17.1 53.4L16.8 53.2L16.4 52.2L16.2 51.9L15.4 51.8L14.6 51.5L14.1 51.3L13.8 51L12.9 50.5L12.1 51L11.7 51.3L11.2 51.6L10.7 51.3L10.4 51.1L9.6 50.6L9.2 50.3L8.8 49.7L8.5 49.4L8 48.4L7.9 48.2L7.5 47.4L7.2 46.5L7.1 46.2L6.6 45.5L6.2 45.3L5.5 45.5L5.4 45.6L4.6 46.1L4 46.5L3.8 46.7L2.9 47.3L2.3 47.4L2.1 47.5L1.7 47.4L1.2 47.4L0.4 47.1L-0.4 47.1L-1.2 47.2L-2.1 47.4L-2.1 47.5L-2.9 47.8L-3.8 47.8L-4.2 47.4L-4.6 47.2L-5.4 47.1L-6.1 47.4L-6.2 47.6L-7.1 48.2L-7.9 48.3L-8.3 47.4L-8.8 47.2L-9.6 46.7L-9.6 46.5L-9.6 45.5L-9.6 44.6L-9.6 43.6L-9.6 42.6L-9.6 41.7L-9.6 40.7L-9.6 39.8L-9.6 38.8L-9.6 37.9L-9.6 36.9L-9.6 35.9L-9.6 35L-9.6 34L-9.6 33.1L-9.6 32.1L-9.6 31.1L-9.6 30.2L-9.6 29.2L-9.6 28.6L-9.1 28.3L-8.8 27.9L-7.9 27.8L-7.3 28.3L-7.1 28.4L-6.2 28.8L-5.4 28.7L-4.8 28.3L-4.6 28.1L-3.8 28.2L-3.5 28.3L-2.9 28.4L-2.1 28.3L-2.1 28.3L-1.2 27.9L-0.4 27.6L0.4 27.7L1.2 27.9L2.1 27.9L2.9 28L3.8 28L4.6 27.9L5.4 27.8L6.2 28L6.5 28.3L6.9 29.2L7.1 29.5L7.9 30L8.8 29.6L9.2 29.2L9.6 28.7L9.9 28.3L10 27.3L10.3 26.4L10.4 26.2L11.2 25.8L11.7 25.4L12.1 25ZM8.8 43.4L8.7 43.6L8.8 44L8.9 44.6L9.2 45.5L9.5 46.5L9.6 46.6L9.9 47.4L10.4 47.8L11.2 48.2L11.7 48.4L12.1 48.6L12.9 48.6L13 48.4L13.1 47.4L13 46.5L12.9 45.9L12.8 45.5L12.6 44.6L12.1 44.2L11.2 44L10.9 43.6L10.4 43.2L9.6 42.8ZM31.2 35L31.2 35L32.1 34.9L32.3 35L32.9 35.3L33.8 35.5L34.6 35.4L35.4 35.4L36.2 35.6L37.1 35.8L37.9 35.9L38.1 35.9L38.8 36.3L39.1 36.9L39.3 37.9L39.3 38.8L39.2 39.8L38.8 40.5L38.1 40.7L37.9 40.7L37.1 40.9L36.2 41.4L35.8 41.7L35.4 42L34.9 41.7L34.6 41.6L33.8 40.8L33.7 40.7L32.9 40.3L32.1 40.7L32.1 40.7L31.4 41.7L31.2 41.9L30.7 42.6L30.4 43.2L29.7 43.6L29.6 43.8L29.2 44.6L29.6 45.2L29.8 45.5L30.4 46.4L30.5 46.5L31.2 47L32.1 47.1L32.9 47.2L33.8 46.5L33.8 46.5L34.3 45.5L34.6 45.1L35.4 45.5L35.4 45.5L36.2 45.8L37.1 45.7L37.9 45.6L38.8 45.9L39.6 46.5L39.6 46.5L40.4 46.8L40.8 47.4L41.1 48.4L40.8 49.4L40.4 49.7L39.6 50.2L39.5 50.3L38.9 51.3L38.8 51.5L37.9 52L37.1 52.2L37.1 52.2L36.2 52.6L35.4 52.7L34.6 52.4L34.4 52.2L33.8 51.7L32.9 51.7L32.1 52L31.2 52.1L30.4 52.2L30.3 52.2L29.6 52.3L28.8 52.5L27.9 52.2L27.9 52.2L27.2 51.3L27.1 51.2L26.2 50.8L25.4 50.7L24.6 50.5L24.2 50.3L23.9 49.4L24.3 48.4L24.6 47.6L24.7 47.4L24.8 46.5L24.7 45.5L24.6 45.3L23.8 44.9L22.9 45.1L22.1 44.6L22.1 44.4L22 43.6L22.1 43L22.2 42.6L22.9 41.7L22.9 41.7L23.2 40.7L23.4 39.8L23.8 39.6L24.6 39.3L25.4 39.2L26.2 39.6L26.4 39.8L27.1 40.5L27.9 40.7L28.8 40.1L29 39.8L29.4 38.8L29.6 38.4L29.8 37.9L30.4 36.9L30.4 36.8L30.6 35.9ZM-2.4 56.1L-2.1 55.6L-1.2 55.6L-0.9 56.1L-1.2 56.6L-2.1 56.5ZM67.1 60.9L67.1 60.9L67.1 60.9L67.9 61.5L68.1 61.8L67.9 62.6L67.5 62.8L67.1 62.8L67 62.8L66.2 62L66.1 61.8L66.2 61.2ZM-9.6 68.5L-9.6 68.4L-8.8 68.5L-7.9 68.5L-7.6 68.5L-7.1 68.6L-6.2 68.9L-5.4 69.3L-4.6 69.4L-3.8 69.3L-2.9 69.4L-2.8 69.5L-2.1 70L-1.4 70.4L-1.2 70.5L-0.6 70.4L-0.4 70.4L0.3 69.5L0.4 69.4L1.2 68.9L2.1 69L2.9 69.3L3.5 69.5L3.8 69.6L4.6 70.3L4.8 70.4L5.4 71.4L5.4 71.7L6.2 72.1L7.1 72.1L7.9 72.4L7.9 72.4L8.8 73.2L8.9 73.3L9.6 73.6L10.4 74.1L10.7 74.3L11.2 74.7L12 75.2L12.1 75.3L12.9 75.5L13.8 75.6L14.6 76L14.8 76.2L15.4 77L15.5 77.1L16.2 78.1L16.3 78.1L17.1 78.7L17.6 79.1L17.9 79.3L18.6 80L18.8 80.2L19.6 80.4L20.4 80.1L20.6 80L21.2 79.6L22.1 79.4L22.9 79.4L23.8 79.7L24.2 80L24.6 80.3L25.4 81L25.4 81L26.1 81.9L26.2 82.1L26.7 82.9L26.8 83.9L26.3 84.8L26.2 84.9L25.4 85.6L25.2 85.8L24.6 86.6L24.5 86.7L24.6 87.2L24.7 87.7L25.2 88.6L25.3 89.6L25.4 90.6L25.4 90.8L25.6 91.5L26.2 92.5L26.2 92.8L26.3 93.4L26.3 94.4L26.2 94.5L25.9 95.4L25.4 96.3L25.4 97.1L25.4 97.3L25.4 97.3L25.9 98.2L25.6 99.2L25.4 99.4L24.9 100.1L24.8 101.1L24.8 102.1L24.7 103L24.6 103L23.8 103L22.9 103L22.1 103L21.2 103L20.4 103L19.6 103L18.8 103L17.9 103L17.1 103L16.2 103L15.4 103L14.6 103L13.8 103L12.9 103L12.1 103L11.2 103L10.4 103L9.6 103L8.8 103L7.9 103L7.1 103L6.2 103L5.4 103L4.6 103L3.8 103L2.9 103L2.1 103L1.2 103L0.4 103L-0.4 103L-1.2 103L-2.1 103L-2.9 103L-3.8 103L-4.6 103L-5.4 103L-6.2 103L-7.1 103L-7.9 103L-8.8 103L-9.6 103L-9.6 102.1L-9.6 101.1L-9.6 100.1L-9.6 99.2L-9.6 98.2L-9.6 97.3L-9.6 96.3L-9.6 95.4L-9.6 94.4L-9.6 93.4L-9.6 92.5L-9.6 91.5L-9.6 90.6L-9.6 89.6L-9.6 88.6L-9.6 87.7L-9.6 86.7L-9.6 85.8L-9.6 84.8L-9.6 83.9L-9.6 82.9L-9.6 81.9L-9.6 81L-9.6 80L-9.6 79.1L-9.6 78.1L-9.6 77.1L-9.6 76.2L-9.6 75.2L-9.6 74.3L-9.6 73.3L-9.6 72.4L-9.6 71.4L-9.6 70.4L-9.6 69.5ZM58.5 71.4L58.8 71.3L59.6 71.1L59.8 71.4L59.7 72.4L59.6 72.5L58.8 72.9L57.9 72.4L57.8 72.4L57.9 72.2ZM32.4 74.3L32.9 73.7L33.8 73.7L34.6 74L34.9 74.3L34.6 74.7L34.2 75.2L33.8 75.4L32.9 75.6L32.2 75.2ZM98.1 99.2L98.8 98.5L99.6 98.7L99.6 99.2L99.6 100.1L99.6 100.2L99.5 100.1L98.8 99.8Z" fill="#3fbc73" fill-rule="evenodd"/>
<path d="M-8.8 34L-8.8 33.8L-7.9 33.7L-7.8 34L-7.9 34.7L-8.8 34.2ZM0.4 35L0.4 34.9L1.2 34.3L2.1 34.3L2.9 34.3L3.8 34.3L4.5 35L4.6 35.9L4.6 35.9L4.6 36L4.6 36.9L4.6 36.9L5.4 37.7L5.8 37.9L6.2 38.3L6.8 38.8L6.2 39.1L5.8 39.8L5.5 40.7L5.4 41.3L5.3 41.7L4.9 42.6L4.6 43.1L4 43.6L3.8 43.8L2.9 44L2.1 44L1.2 43.7L0.4 44.1L-0.2 44.6L-0.4 44.7L-1.2 45.2L-2.1 45.5L-2.9 45.4L-3.8 44.9L-4.5 44.6L-4.6 44.5L-5.4 44.5L-5.5 44.6L-6.2 44.9L-7.1 45.3L-7.9 45.1L-8.8 44.7L-9.1 44.6L-9.6 44.3L-9.6 43.6L-9.6 42.6L-9.6 41.7L-9.6 40.7L-9.6 39.8L-9.6 38.8L-9.6 37.9L-9.6 36.9L-9.6 36.3L-8.8 36.3L-7.9 36.2L-7.3 35.9L-7.1 35.8L-6.2 35.3L-5.4 35.3L-4.6 35.8L-4.4 35.9L-3.8 36.3L-2.9 36.4L-2.1 36.3L-1.6 35.9L-1.2 35.7L-0.4 35.3ZM7.7 37.9L7.9 37.8L8.4 37.9L7.9 38.2ZM6 76.2L6.2 76L7.1 76L7.8 76.2L7.9 76.3L8.8 76.8L9.6 77.1L9.7 77.1L9.9 78.1L9.6 79L9.5 79.1L9.6 79.1L9.7 80L10.1 81L9.8 81.9L9.6 82.1L8.9 82.9L8.8 83.1L7.9 83.5L7.1 83.6L6.6 83.9L6.2 84.5L6 84.8L5.4 85.3L4.6 85.2L3.8 85.1L2.9 85.6L2.7 85.8L2.1 86.5L1.7 86.7L1.2 87L0.4 87.5L0.1 87.7L-0.4 88L-1.2 88.2L-2.1 88.1L-2.9 87.8L-3.1 87.7L-3.8 87.4L-4.6 86.9L-5.1 86.7L-5.4 86.6L-6.2 86.3L-7.1 85.8L-7.2 85.8L-7.9 85.4L-8.8 85.7L-8.8 85.8L-9.2 86.7L-9.6 87.5L-9.6 86.7L-9.6 85.8L-9.6 84.8L-9.6 83.9L-9.6 82.9L-9.6 82.1L-9.4 81.9L-8.9 81L-9.2 80L-8.8 79.6L-7.9 79.5L-7.1 79.6L-6.2 79.6L-5.4 79.4L-4.6 79.3L-3.8 79.4L-2.9 79.8L-2.5 80L-2.1 80.3L-1.2 80.4L-0.8 80L-0.4 79.6L0.4 79.1L0.4 79L0.7 79.1L1.2 79.1L2.1 79.5L2.7 80L2.9 80.2L3.6 80L3.8 80L4.1 79.1L4.6 78.1L4.6 78L5 77.1L5.4 76.6ZM21.1 81.9L21.2 81.8L22.1 81.5L22.9 81.7L23.2 81.9L23.8 82.7L23.9 82.9L24.1 83.9L23.8 84.2L23.1 84.8L22.9 84.9L22.1 85.3L21.3 85.7L21.1 85.8L20.4 86.6L20.3 86.7L19.7 87.7L19.6 87.9L18.8 88.6L18.7 88.6L18.8 88.6L19.3 89.6L19.6 89.9L20.3 90.6L20.4 90.7L21 91.5L21.1 92.5L20.9 93.4L20.6 94.4L20.9 95.4L21.2 96.2L21.4 96.3L21.2 96.4L20.4 96.7L19.6 97.2L19.5 97.3L19.3 98.2L19.6 98.6L20 99.2L20.1 100.1L19.9 101.1L19.9 102.1L19.9 103L19.6 103L18.8 103L17.9 103L17.2 103L17.1 102.9L16.2 102.2L15.4 102.5L14.6 102.8L14.3 102.1L14 101.1L13.8 100.1L14.1 99.2L14.6 98.6L14.8 98.2L15.1 97.3L15.2 96.3L15.4 95.6L15.5 95.4L15.8 94.4L15.4 93.5L15.4 93.4L14.7 92.5L14.6 92.3L14.2 91.5L14.2 90.6L14.6 89.9L15.4 89.6L15.4 89.6L16.2 89L16.9 88.6L17.1 88.5L17.9 87.7L17.9 87.1L18 86.7L18.3 85.8L18.8 85.3L19.2 84.8L19.6 84.5L19.9 83.9L20.4 83L20.5 82.9ZM0.1 93.4L0.4 93.2L1.2 93.1L1.8 93.4L1.6 94.4L1.2 94.8L0.4 94.6L0.3 94.4Z" fill="#84d44b" fill-rule="evenodd"/></g>
<g id="m_hazc"><rect x="-1" y="-1" width="92" height="94" fill="#48186a"/>
<path d="M-9.6 -11L-8.8 -11L-7.9 -11L-7.1 -11L-6.2 -11L-5.4 -11L-4.6 -11L-3.8 -11L-2.9 -11L-2.1 -11L-1.2 -11L-0.4 -11L0.4 -11L1.2 -11L2.1 -11L2.9 -11L3.8 -11L4.6 -11L4.7 -11L4.6 -10.5L4.5 -10.1L4.5 -9.1L4.6 -8.5L4.7 -8.1L4.6 -7.9L4.1 -7.2L4.4 -6.2L4.6 -6.1L5.1 -5.3L5.4 -4.3L5.4 -3.6L5.4 -3.4L5.7 -2.4L5.4 -1.4L5.4 -1.4L4.6 -0.9L4.1 -0.5L3.9 0.5L4.6 1.1L4.8 1.4L5.4 2.2L5.6 2.4L6.2 3L7.1 3.2L7.9 3.1L8.8 2.6L9.3 2.4L9.6 1.6L9.6 1.4L9.6 0.9L9.6 0.5L9.6 -0.5L9.6 -0.5L9.7 -1.4L9.7 -2.4L9.6 -2.8L9.4 -3.4L9.6 -3.8L10.1 -4.3L10.4 -4.6L11 -5.3L10.6 -6.2L10.4 -6.8L10.3 -7.2L10.1 -8.1L10.3 -9.1L10.4 -9.6L10.6 -10.1L10.7 -11L11.2 -11L12.1 -11L12.9 -11L13.8 -11L14.6 -11L15.4 -11L16.2 -11L17.1 -11L17.9 -11L18.8 -11L19.6 -11L20.4 -11L21.2 -11L22.1 -11L22.9 -11L23.8 -11L24.6 -11L25.4 -11L26.2 -11L27.1 -11L27.9 -11L28.8 -11L29.6 -11L30.4 -11L31.2 -11L32.1 -11L32.9 -11L33.8 -11L34.6 -11L35.4 -11L36.2 -11L37.1 -11L37.9 -11L38.8 -11L39.6 -11L40.4 -11L41.2 -11L42.1 -11L42.9 -11L43.8 -11L44.6 -11L45.4 -11L46.2 -11L47.1 -11L47.9 -11L48.8 -11L49.6 -11L50.4 -11L51.2 -11L52.1 -11L52.9 -11L53.8 -11L54.6 -11L55.4 -11L56.2 -11L57.1 -11L57.9 -11L58.8 -11L59.6 -11L60.4 -11L61.2 -11L62.1 -11L62.9 -11L63.8 -11L64.6 -11L65.4 -11L66.2 -11L67.1 -11L67.9 -11L68.8 -11L69.6 -11L70.4 -11L71.2 -11L72.1 -11L72.9 -11L73.8 -11L74.6 -11L75.4 -11L76.2 -11L77.1 -11L77.9 -11L78.8 -11L79.6 -11L80.4 -11L81.2 -11L82.1 -11L82.9 -11L83.8 -11L84.6 -11L85.4 -11L86.2 -11L87.1 -11L87.9 -11L88.8 -11L89.6 -11L90.4 -11L91.2 -11L92.1 -11L92.9 -11L93.8 -11L94.6 -11L95.4 -11L96.2 -11L97.1 -11L97.9 -11L98.8 -11L99.6 -11L99.6 -10.1L99.6 -9.1L99.6 -8.1L99.6 -7.2L99.6 -6.2L99.6 -5.3L99.6 -4.3L99.6 -3.4L99.6 -2.4L99.6 -1.4L99.6 -0.5L99.6 0.5L99.6 1.4L99.6 2.4L99.6 3.4L99.6 4.3L99.6 5.3L99.6 6.2L99.6 7.2L99.6 8.1L99.6 9.1L99.6 10.1L99.6 11L99.6 12L99.6 12.9L99.6 13.9L99.6 14.9L99.6 15.8L99.6 16.8L99.6 17.7L99.6 18.7L99.6 19.6L99.6 20.6L99.6 21.6L99.6 22.5L99.6 23.5L99.6 24.4L99.6 25.4L99.6 26.4L99.6 27.3L99.6 28.3L99.6 29.2L99.6 30.2L99.6 31.1L99.6 32.1L99.6 33.1L99.6 34L99.6 35L99.6 35.9L99.6 36.9L99.6 37.9L99.6 38.8L99.6 39.8L99.6 40.7L99.6 41.7L99.6 42.6L99.6 43.6L99.6 44.6L99.6 45.5L99.6 46.5L99.6 47.4L99.6 48.4L99.6 49.4L99.6 50.3L99.6 51.3L99.6 52.2L99.6 53.2L99.6 54.1L99.6 55.1L99.6 56.1L99.6 57L99.6 58L99.6 58.9L99.6 59.9L99.6 60.9L99.6 61.8L99.6 62.8L99.6 63.7L99.6 64.7L99.6 65.6L99.6 66.6L99.6 67.6L99.6 68.5L99.6 69.5L99.6 70.4L99.6 71.4L99.6 72.4L99.6 73.3L99.6 74.3L99.6 75.2L99.6 76.2L99.6 77.1L99.6 78.1L99.6 79.1L99.6 80L99.6 81L99.6 81.9L99.6 82.9L99.6 83.9L99.6 84.8L99.6 85.8L99.6 86.7L99.6 87.7L99.6 88.6L99.6 89.6L99.6 90.6L99.6 91.5L99.6 92.5L99.6 93.4L99.6 94.4L99.6 95.4L99.6 96.3L99.6 97.3L99.6 98.2L99.6 99.2L99.6 100.1L99.6 101.1L99.6 102.1L99.6 103L98.8 103L97.9 103L97.1 103L96.2 103L95.4 103L94.6 103L93.8 103L92.9 103L92.1 103L91.2 103L90.4 103L89.6 103L88.8 103L87.9 103L87.1 103L86.2 103L85.4 103L84.6 103L83.8 103L82.9 103L82.1 103L81.2 103L80.4 103L79.6 103L78.8 103L77.9 103L77.1 103L76.2 103L75.4 103L74.6 103L73.8 103L72.9 103L72.1 103L71.2 103L70.4 103L69.6 103L68.8 103L67.9 103L67.1 103L66.2 103L65.4 103L64.6 103L63.8 103L62.9 103L62.1 103L61.2 103L60.4 103L59.6 103L58.8 103L57.9 103L57.1 103L56.2 103L55.4 103L54.6 103L53.8 103L52.9 103L52.1 103L51.2 103L50.4 103L49.6 103L48.8 103L47.9 103L47.1 103L46.2 103L45.4 103L44.6 103L43.8 103L42.9 103L42.1 103L41.2 103L40.4 103L39.6 103L38.8 103L37.9 103L37.1 103L36.2 103L35.4 103L34.6 103L33.8 103L32.9 103L32.1 103L31.2 103L30.4 103L29.6 103L28.8 103L27.9 103L27.1 103L26.2 103L25.4 103L24.6 103L23.8 103L22.9 103L22.1 103L21.2 103L20.4 103L19.6 103L18.8 103L17.9 103L17.1 103L16.2 103L15.4 103L14.6 103L13.8 103L12.9 103L12.1 103L11.2 103L10.4 103L9.6 103L8.8 103L7.9 103L7.1 103L6.2 103L5.4 103L4.6 103L3.8 103L2.9 103L2.1 103L1.2 103L0.4 103L-0.4 103L-1.2 103L-2.1 103L-2.9 103L-3.8 103L-4.6 103L-5.4 103L-6.2 103L-7.1 103L-7.9 103L-8.8 103L-9.6 103L-9.6 102.1L-9.6 101.1L-9.6 100.1L-9.6 99.2L-9.6 98.2L-9.6 97.3L-9.6 96.3L-9.6 95.4L-9.6 94.4L-9.6 93.4L-9.6 92.5L-9.6 91.5L-9.6 90.6L-9.6 89.6L-9.6 88.6L-9.6 87.7L-9.6 86.7L-9.6 85.8L-9.6 84.8L-9.6 83.9L-9.6 82.9L-9.6 81.9L-9.6 81L-9.6 80L-9.6 79.1L-9.6 78.1L-9.6 77.1L-9.6 76.2L-9.6 75.2L-9.6 74.3L-9.6 73.3L-9.6 72.4L-9.6 71.4L-9.6 70.4L-9.6 69.5L-9.6 68.5L-9.6 67.6L-9.6 66.6L-9.6 65.6L-9.6 64.7L-9.6 63.7L-9.6 62.8L-9.6 61.8L-9.6 60.9L-9.6 59.9L-9.6 58.9L-9.6 58L-9.6 57L-9.6 56.1L-9.6 55.1L-9.6 54.1L-9.6 53.2L-9.6 52.2L-9.6 51.3L-9.6 50.3L-9.6 49.4L-9.6 48.4L-9.6 47.4L-9.6 46.5L-9.6 45.5L-9.6 44.6L-9.6 43.6L-9.6 42.6L-9.6 41.7L-9.6 40.7L-9.6 39.8L-9.6 38.8L-9.6 37.9L-9.6 36.9L-9.6 35.9L-9.6 35L-9.6 34L-9.6 33.1L-9.6 32.1L-9.6 31.1L-9.6 30.2L-9.6 29.2L-9.6 28.3L-9.6 27.3L-9.6 26.4L-9.6 25.4L-9.6 24.4L-9.6 23.5L-9.6 22.5L-9.6 21.6L-9.6 20.6L-9.6 19.6L-9.6 18.7L-9.6 17.7L-9.6 16.8L-9.6 15.8L-9.6 14.9L-9.6 13.9L-9.6 12.9L-9.6 12L-9.6 11L-9.6 10.1L-9.6 9.1L-9.6 8.1L-9.6 7.2L-9.6 6.2L-9.6 5.3L-9.6 4.3L-9.6 3.4L-9.6 2.4L-9.6 1.4L-9.6 0.5L-9.6 -0.5L-9.6 -1.4L-9.6 -2.4L-9.6 -3.4L-9.6 -4.3L-9.6 -5.3L-9.6 -6.2L-9.6 -7.2L-9.6 -8.1L-9.6 -9.1L-9.6 -10.1Z" fill="#424086" fill-rule="evenodd"/>
<path d="M-9.6 -11L-9.3 -11L-9.6 -10.9ZM40.2 -11L40.4 -11L41.2 -11L42.1 -11L42.9 -11L43.8 -11L44.6 -11L45.4 -11L46.2 -11L47.1 -11L47.9 -11L48.8 -11L49.6 -11L50.4 -11L51.2 -11L52.1 -11L52.9 -11L53.8 -11L54.6 -11L55.4 -11L56.2 -11L57.1 -11L57.9 -11L58.8 -11L59.6 -11L60.4 -11L61.2 -11L62.1 -11L62.9 -11L63.8 -11L64.6 -11L65.4 -11L66.2 -11L67.1 -11L67.9 -11L68.8 -11L69.6 -11L70.4 -11L71.2 -11L72.1 -11L72.9 -11L73.8 -11L74.6 -11L75.4 -11L75.7 -11L75.4 -10.5L74.9 -10.1L74.6 -9.7L74.3 -9.1L74.4 -8.1L74.6 -7.8L74.9 -7.2L75.2 -6.2L75.2 -5.3L75 -4.3L75 -3.4L75.2 -2.4L75.4 -1.4L75.4 -1.3L75.6 -0.5L75.8 0.5L75.7 1.4L75.4 1.8L75 2.4L74.6 3.3L74.5 3.4L74.4 4.3L73.8 5L73.5 5.3L72.9 5.9L72.6 6.2L72.2 7.2L72.2 8.1L72.2 9.1L72.1 9.3L71.3 10.1L71.2 10.1L71 11L71.2 11.3L72 12L72.1 12L72.9 12.1L73.1 12L73.8 11.7L74.6 11.3L75.1 11L75.4 10.5L75.6 10.1L75.4 9.1L75.4 8.1L75.4 8.1L75.4 7.2L75.1 6.2L75.1 5.3L75.4 5L76.2 4.3L76.3 4.3L77.1 4.3L77.1 4.3L77.9 4.8L78.8 5.2L79.6 5.2L80.4 5L81.2 4.7L82.1 4.3L82.1 4.3L82.9 3.4L83 3.4L83.2 2.4L83.1 1.4L82.9 0.6L82.9 0.5L82.7 -0.5L82.5 -1.4L82.4 -2.4L82.9 -2.9L83.3 -3.4L83.6 -4.3L83.3 -5.3L82.9 -6.2L82.9 -6.2L82.7 -7.2L82.7 -8.1L82.7 -9.1L82.5 -10.1L82.3 -11L82.9 -11L83.8 -11L84.6 -11L85.4 -11L86.2 -11L87.1 -11L87.9 -11L88.8 -11L89.6 -11L90.4 -11L91.2 -11L92.1 -11L92.9 -11L93.8 -11L94.6 -11L95.4 -11L96.2 -11L97.1 -11L97.9 -11L98.8 -11L99.6 -11L99.6 -10.1L99.6 -9.1L99.6 -8.1L99.6 -7.2L99.6 -6.2L99.6 -5.3L99.6 -4.3L99.6 -3.4L99.6 -2.4L99.6 -1.4L99.6 -0.5L99.6 0.5L99.6 1.4L99.6 2.4L99.6 3.4L99.6 4.3L99.6 5.3L99.6 6.2L99.6 7.2L99.6 8.1L99.6 9.1L99.6 10.1L99.6 11L99.6 12L99.6 12.9L99.6 13.9L99.6 14.9L99.6 15.8L99.6 16.8L99.6 17.7L99.6 18.7L99.6 19.6L99.6 20.6L99.6 21.6L99.6 22.5L99.6 23.5L99.6 24.4L99.6 25.4L99.6 26.4L99.6 27.3L99.6 28.3L99.6 29.2L99.6 30.2L99.6 31.1L99.6 32.1L99.6 33.1L99.6 34L99.6 35L99.6 35.9L99.6 36.9L99.6 37.9L99.6 38.8L99.6 39.8L99.6 40.7L99.6 41.7L99.6 42.6L99.6 43.6L99.6 44.6L99.6 45.5L99.6 46.5L99.6 47.4L99.6 48.4L99.6 49.4L99.6 50.3L99.6 51.3L99.6 52.2L99.6 53.2L99.6 54.1L99.6 55.1L99.6 56.1L99.6 57L99.6 58L99.6 58.9L99.6 59.9L99.6 60.9L99.6 61.8L99.6 62.8L99.6 63.7L99.6 64.7L99.6 65.6L99.6 66.6L99.6 67.6L99.6 68.5L99.6 69.5L99.6 70.4L99.6 71.4L99.6 72.4L99.6 73.3L99.6 74.3L99.6 75.2L99.6 76.2L99.6 77.1L99.6 78.1L99.6 79.1L99.6 80L99.6 81L99.6 81.9L99.6 82.9L99.6 83.9L99.6 84.8L99.6 85.8L99.6 86.7L99.6 87.7L99.6 88.6L99.6 89.6L99.6 90.6L99.6 91.5L99.6 92.5L99.6 93.4L99.6 94.4L99.6 95.4L99.6 96.3L99.6 97.3L99.6 98.2L99.6 99.2L99.6 100.1L99.6 101.1L99.6 102.1L99.6 103L98.8 103L97.9 103L97.1 103L96.2 103L95.4 103L94.6 103L93.8 103L92.9 103L92.1 103L91.2 103L90.4 103L89.6 103L88.8 103L87.9 103L87.1 103L86.2 103L85.4 103L84.6 103L83.8 103L82.9 103L82.1 103L81.2 103L80.4 103L79.6 103L78.8 103L77.9 103L77.1 103L76.2 103L75.4 103L74.6 103L73.8 103L72.9 103L72.1 103L71.2 103L70.4 103L69.6 103L68.8 103L67.9 103L67.1 103L66.2 103L65.4 103L64.6 103L63.8 103L62.9 103L62.1 103L61.2 103L60.4 103L59.6 103L58.8 103L57.9 103L57.1 103L56.2 103L55.4 103L54.6 103L53.8 103L52.9 103L52.1 103L51.2 103L50.4 103L49.6 103L48.8 103L47.9 103L47.1 103L46.2 103L45.4 103L44.6 103L43.8 103L42.9 103L42.1 103L41.2 103L40.4 103L39.6 103L38.8 103L37.9 103L37.1 103L36.2 103L35.4 103L34.6 103L33.8 103L32.9 103L32.1 103L31.2 103L30.4 103L29.6 103L28.8 103L27.9 103L27.1 103L26.2 103L25.4 103L24.6 103L23.8 103L22.9 103L22.1 103L21.2 103L20.4 103L19.6 103L18.8 103L17.9 103L17.1 103L16.2 103L15.4 103L14.6 103L13.8 103L12.9 103L12.1 103L11.2 103L10.4 103L9.6 103L8.8 103L7.9 103L7.1 103L6.2 103L5.4 103L4.6 103L3.8 103L2.9 103L2.1 103L1.2 103L0.4 103L-0.4 103L-1.2 103L-2.1 103L-2.9 103L-3.8 103L-4.6 103L-5.4 103L-6.2 103L-7.1 103L-7.9 103L-8.8 103L-9.6 103L-9.6 102.1L-9.6 101.1L-9.6 100.1L-9.6 99.2L-9.6 98.2L-9.6 97.3L-9.6 96.3L-9.6 95.4L-9.6 94.4L-9.6 93.4L-9.6 92.5L-9.6 91.5L-9.6 90.6L-9.6 89.6L-9.6 88.6L-9.6 87.7L-9.6 86.7L-9.6 85.8L-9.6 84.8L-9.6 83.9L-9.6 82.9L-9.6 81.9L-9.6 81L-9.6 80L-9.6 79.1L-9.6 78.1L-9.6 77.1L-9.6 76.2L-9.6 75.2L-9.6 74.3L-9.6 73.3L-9.6 72.4L-9.6 71.4L-9.6 70.4L-9.6 69.5L-9.6 68.5L-9.6 67.6L-9.6 66.6L-9.6 65.6L-9.6 64.7L-9.6 63.7L-9.6 62.8L-9.6 61.8L-9.6 60.9L-9.6 59.9L-9.6 58.9L-9.6 58L-9.6 57L-9.6 56.1L-9.6 55.1L-9.6 54.1L-9.6 53.2L-9.6 52.2L-9.6 51.3L-9.6 50.3L-9.6 49.4L-9.6 48.4L-9.6 47.4L-9.6 46.5L-9.6 45.5L-9.6 44.6L-9.6 43.6L-9.6 42.6L-9.6 41.7L-9.6 40.7L-9.6 39.8L-9.6 38.8L-9.6 37.9L-9.6 36.9L-9.6 35.9L-9.6 35L-9.6 34L-9.6 33.1L-9.6 32.1L-9.6 31.1L-9.6 30.2L-9.6 29.2L-9.6 28.3L-9.6 27.3L-9.6 26.4L-9.6 25.4L-9.6 24.4L-9.6 23.5L-9.6 22.5L-9.6 21.6L-9.6 20.6L-9.6 19.6L-9.6 18.7L-9.6 17.7L-9.6 16.8L-9.6 15.8L-9.6 14.9L-9.6 13.9L-9.6 12.9L-9.6 12L-9.6 11L-9.6 10.1L-9.6 9.1L-9.6 8.1L-9.6 7.2L-9.6 6.2L-9.6 5.3L-9.6 4.3L-9.6 4L-8.8 4.2L-7.9 4.3L-7.1 4.2L-6.2 4.2L-5.4 4.1L-4.6 4.2L-4.2 4.3L-3.8 4.5L-2.9 4.7L-2.1 4.8L-1.2 4.7L-0.4 4.7L0.4 4.9L1.2 5L2.1 5.1L2.9 5.2L3.8 5.2L4.3 5.3L4.6 5.3L5.4 5.5L6.2 5.7L7.1 5.9L7.9 6.1L8.6 6.2L8.8 6.3L9.6 6.4L10.4 6.4L10.9 6.2L11.2 6.1L12.1 5.6L12.6 5.3L12.9 5.1L13.8 4.8L14.6 4.7L15.3 5.3L15.3 6.2L15.4 6.7L15.5 7.2L16.2 7.7L17.1 7.6L17.8 7.2L17.9 7.1L18.8 6.5L19.4 6.2L19.6 6.1L20.4 5.8L20.9 5.3L21.2 4.9L21.8 4.3L22.1 4.2L22.6 4.3L22.9 4.5L23.3 5.3L23.8 5.9L24.6 6.2L25.4 5.8L26.2 5.3L26.2 5.2L27.1 5.2L27.6 5.3L27.9 5.4L28.2 5.3L28.8 5.2L29.6 4.9L30.4 4.6L31.2 4.5L32.1 4.7L32.9 5L33.8 5.2L34.6 4.9L35 4.3L35.4 3.7L35.9 3.4L36.2 3.3L37.1 3.1L37.9 2.8L38.6 2.4L38.6 1.4L38.7 0.5L38.8 0.4L39.4 0.5L39.6 1L39.6 1.4L39.6 1.5L39.1 2.4L39.6 2.7L40.2 3.4L40.4 3.4L40.7 3.4L41.2 3.2L41.8 2.4L42.1 2L42.4 1.4L42.8 0.5L42.8 -0.5L42.1 -1L41.2 -1.2L40.8 -1.4L40.4 -2L40.2 -2.4L40.1 -3.4L40.3 -4.3L40.4 -4.5L40.6 -5.3L40.4 -6.2L40.4 -6.2L39.7 -7.2L39.6 -7.5L38.8 -8.1L38.7 -8.1L38.8 -8.2L39.1 -9.1L39.6 -9.7L39.8 -10.1Z" fill="#33638d" fill-rule="evenodd"/>
<path d="M48.3 -11L48.8 -11L49.6 -11L50.4 -11L51.2 -11L52.1 -11L52.9 -11L53.8 -11L54.6 -11L55.4 -11L56.2 -11L57.1 -11L57.9 -11L58.8 -11L59.6 -11L60.4 -11L61.2 -11L62.1 -11L62.9 -11L63.8 -11L64.6 -11L65.4 -11L66.2 -11L67.1 -11L67.9 -11L68.8 -11L69.5 -11L69.6 -10.8L70 -10.1L70.4 -9.1L70.4 -8.1L70.1 -7.2L69.9 -6.2L69.7 -5.3L69.6 -4.8L69.6 -4.3L69.6 -3.8L69.6 -3.4L69.8 -2.4L69.8 -1.4L69.7 -0.5L69.6 -0L69.4 0.5L69.1 1.4L68.8 1.8L67.9 2L67.4 2.4L67.1 2.7L66.8 3.4L66.3 4.3L66.2 4.4L65.6 5.3L65.4 5.4L64.9 6.2L64.6 6.7L64.2 7.2L63.8 7.6L62.9 7.8L62.1 7.9L61.3 7.7L60.4 7.9L60.2 8.1L60.2 9.1L59.8 10.1L59.6 10.3L59.1 11L59.1 12L59.3 12.9L59.3 13.9L59.2 14.9L59.6 15.6L60.4 15.2L61.2 15.6L61.4 15.8L61.2 16.1L60.9 16.8L60.4 17.1L60 17.7L59.8 18.7L59.7 19.6L59.6 20.4L59.5 20.6L59.3 21.6L59.3 22.5L59.3 23.5L59 24.4L59 25.4L59.2 26.4L59.2 27.3L59.4 28.3L59.3 29.2L58.8 29.7L57.9 29.8L57.1 29.6L56.7 29.2L56.2 28.8L55.6 28.3L55.4 28.2L54.6 28.2L54.5 28.3L54.5 29.2L54.6 29.5L54.8 30.2L55.1 31.1L55.4 32L55.5 32.1L56 33.1L56.2 33.5L57.1 33.8L57.9 33.8L58.8 33.6L59.5 34L59.6 34.1L60 35L60.4 35.6L60.9 35.9L61.2 36.4L61.5 35.9L62.1 35.3L62.2 35L62.9 34.2L63.1 34L63.8 33.4L64.1 33.1L64.6 32.5L65.2 32.1L65.4 31.8L65.6 31.1L65.4 30.5L65.3 30.2L64.9 29.2L64.6 28.6L64.5 28.3L64.1 27.3L63.9 26.4L64 25.4L64.2 24.4L64.2 23.5L64.3 22.5L64.5 21.6L64.6 21.1L64.7 20.6L64.6 19.6L64.6 19.5L63.9 18.7L64.6 18.3L65.4 17.8L65.5 17.7L66.2 17.3L66.8 16.8L67.1 16.4L67.5 15.8L67.9 15.4L68.8 14.9L69.6 15.2L70.4 15.8L70.7 15.8L71.2 15.9L72.1 16.2L72.7 16.8L72.9 16.9L73.8 17.5L74.6 17.5L75.4 17.1L76.2 17.1L77.1 17.4L77.9 17.5L78.8 17L78.9 16.8L79.3 15.8L79.3 14.9L79.3 13.9L79 12.9L78.8 12L79.1 11L79.6 10.2L79.7 10.1L80 9.1L80.2 8.1L80.4 7.7L81.1 7.2L81.2 7.1L82.1 7L82.9 6.7L83.3 6.2L83.8 5.5L83.8 5.3L84.6 4.4L84.7 4.3L85.3 3.4L85.3 2.4L85.1 1.4L84.9 0.5L84.9 -0.5L85 -1.4L85.2 -2.4L85.4 -3.4L85.3 -4.3L85.2 -5.3L85 -6.2L84.8 -7.2L84.6 -8L84.6 -8.1L84.4 -9.1L84.6 -10.1L84.6 -10.1L84.8 -11L85.4 -11L86.2 -11L87.1 -11L87.9 -11L88.8 -11L89.6 -11L90.4 -11L91.2 -11L92.1 -11L92.9 -11L93.8 -11L94.6 -11L95.4 -11L96.2 -11L97.1 -11L97.9 -11L98.8 -11L99.6 -11L99.6 -10.1L99.6 -9.1L99.6 -8.1L99.6 -7.2L99.6 -6.2L99.6 -5.3L99.6 -4.3L99.6 -3.4L99.6 -2.4L99.6 -1.4L99.6 -0.5L99.6 0.5L99.6 1.4L99.6 2.4L99.6 3.4L99.6 4.3L99.6 5.3L99.6 6.2L99.6 7.2L99.6 8.1L99.6 9.1L99.6 10.1L99.6 11L99.6 12L99.6 12.9L99.6 13.9L99.6 14.9L99.6 15.8L99.6 16.8L99.6 17.7L99.6 18.7L99.6 19.6L99.6 20.6L99.6 21.6L99.6 22.5L99.6 23.5L99.6 24.4L99.6 25.4L99.6 26.4L99.6 27.3L99.6 28.3L99.6 29.2L99.6 30.2L99.6 31.1L99.6 32.1L99.6 33.1L99.6 34L99.6 35L99.6 35.9L99.6 36.9L99.6 37.9L99.6 38.8L99.6 39.8L99.6 40.7L99.6 41.7L99.6 42.6L99.6 43.6L99.6 44.6L99.6 45.5L99.6 46.5L99.6 47.4L99.6 48.4L99.6 49.4L99.6 50.3L99.6 51.3L99.6 52.2L99.6 53.2L99.6 54.1L99.6 55.1L99.6 56.1L99.6 57L99.6 58L99.6 58.9L99.6 59.9L99.6 60.9L99.6 61.8L99.6 62.8L99.6 63.7L99.6 64.7L99.6 65.6L99.6 66.6L99.6 67.6L99.6 68.5L99.6 69.5L99.6 70.4L99.6 71.4L99.6 72.4L99.6 73.3L99.6 74.3L99.6 75.2L99.6 76.2L99.6 77.1L99.6 78.1L99.6 79.1L99.6 80L99.6 81L99.6 81.9L99.6 82.9L99.6 83.9L99.6 84.8L99.6 85.8L99.6 86.7L99.6 87.7L99.6 88.6L99.6 89.6L99.6 90.6L99.6 91.5L99.6 92.5L99.6 93.4L99.6 94.4L99.6 95.4L99.6 96.3L99.6 97.3L99.6 98.2L99.6 99.2L99.6 100.1L99.6 101.1L99.6 102.1L99.6 103L98.8 103L97.9 103L97.1 103L96.2 103L95.4 103L94.6 103L93.8 103L92.9 103L92.1 103L91.2 103L90.4 103L89.6 103L88.8 103L87.9 103L87.1 103L86.2 103L85.4 103L84.6 103L83.8 103L82.9 103L82.1 103L81.2 103L80.4 103L79.6 103L78.8 103L77.9 103L77.1 103L76.2 103L75.4 103L74.6 103L73.8 103L72.9 103L72.1 103L71.2 103L70.4 103L69.6 103L68.8 103L67.9 103L67.1 103L66.2 103L65.4 103L64.6 103L63.8 103L62.9 103L62.1 103L61.2 103L60.4 103L59.6 103L58.8 103L57.9 103L57.1 103L56.2 103L55.4 103L54.6 103L53.8 103L52.9 103L52.1 103L51.2 103L50.4 103L49.6 103L48.8 103L47.9 103L47.1 103L46.2 103L45.4 103L44.6 103L43.8 103L42.9 103L42.1 103L41.2 103L40.4 103L39.6 103L38.8 103L37.9 103L37.1 103L36.2 103L35.4 103L34.6 103L33.8 103L32.9 103L32.1 103L31.2 103L30.4 103L29.6 103L28.8 103L27.9 103L27.1 103L26.2 103L25.4 103L24.6 103L23.8 103L22.9 103L22.1 103L21.2 103L20.4 103L19.6 103L18.8 103L17.9 103L17.1 103L16.2 103L15.4 103L14.6 103L13.8 103L12.9 103L12.1 103L11.2 103L10.4 103L9.6 103L8.8 103L7.9 103L7.1 103L6.2 103L5.4 103L4.6 103L3.8 103L2.9 103L2.1 103L1.2 103L0.4 103L-0.4 103L-1.2 103L-2.1 103L-2.9 103L-3.8 103L-4.6 103L-5.4 103L-6.2 103L-7.1 103L-7.9 103L-8.8 103L-9.6 103L-9.6 102.1L-9.6 101.1L-9.6 100.1L-9.6 99.2L-9.6 98.2L-9.6 97.3L-9.6 96.3L-9.6 95.4L-9.6 94.4L-9.6 93.4L-9.6 92.5L-9.6 91.5L-9.6 90.6L-9.6 89.6L-9.6 88.6L-9.6 87.7L-9.6 86.7L-9.6 85.8L-9.6 84.8L-9.6 83.9L-9.6 82.9L-9.6 81.9L-9.6 81L-9.6 80L-9.6 79.1L-9.6 78.1L-9.6 77.1L-9.6 76.2L-9.6 75.2L-9.6 74.3L-9.6 73.3L-9.6 72.4L-9.6 71.4L-9.6 70.4L-9.6 69.5L-9.6 68.5L-9.6 67.6L-9.6 66.6L-9.6 65.6L-9.6 64.7L-9.6 63.7L-9.6 62.8L-9.6 61.8L-9.6 60.9L-9.6 59.9L-9.6 58.9L-9.6 58L-9.6 57L-9.6 56.1L-9.6 55.1L-9.6 54.1L-9.6 53.2L-9.6 52.2L-9.6 51.3L-9.6 50.3L-9.6 49.4L-9.6 48.4L-9.6 47.4L-9.6 46.5L-9.6 45.5L-9.6 44.6L-9.6 43.6L-9.6 42.6L-9.6 41.7L-9.6 40.7L-9.6 39.8L-9.6 38.8L-9.6 37.9L-9.6 36.9L-9.6 35.9L-9.6 35L-9.6 34L-9.6 33.1L-9.6 32.1L-9.6 31.1L-9.6 30.2L-9.6 29.2L-9.6 28.3L-9.6 27.3L-9.6 26.4L-9.6 25.4L-9.6 24.4L-9.6 23.5L-9.6 22.5L-9.6 21.6L-9.6 20.6L-9.6 19.6L-9.6 18.7L-9.6 17.7L-9.6 16.8L-9.6 15.8L-9.6 14.9L-9.6 13.9L-9.6 12.9L-9.6 12L-9.6 11L-9.6 10.1L-9.6 9.7L-8.8 9.5L-7.9 9.1L-7.9 9.1L-7.7 8.1L-7.7 7.2L-7.1 6.8L-6.7 7.2L-6.2 7.6L-5.4 7.8L-4.6 7.6L-4.2 7.2L-3.8 6.8L-2.9 6.5L-2.1 6.7L-1.3 7.2L-1.2 7.2L-0.4 7.9L0.4 7.9L1.2 7.5L2.1 7.2L2.9 7.2L3.7 7.6L4.6 8.1L4.6 8.1L5.3 9.1L5.4 9.3L5.8 10.1L6.1 11L6.2 11.3L6.7 12L7.1 12.5L7.7 12.9L7.9 13.1L8.8 13.7L9.1 13.9L9.5 14.9L9.5 15.8L9.2 16.8L8.9 17.7L9.2 18.7L9.6 19.2L10 19.6L10.4 19.9L11.2 20.3L11.4 20.6L11.9 21.6L12.1 21.9L12.9 22.4L13.8 21.9L14.2 21.6L14.6 21.1L15.4 20.9L16.2 21.2L16.7 21.6L17.1 21.8L17.9 22.2L18.8 22.2L19.4 21.6L19.6 21.2L19.8 20.6L20.3 19.6L20.4 19.3L20.6 18.7L20.7 17.7L20.5 16.8L20.4 16.4L20.3 15.8L20.2 14.9L20.3 13.9L20.4 13.5L20.8 12.9L21.2 12.4L21.9 12L22.1 11.7L22.9 11L22.9 11L23.8 10.9L24.6 11L25.4 11L26.2 11L27.1 11L27.9 10.6L28.6 10.1L28.8 9.9L29.6 9.8L30.3 9.1L30 8.1L30.4 7.3L30.5 7.2L31.2 6.8L32.1 6.7L32.9 6.7L33.8 6.9L34.6 7.1L35.4 7.2L35.4 7.2L36.2 7.3L37.1 7.5L37.9 7.3L38.2 7.2L38.8 6.8L39.6 6.6L40.4 6.9L40.7 7.2L41.1 8.1L41.1 9.1L40.7 10.1L40.4 10.6L40.3 11L40.3 12L40.4 12.9L40.4 12.9L40.6 13.9L41 14.9L41.2 15L42.1 15.4L42.9 15.6L43.7 14.9L43.8 14.8L44 13.9L44.2 12.9L44.1 12L43.8 11L43.8 10.4L43.6 10.1L43.8 9.4L43.8 9.1L44.1 8.1L44.6 7.6L45.1 7.2L45.4 6.7L45.9 6.2L46.2 5.7L47.1 5.9L47.9 6L48.8 5.8L49.6 5.8L50.4 5.9L51 5.3L51 4.3L50.8 3.4L50.4 2.4L50.4 2.4L49.9 1.4L49.6 1.1L49.2 0.5L49.1 -0.5L49.3 -1.4L49.6 -2.4L49.6 -2.4L49.6 -3.4L49.7 -4.3L50 -5.3L50.4 -6.2L50.5 -6.2L50.9 -7.2L50.9 -8.1L50.5 -9.1L50.4 -9.7L49.6 -9.9L48.8 -9.9L48.6 -10.1ZM62.9 41.5L62.6 41.7L62.1 41.9L61.4 42.6L61.2 42.8L60.8 43.6L60.7 44.6L60.9 45.5L61.2 46.1L61.6 46.5L62.1 47L62.9 47L63.6 46.5L63.8 46.3L64.6 46L65.4 45.7L65.6 45.5L65.4 45.2L65.1 44.6L64.6 44.1L64.2 43.6L63.8 42.6L63.8 42.6L63 41.7ZM66.2 52.2L66.2 52.2L65.4 53.2L65.4 53.2L65.3 54.1L65.3 55.1L65.2 56.1L65.4 56.4L65.9 57L66.2 57.2L66.9 57L67.1 57L67.9 56.8L68.8 56.7L69.6 56.2L69.6 56.1L69.6 55.5L69.6 55.1L69.5 54.1L69.4 53.2L69.1 52.2L68.8 51.8L67.9 51.5L67.1 51.7ZM94.6 53.2L94.3 53.2L93.8 53.3L93.7 54.1L93.8 54.2L94.6 54.5L95.2 54.1L94.6 53.2ZM37.1 56.8L36.8 57L36.2 57.5L35.9 58L35.4 58.5L34.6 58.8L33.8 58.9L32.9 58.8L32.1 58.8L31.2 58.7L30.4 58.4L29.6 58.2L28.8 58.2L27.9 58.3L27.1 58.6L26.6 58.9L26.2 59.8L26.2 59.9L26 60.9L25.8 61.8L26 62.8L26.2 63.5L26.5 63.7L26.5 64.7L26.2 65.1L26.1 65.6L26.1 66.6L26.2 66.9L27.1 67.6L27.1 67.6L27.9 68L28.5 68.5L28.8 68.9L29.1 69.5L29.5 70.4L29.6 70.5L29.9 71.4L30.2 72.4L30.4 72.6L31.2 73.3L31.2 73.3L32.1 73.3L32.2 73.3L32.9 72.9L33.7 73.3L33.8 73.3L34.6 73.6L35.4 73.7L36.2 73.5L37.1 73.4L37.9 73.3L38.8 73.3L38.8 73.3L39.6 72.9L40 72.4L40.1 71.4L39.9 70.4L40.4 69.7L40.7 69.5L41.2 69.3L42.1 68.8L42.4 68.5L42.9 68L43.8 68L44.4 68.5L44.6 68.6L45.4 68.7L46.2 68.6L47 69.5L47.1 69.7L47.9 69.9L48.4 69.5L48.8 69.1L49.3 68.5L49.6 68.3L50.4 67.8L51.2 67.7L52.1 67.7L52.5 67.6L52.9 67.4L53.8 67.2L54.6 67.5L55.4 67.2L55.5 66.6L55.4 66.2L55 65.6L54.6 65.5L53.8 65L53.4 64.7L52.9 64.4L52.1 64.2L51.2 64.4L50.4 64.5L49.8 63.7L49.6 63.5L49 62.8L48.8 62.4L47.9 61.9L47.1 62.2L46.8 62.8L46.2 63.3L45.4 63.4L44.6 62.8L44.5 62.8L44.3 61.8L44.4 60.9L44 59.9L43.8 59.6L43 58.9L42.9 58.9L42.1 58.6L41.5 58L41.2 57.8L40.8 58L40.4 58.1L39.6 58.4L38.8 58.1L38.7 58L37.9 57L37.9 57ZM41.2 34.7L41.1 35L40.6 35.9L40.4 36.6L40.4 36.9L40.3 37.9L40.3 38.8L40.3 39.8L40.4 40.7L40 41.7L39.6 42.6L39.6 42.6L39.6 42.7L40.1 43.6L40.4 43.8L41.2 44.2L41.8 44.6L42.1 44.7L42.9 45.5L43.6 45.5L43.8 45.5L43.8 45.5L44.5 44.6L44.3 43.6L43.9 42.6L43.8 42.1L43.7 41.7L43.6 40.7L43.5 39.8L43.6 38.8L43.2 37.9L42.9 37.5L42.8 36.9L42.9 36.3L43.8 36.4L43.9 36.9L43.9 37.9L44 38.8L44.6 39.2L45.4 38.9L45.7 38.8L46.2 38.6L47.1 38.6L47.4 38.8L47.9 39.1L48.8 39.3L49.6 39.1L49.8 38.8L50.1 37.9L50.4 37.1L50.5 36.9L51.1 35.9L50.4 35.4L49.6 35.3L48.8 35.5L48.2 35.9L47.9 36.3L47.1 36.4L46.5 35.9L46.2 35.8L45.4 35.6L44.6 35.6L43.8 35.5L43.2 35L42.9 34.8L42.1 34.5ZM70.6 -5.3L71.2 -5.7L72.1 -5.3L72.1 -5.3L72.5 -4.3L72.2 -3.4L72.1 -3.3L71.9 -3.4L71.2 -3.7L70.6 -4.3ZM33.5 70.4L33.8 70L34.1 70.4L33.8 70.8Z" fill="#26828e" fill-rule="evenodd"/>
<path d="M55.3 -11L55.4 -11L56.2 -11L57.1 -11L57.9 -11L58.8 -11L59.6 -11L60.4 -11L61.2 -11L62.1 -11L62.9 -11L63.8 -11L64.6 -11L65 -11L65.3 -10.1L65.4 -9.7L65.6 -9.1L65.7 -8.1L65.4 -7.3L65.3 -7.2L64.6 -6.6L63.8 -6.6L62.9 -6.4L62.8 -6.2L62.5 -5.3L62.5 -4.3L62.9 -3.4L62.9 -3.2L63.8 -2.7L64.1 -2.4L64.6 -2L64.8 -1.4L65.1 -0.5L65 0.5L64.6 1.2L64.4 1.4L63.8 2.4L63.8 2.8L63.2 2.4L62.9 2.3L62.1 1.8L61.7 2.4L61.2 2.8L61 3.4L60.4 3.9L59.6 4.2L58.8 3.9L57.9 4.1L57.9 4.3L57.1 4.9L56.2 4.7L55.7 4.3L55.6 3.4L55.4 3.2L54.6 2.4L54.6 2.4L54.2 1.4L54.5 0.5L54.6 0.4L55.1 -0.5L55.3 -1.4L55.4 -2.3L55.4 -2.4L55.4 -2.5L55.2 -3.4L54.6 -4.3L54.6 -4.4L54.3 -5.3L54.2 -6.2L54.2 -7.2L54.6 -7.7L54.7 -8.1L55 -9.1L55.2 -10.1ZM61.2 -0.6L61.1 -0.5L61.2 0.5L61.3 0.6L61.4 0.5L62.1 -0.4L62.1 -0.5L62.1 -0.5ZM86.5 -11L87.1 -11L87.9 -11L88.8 -11L89.6 -11L90.4 -11L91.2 -11L92.1 -11L92.9 -11L93.8 -11L94.6 -11L95.4 -11L96.2 -11L97.1 -11L97.9 -11L98.8 -11L99.6 -11L99.6 -10.1L99.6 -9.1L99.6 -8.1L99.6 -7.2L99.6 -6.2L99.6 -5.3L99.6 -4.3L99.6 -3.4L99.6 -2.4L99.6 -1.4L99.6 -1.3L99 -0.5L99.4 0.5L99.6 0.6L99.6 1.4L99.6 2.4L99.6 3.4L99.6 4.3L99.6 5.3L99.6 6.2L99.6 7.2L99.6 8.1L99.6 9.1L99.6 10.1L99.6 11L99.6 12L99.6 12.9L99.6 13.1L99.1 12.9L98.8 12.9L97.9 12.3L97.5 12L97.1 11.7L96.2 11.4L95.4 11.2L94.6 11.2L93.8 11.2L92.9 11.1L92.1 11.1L91.2 11.3L90.4 11.2L89.7 11L89.6 11L89.4 11L88.8 11.2L87.9 11.4L87.1 11.1L86.8 11L86.3 10.9L85.6 10.1L85.4 9.7L85.2 9.1L85.3 8.1L85.4 7.8L85.7 7.2L86.2 6.6L86.6 6.2L87 5.3L87.1 4.4L87.1 4.3L87.1 3.4L87.1 3.2L87.1 2.4L86.8 1.4L86.4 0.5L86.2 -0L86.2 -0.5L86.2 -1.1L86.3 -1.4L86.6 -2.4L86.7 -3.4L86.7 -4.3L86.6 -5.3L86.5 -6.2L86.6 -7.2L86.7 -8.1L86.7 -9.1L86.5 -10.1ZM62.4 4.3L62.9 3.5L63.7 4.3L63.3 5.3L62.9 5.6L62.3 5.3ZM53.1 11L53.8 10.6L54.6 10.6L54.9 11L55.3 12L55.2 12.9L55.1 13.9L55 14.9L54.7 15.8L54.6 16.2L54.4 16.8L54 17.7L53.8 18L52.9 18.4L52.1 18.5L51.2 18.4L50.6 17.7L50.6 16.8L50.4 16.6L49.6 16.5L48.8 16.7L48.7 16.8L48.8 16.8L49.4 17.7L49.6 18.1L50.3 18.7L50 19.6L49.8 20.6L49.9 21.6L50.4 22.4L50.5 22.5L50.4 22.7L49.6 22.7L48.8 22.6L47.9 22.7L47.1 23L46.3 23.5L46.2 23.5L45.4 24.3L45.2 24.4L44.8 25.4L45.3 26.4L45.4 27.3L44.6 28.3L44.6 28.3L43.8 29.2L43.8 29.3L43.3 30.2L42.9 30.6L42.2 31.1L42.1 31.2L41.2 31.3L40.4 31.3L39.6 31.8L39.4 32.1L39 33.1L38.8 33.9L38.7 34L37.9 34.5L37.1 34.3L36.5 35L36.2 35.4L36 35.9L35.4 36.4L34.6 36.9L34.6 36.9L34.2 37.9L34.3 38.8L34.5 39.8L34.5 40.7L34.6 41.7L34.6 41.7L34.9 42.6L35.4 43.6L35.4 43.7L35.7 44.6L36.2 45.5L37 45.5L37.1 45.5L37.1 45.5L37.9 45.5L38.1 45.5L38.8 45.9L39.6 46L40.4 46.2L40.6 46.5L40.4 47L39.9 47.4L39.6 47.6L38.8 47.7L37.9 47.4L37.9 47.4L37.1 46.8L36.2 47.1L36.1 47.4L35.4 48.4L35.4 48.4L34.8 49.4L34.6 50.2L34.5 50.3L34.5 51.3L34.4 52.2L33.9 53.2L33.8 53.3L32.9 54.1L32.3 54.1L32.1 54.2L31.8 54.1L31.2 54.1L31.1 54.1L30.4 54.7L30.1 55.1L29.6 55.4L28.8 56L28.6 56.1L27.9 56.4L27.1 56.7L26.2 57L26.1 57L25.4 57.4L24.9 58L24.6 58.6L24.4 58.9L24 59.9L23.8 60.4L23.1 60.9L22.9 61L22.4 61.8L22.2 62.8L22.3 63.7L22.8 64.7L22.9 64.8L23.8 65.6L23.8 65.6L23.8 65.9L23.6 66.6L23.3 67.6L23.1 68.5L22.9 69.1L22.6 69.5L22.1 70L21.3 70.4L21.2 70.5L20.4 71.4L20.4 71.4L19.9 72.4L20.4 73L21.2 73.2L22.1 73L22.9 73.1L23.1 73.3L23.8 73.7L24.6 74L25.4 74L26.1 74.3L26.2 74.4L27.1 75L27.9 75.2L28.2 75.2L28.8 75.3L29.6 75.7L30.4 76.1L31.2 76.1L32.1 76L32.9 76L33.8 76L34.6 76L35.4 75.9L36.2 75.7L37.1 75.5L37.9 75.5L38.8 75.7L39.5 76.2L39.6 76.3L40.4 76.9L41.1 77.1L40.4 78L40.4 78.1L40.2 79.1L40 80L39.6 80.9L39.5 81L39.3 81.9L39.6 82.7L39.7 82.9L40 83.9L40 84.8L39.9 85.8L39.6 86.6L39.5 86.7L39.3 87.7L39.1 88.6L38.8 89.5L38.6 89.6L38 90.6L38.8 91.2L39.1 91.5L39.6 91.8L40.3 92.5L40.4 92.6L40.8 93.4L40.5 94.4L40.4 94.5L40.1 95.4L40 96.3L40.4 97.3L40.4 97.4L40.7 98.2L40.4 98.7L39.9 99.2L39.6 99.4L39.1 100.1L39.5 101.1L39.6 101.2L40.4 101.4L41.2 101.1L41.2 100.4L41.3 100.1L42.1 99.4L42.4 100.1L42.1 100.7L41.4 101.1L41.2 101.2L41 102.1L40.9 103L40.4 103L39.6 103L38.8 103L37.9 103L37.1 103L36.2 103L35.4 103L34.6 103L33.8 103L32.9 103L32.1 103L31.2 103L30.4 103L29.6 103L28.8 103L27.9 103L27.1 103L26.2 103L25.4 103L24.6 103L23.8 103L22.9 103L22.1 103L21.2 103L20.4 103L19.6 103L18.8 103L17.9 103L17.1 103L16.2 103L15.4 103L14.6 103L13.8 103L12.9 103L12.1 103L11.2 103L10.4 103L9.6 103L8.8 103L7.9 103L7.1 103L6.2 103L5.4 103L4.6 103L3.8 103L2.9 103L2.1 103L1.2 103L0.4 103L-0.4 103L-1.2 103L-2.1 103L-2.9 103L-3.8 103L-4.6 103L-5.4 103L-6.2 103L-7.1 103L-7.9 103L-8.8 103L-9.6 103L-9.6 102.1L-9.6 101.1L-9.6 100.1L-9.6 99.2L-9.6 98.2L-9.6 97.3L-9.6 96.3L-9.6 95.4L-9.6 94.4L-9.6 93.4L-9.6 92.5L-9.6 91.5L-9.6 90.6L-9.6 89.6L-9.6 88.6L-9.6 87.7L-9.6 86.7L-9.6 85.8L-9.6 84.8L-9.6 83.9L-9.6 82.9L-9.6 81.9L-9.6 81L-9.6 80L-9.6 79.1L-9.6 78.1L-9.6 77.1L-9.6 76.2L-9.6 75.2L-9.6 74.3L-9.6 73.3L-9.6 72.4L-9.6 71.4L-9.6 70.4L-9.6 69.5L-9.6 68.5L-9.6 67.6L-9.6 66.6L-9.6 65.6L-9.6 64.7L-9.6 63.7L-9.6 62.8L-9.6 61.8L-9.6 60.9L-9.6 59.9L-9.6 59.2L-8.8 59.2L-7.9 58.9L-7.9 58.9L-7.1 58.2L-6.8 58L-6.2 57.6L-5.4 57.4L-4.6 57.4L-3.8 57.4L-2.9 57L-2.9 57L-2.1 56.1L-2.1 56.1L-1.2 55.7L-0.4 55.8L-0.1 56.1L0.4 56.7L0.7 57L1.2 57.6L2.1 57.7L2.9 57.4L3.4 57L3.8 56.7L4.6 56.6L5.4 56.4L5.7 56.1L6.2 55.3L6.4 55.1L6.5 54.1L6.2 53.5L6.1 53.2L5.7 52.2L6.2 51.5L7.1 51.3L7.9 51.5L8.8 52L9.1 52.2L9.6 52.5L10.4 53.2L10.4 53.3L10.9 54.1L11.2 55.1L11.3 55.1L11.3 56.1L11.2 56.1L10.6 57L10.4 57.4L10.1 58L9.6 58.9L9.6 59L9.3 59.9L9.6 60.7L9.7 60.9L10.4 61.5L10.7 61.8L11.2 62.5L11.5 62.8L12.1 63.3L12.9 63.4L13.8 63.2L14.6 62.8L14.6 62.7L14.6 61.8L14.6 60.9L14.8 59.9L15 58.9L15.2 58L15.1 57L14.7 56.1L14.6 55.3L14.5 55.1L14.6 55L14.7 54.1L14.8 53.2L14.8 52.2L15.4 51.3L15.4 51.2L15.7 50.3L15.8 49.4L15.6 48.4L15.4 47.9L15.2 47.4L15 46.5L14.6 45.9L13.8 45.6L12.9 45.9L12.3 46.5L12.1 46.9L11.7 47.4L11.2 48L10.4 48.2L9.6 47.6L9.4 47.4L8.8 47.1L7.9 46.8L7.4 46.5L7.1 46.3L6.2 46.1L5.4 46.3L5.3 46.5L4.6 46.9L3.8 47L2.9 46.8L2.1 46.8L1.2 47.1L0.4 47L-0 46.5L-0.4 46.2L-1.2 45.9L-2.1 46L-2.7 46.5L-2.9 47.1L-3.2 47.4L-3.8 47.7L-4.2 47.4L-4.6 46.7L-4.7 46.5L-5.4 45.7L-5.7 45.5L-6.2 45.2L-7.1 45L-7.9 45.3L-8.8 45.5L-9.1 45.5L-9.6 45.6L-9.6 45.5L-9.6 44.6L-9.6 43.6L-9.6 42.6L-9.6 41.7L-9.6 40.7L-9.6 39.8L-9.6 38.8L-9.6 37.9L-9.6 36.9L-9.6 35.9L-9.6 35L-9.6 34L-9.6 33.1L-9.6 32.1L-9.6 31.1L-9.6 30.2L-9.6 29.2L-9.6 28.3L-9.6 27.3L-9.6 26.4L-9.6 25.4L-9.6 24.4L-9.6 23.5L-9.6 22.5L-9.6 21.6L-9.6 20.6L-9.6 19.6L-9.6 18.7L-9.6 17.7L-9.6 16.8L-9.6 15.8L-9.6 14.9L-9.6 13.9L-9.6 12.9L-9.6 12.1L-9.3 12L-8.8 11.9L-7.9 11.6L-7.1 11.4L-6.2 11.4L-5.4 11.5L-4.6 11.7L-3.8 12L-3.7 12L-2.9 12.8L-2.1 12.6L-1.2 12L-1.2 12L-0.4 11.6L0.4 11.6L0.8 12L1.2 12.4L1.8 12.9L2.1 13.1L2.9 13.8L3 13.9L3.4 14.9L3.6 15.8L3.5 16.8L3.4 17.7L3.8 18.5L3.8 18.7L4.2 19.6L4.4 20.6L4.4 21.6L4.6 21.9L5.1 22.5L5.4 22.8L6.2 23.3L6.5 23.5L7.1 24L7.9 24.3L8.8 24.1L9.6 23.6L10.4 23.5L11.2 24L12.1 24.4L12.9 24.2L13.8 23.8L14.4 23.5L14.6 23.4L15.4 23.3L16.2 23.4L16.4 23.5L17.1 23.8L17.9 24.3L18.3 24.4L18.8 24.7L19.3 24.4L19.6 24.4L20.4 23.9L21 23.5L21.2 23.1L21.7 22.5L22.1 22.1L22.9 22.1L23.8 22.2L24.6 22.1L25.1 21.6L25.4 20.9L25.6 20.6L25.9 19.6L26 18.7L26.2 18L26.5 17.7L27.1 17.6L27.9 17.1L28.6 16.8L28.8 16.6L29.6 16.1L29.9 15.8L30 14.9L30 13.9L30.4 13.3L31.2 13L31.7 12.9L32.1 12.9L32.9 12.5L33.4 12L33.8 11.6L34.6 11.1L34.9 12L35.3 12.9L35.4 13.3L35.7 13.9L36.2 14.9L36.2 14.9L36.9 15.8L37.1 15.9L37.9 16.5L38.3 16.8L38.8 17.2L39.4 17.7L39.6 18L40.4 18.1L41.2 18L42.1 18.1L42.9 18L43.8 17.8L43.8 17.7L44.6 17.5L45.4 17L45.8 16.8L46.2 15.8L46.2 14.9L46.2 14.7L46.4 13.9L46.9 12.9L47.1 12.5L47.8 12L47.9 11.9L48.8 11.7L49.6 11.4L50.4 12L50.4 12L51.2 12.2L51.6 12L52.1 11.8L52.9 11.1ZM84 12L84.6 11.6L85.4 11.7L85.5 12L85.4 12.4L85.3 12.9L84.6 13.4L83.8 13.2L83.6 12.9L83.8 12.4ZM78.7 22.5L78.8 22.5L79.6 22.4L79.7 22.5L80.4 23.3L80.5 23.5L80.9 24.4L81 25.4L81.2 25.7L81.7 26.4L82.1 26.6L82.9 27.3L83 27.3L83.5 28.3L83.8 28.7L84 29.2L84.6 29.9L84.7 30.2L85 31.1L84.9 32.1L84.7 33.1L84.6 33.2L83.8 34L83.8 34.1L83.4 35L82.9 35.4L82.1 35.5L81.6 35.9L81.2 36.8L81.2 36.9L81.2 37L81.5 37.9L82.1 38.5L82.5 38.8L82.9 39.2L83.3 39.8L83.8 40.1L84.6 40.2L85.4 40.3L86.2 40.4L87.1 40.7L87.2 40.7L87.8 41.7L87.9 42.4L88.8 42.1L89.1 41.7L89.6 41.2L90.1 40.7L90.4 40.3L91.2 39.8L91.3 39.8L92.1 39.7L92.9 39.7L93.3 39.8L93.8 39.9L94 39.8L94.6 38.9L94.6 38.8L95.4 37.9L96.2 37.9L97.1 38.5L97.3 38.8L97.9 39.3L98.8 39.7L99 39.8L99.6 40L99.6 40.7L99.6 41.7L99.6 42.6L99.6 43.6L99.6 44.6L99.6 45.5L99.6 45.6L99.2 45.5L98.8 45.4L98 45.5L97.9 45.5L97.1 45.9L96.2 46.3L95.4 46.3L94.6 46.1L93.8 46.1L92.9 46.2L92.1 46L91.2 46L90.4 46.2L89.8 46.5L89.6 46.6L88.8 46.6L88.6 46.5L87.9 46L87.2 45.5L87.1 45.4L86.9 45.5L86.2 45.8L85.4 46.2L84.6 46.3L83.8 46.2L82.9 46.2L82.1 46L81.2 45.7L80.4 45.8L80.1 46.5L79.6 47.4L79.6 47.5L78.8 47.6L78.2 47.4L77.9 47.3L77.3 46.5L77.1 45.5L77.1 45.5L76.2 45.2L75.4 45L74.6 44.7L74.5 44.6L74 43.6L73.8 42.6L73.8 42.5L73.4 41.7L73.1 40.7L73 39.8L72.9 39.7L72.1 39.3L71.5 39.8L71.5 40.7L71.3 41.7L71.2 41.8L70.5 42.6L70.4 42.7L70.4 42.6L69.6 41.9L69.5 41.7L68.8 40.7L68.7 40.7L67.9 40.1L67.2 39.8L67.1 39.7L66.2 39.4L65.4 39.2L64.9 38.8L64.6 38L64.5 37.9L64.6 37.5L65.1 36.9L65.4 36.8L66.2 36.8L67.1 36.2L67.3 35.9L67.7 35L67.9 34.7L68.6 34L68.8 33.8L69 33.1L69.3 32.1L69.6 31.4L69.7 31.1L70.1 30.2L70 29.2L69.6 28.4L69.5 28.3L69.4 27.3L69.4 26.4L69.6 25.9L69.9 25.4L70.3 24.4L70.4 23.6L70.5 23.5L71.2 23.2L72.1 23.2L72.9 22.8L73.8 22.7L74.6 22.9L75.4 23.3L75.6 23.5L76.2 24.1L76.7 24.4L77.1 24.7L77.9 24.7L78.2 24.4L78.4 23.5ZM79.6 39L78.9 39.8L79.5 40.7L79.6 40.7L79.6 40.7L80.4 40.4L80.9 39.8L80.4 38.8ZM92.9 33.1L92.9 32.9L93 33.1L92.9 33.1ZM53 40.7L53.8 39.8L54.6 40.1L55 40.7L55.2 41.7L54.9 42.6L54.9 43.6L55.3 44.6L55.4 44.9L55.7 45.5L56.2 46.3L57.1 46.2L57.9 46.2L58.4 46.5L58.8 46.8L59.3 47.4L59.6 48.1L59.7 48.4L60.1 49.4L60.4 50.1L60.5 50.3L60.4 50.6L60.2 51.3L59.7 52.2L59.6 52.4L59.3 53.2L58.9 54.1L58.9 55.1L58.8 56.1L58.8 56.1L57.9 56.8L57.8 57L57.1 57.7L56.3 57.9L55.4 57.8L54.6 57.8L54.3 58L54.3 58.9L54.4 59.9L54.3 60.9L54 61.8L53.8 62.2L52.9 62.5L52.1 62.3L51.2 61.9L51.1 61.8L50.4 61.3L50.1 60.9L49.9 59.9L49.7 58.9L49.6 58.8L48.8 58.4L48 58L47.9 57.9L47.1 57.3L46.4 57L46.2 57L45.4 56.4L45.3 56.1L45.1 55.1L45.2 54.1L45.4 53.4L45.5 53.2L45.8 52.2L46.2 51.3L46 50.3L45.4 49.8L44.7 49.4L44.6 49L44.4 48.4L44.6 48.1L45.3 47.4L45.4 47.4L46.2 47L47 46.5L47.1 46.4L47.9 46.1L48.8 46.1L49.3 45.5L49.6 45.2L49.9 44.6L49.8 43.6L49.6 43.1L49.4 42.6L49.6 41.9L49.8 41.7L50.4 41.6L51.2 41.5L52.1 41.4L52.9 40.8ZM-9.6 51.3L-9.6 50.8L-8.8 51L-8.4 51.3L-7.9 52.1L-7.8 52.2L-7.9 52.6L-8.1 53.2L-8.8 54L-9 54.1L-9 55.1L-8.9 56.1L-9.6 56.4L-9.6 56.1L-9.6 55.1L-9.6 54.1L-9.6 53.2L-9.6 52.2ZM65.8 61.8L66.2 61.5L67.1 61.8L67.1 61.8L67.2 62.8L67.1 63.5L67 63.7L67.1 63.9L67.9 64.7L67.9 64.7L67.9 64.7L68.8 63.9L68.9 63.7L69.4 62.8L69.6 62.5L70.4 62.1L71.1 62.8L71.2 62.8L72.1 63.7L72.1 63.7L72.9 64.1L73.8 64.4L74.4 63.7L74.6 63.4L75.4 63.4L75.7 63.7L76.2 64.6L76.3 64.7L76.2 65L76.1 65.6L75.4 66.2L74.6 66L73.8 66.1L73.6 66.6L73.8 66.9L74.3 67.6L74.6 68.1L74.7 68.5L74.6 69.5L74.6 70.4L74.9 71.4L75.4 72.1L75.8 72.4L76.2 72.9L76.6 73.3L77.1 74L77.4 74.3L77.9 74.6L78.8 74.8L79.6 74.8L80.4 74.8L81.2 74.8L82.1 74.7L82.9 74.4L83.8 74.4L84.6 74.5L85 74.3L85.4 73.9L85.7 73.3L86.2 72.6L87.1 72.5L87.9 73L88.2 73.3L88.5 74.3L88.8 74.8L89.5 75.2L89.6 75.3L89.7 75.2L90.4 75L91.2 74.7L92.1 74.7L92.9 74.7L93.8 74.3L93.8 74.3L94.6 73.6L95.4 73.6L96.1 74.3L96.2 74.4L97 75.2L97.1 75.4L97.9 76L98.8 76.1L99.6 76L99.6 76.2L99.6 77.1L99.6 78.1L99.6 79.1L99.6 80L99.6 81L99.6 81.9L99.6 82.9L99.6 83.9L99.6 84.8L99.6 85.8L99.6 86.7L99.6 87.7L99.6 88.6L99.6 89.6L99.6 90.6L99.6 91.5L99.6 92.5L99.6 93.4L99.6 94.4L99.6 95.4L99.6 96.3L99.6 97.3L99.6 98.2L99.6 99.2L99.6 100.1L99.6 101.1L99.6 102.1L99.6 103L98.8 103L97.9 103L97.1 103L96.2 103L95.4 103L94.6 103L93.8 103L92.9 103L92.1 103L91.2 103L90.4 103L89.6 103L88.8 103L87.9 103L87.1 103L86.2 103L85.4 103L84.6 103L83.8 103L82.9 103L82.1 103L81.2 103L80.4 103L79.6 103L78.8 103L77.9 103L77.1 103L76.2 103L75.4 103L74.6 103L73.8 103L72.9 103L72.1 103L71.2 103L70.4 103L69.6 103L68.8 103L67.9 103L67.1 103L66.2 103L65.4 103L64.7 103L64.6 102.1L64.6 101.9L64.4 101.1L64.4 100.1L64.4 99.2L64.3 98.2L64.4 97.3L64.6 96.9L64.8 96.3L65 95.4L65.1 94.4L65.3 93.4L65.4 92.9L65.6 92.5L65.9 91.5L65.8 90.6L65.6 89.6L65.5 88.6L65.4 88.3L65 87.7L64.6 86.7L64.6 85.8L64.6 84.9L64.6 84.8L64.5 83.9L64.2 82.9L63.8 82.3L63.6 81.9L63.6 81L63.8 80.8L64.6 80.6L65.4 80.6L66.2 80.4L67.1 80.4L67.9 80.5L68.8 80.2L69.4 80L69.6 80L70.4 79.8L70.9 80L71.2 80.3L72.1 80.9L72.9 80.8L73.8 80.6L74.6 80.2L74.7 80L75 79.1L74.9 78.1L74.7 77.1L74.6 76.2L74.6 76.2L74.2 75.2L73.8 74.7L72.9 74.6L72.1 74.8L71.2 74.8L70.4 74.6L69.6 74.9L69.2 75.2L68.8 75.8L68.2 76.2L67.9 76.4L67.1 76.4L67 76.2L66.3 75.2L66.2 75.2L65.4 74.8L64.6 74.9L63.8 75L62.9 74.9L62.1 74.6L61.5 74.3L61.2 74.1L60.4 73.9L59.6 73.9L58.8 73.5L58.7 73.3L58.6 72.4L58.8 71.7L58.9 71.4L59.5 70.4L59.6 70.4L60 69.5L60.2 68.5L60.3 67.6L60.4 67.3L60.8 66.6L61.2 65.7L61.4 65.6L62.1 64.8L62.9 64.9L63.1 64.7L63.8 64.2L64.1 63.7L64.6 63.1L65 62.8L65.4 62.2ZM72.9 82.7L72.7 82.9L72.9 83.5L73.3 82.9ZM61 63.7L61.2 63.3L61.7 63.7L61.2 64.6ZM86.1 66.6L86.2 66.5L86.5 66.6L86.8 67.6L86.2 68.4L86 67.6Z" fill="#1fa088" fill-rule="evenodd"/>
<path d="M35.1 21.6L35.4 21.2L36.2 21L37.1 21.4L37.2 21.6L37.9 22.4L38 22.5L38.4 23.5L37.9 24.1L37.1 24.4L36.4 24.4L36.2 24.5L35.4 24.9L35.2 25.4L35.4 25.9L35.6 26.4L36.2 27.1L36.3 27.3L36.6 28.3L36.4 29.2L36.2 29.4L35.4 29.6L34.6 29.3L33.9 29.2L33.8 29.2L32.9 29.2L32.1 29.1L31.2 29.1L30.4 29.1L29.6 28.8L28.8 28.4L27.9 28.7L27.1 29.1L26.2 29L25.4 28.4L25.2 28.3L24.6 27.7L24.2 27.3L24.3 26.4L24.6 26L25.2 25.4L25.4 25.3L26 24.4L26.2 24.2L26.9 23.5L27.1 23.3L27.9 23L28.8 22.7L29.6 22.5L29.7 22.5L30.4 22.4L31.2 22.4L32.1 22.4L32.5 22.5L32.9 22.6L33.8 22.9L34.6 22.8L34.7 22.5ZM15.1 27.3L15.4 27.3L15.5 27.3L15.9 28.3L16.1 29.2L16.2 29.9L16.4 30.2L17.1 30.7L17.9 30.5L18.6 30.2L18.8 30.1L19.6 29.5L20.1 29.2L20.4 29L21.2 29L21.6 29.2L22.1 29.4L22.9 29.6L23.8 29.7L24.6 30.1L24.7 30.2L25.3 31.1L25 32.1L24.6 32.7L24.2 33.1L23.8 33.4L22.9 33.6L22.1 34L22.1 34L21.2 34.8L21 35L20.4 35.3L19.7 35L19.6 34.9L18.8 34L18.7 34L17.9 34L17.8 34L17.1 34.5L16.7 35L16.2 35.4L15.9 35.9L15.7 36.9L15.5 37.9L15.4 38.6L15.4 38.8L14.8 39.8L14.6 39.9L13.8 40L12.9 40L12.2 39.8L12.1 39.7L11.2 39.2L10.8 39.8L10.8 40.7L10.4 41.4L9.6 41.4L8.8 41.1L7.9 41.2L7.4 41.7L7.6 42.6L7.9 43.2L8.1 43.6L7.9 44.1L7.1 44.1L6.5 43.6L6.2 43.2L5.9 42.6L5.4 42.2L5.1 41.7L4.6 41L4.4 40.7L4.5 39.8L4.6 39.7L5.4 39.3L6.1 38.8L6 37.9L5.4 37L5.4 36.9L5 35.9L5.3 35L5.4 34L4.7 33.1L4.6 32.8L3.8 32.1L3.8 31.8L3.4 31.1L3.8 31L4.6 30.9L5.4 30.6L6.2 30.2L6.2 30.2L7.1 30L7.9 29.9L8.4 29.2L8.8 28.8L9.3 28.3L9.6 28.1L10.4 27.9L11.2 28.3L11.2 28.3L12 29.2L12.1 29.4L12.9 29.4L13 29.2L13.8 28.4L13.9 28.3L14.6 27.5ZM23.1 39.8L23.8 39.7L24.1 39.8L24.6 40L25.4 40.7L25.4 40.7L25.6 41.7L25.4 42.4L25.4 42.6L24.8 43.6L24.6 44.1L23.7 44.3L22.9 43.9L22.5 43.6L22.1 42.6L22.1 41.7L22.2 40.7L22.9 39.8ZM19.3 42.6L19.6 42.4L20.4 42.5L20.7 42.6L21.2 43.2L21.8 43.6L21.9 44.6L22.1 45L22.9 45.2L23.2 45.5L23.8 46.1L23.9 46.5L24.1 47.4L24.5 48.4L24.6 48.9L24.7 49.4L24.6 49.6L24.2 50.3L23.8 50.8L23.1 51.3L22.9 51.6L22.3 51.3L22.1 51.2L21.2 50.6L20.4 50.4L20.2 50.3L19.6 50.1L18.8 49.6L18.5 49.4L18.5 48.4L18.8 47.6L18.8 47.4L19.3 46.5L19.2 45.5L18.8 44.6L18.8 43.6ZM6.9 63.7L7.1 63.6L7.9 63.5L8.5 63.7L8.8 63.8L9.5 64.7L9.6 64.8L10.1 65.6L10.4 66L10.9 66.6L11.1 67.6L10.5 68.5L10.4 68.9L10.1 69.5L10.4 69.7L11.2 69.9L12.1 69.7L12.7 69.5L12.9 69.4L13.8 69.5L13.9 69.5L14.6 69.5L15.4 69.9L15.7 70.4L15.8 71.4L15.9 72.4L16.2 72.9L16.8 73.3L17.1 73.4L17.9 74L18.2 74.3L18.8 74.8L19.6 75.2L19.8 75.2L20.4 75.4L21.2 75.6L22.1 75.7L22.9 76.1L23.1 76.2L23.8 76.8L24.2 77.1L24.6 77.6L25.4 77.9L25.6 78.1L25.6 79.1L25.5 80L25.8 81L26.2 81.8L26.3 81.9L26.3 82.9L26.2 82.9L25.8 83.9L25.5 84.8L25.4 84.9L24.7 85.8L24.6 85.9L24.1 86.7L24.1 87.7L24.4 88.6L24.6 89.2L24.7 89.6L24.9 90.6L25.1 91.5L25.3 92.5L25.4 93.4L25.4 93.4L25.4 93.5L25 94.4L24.6 95.3L24.6 95.4L24.6 96.3L24.6 97L24.6 97.3L24.6 97.3L24.4 98.2L24.3 99.2L24.3 100.1L24.4 101.1L24.6 101.5L24.8 102.1L25.1 103L24.6 103L23.8 103L22.9 103L22.1 103L21.2 103L20.4 103L19.6 103L18.8 103L17.9 103L17.1 103L16.2 103L15.4 103L14.6 103L13.8 103L12.9 103L12.1 103L11.2 103L10.4 103L9.6 103L8.8 103L7.9 103L7.1 103L6.2 103L5.4 103L4.6 103L3.8 103L2.9 103L2.1 103L1.2 103L0.4 103L-0.4 103L-1.2 103L-2.1 103L-2.9 103L-3.8 103L-4.6 103L-5.4 103L-6.2 103L-7.1 103L-7.9 103L-8.8 103L-9.6 103L-9.6 102.1L-9.6 101.1L-9.6 100.1L-9.6 99.2L-9.6 98.2L-9.6 97.3L-9.6 96.3L-9.6 95.4L-9.6 94.4L-9.6 93.4L-9.6 92.5L-9.6 91.5L-9.6 90.6L-9.6 89.6L-9.6 88.6L-9.6 87.7L-9.6 86.7L-9.6 85.8L-9.6 84.8L-9.6 83.9L-9.6 82.9L-9.6 81.9L-9.6 81L-9.6 80L-9.6 79.1L-9.6 78.1L-9.6 77.1L-9.6 76.2L-9.6 75.2L-9.6 74.3L-9.6 73.3L-9.6 72.4L-9.6 71.4L-9.6 70.4L-9.6 69.5L-9.6 69.5L-8.8 69.5L-7.9 69.4L-7.1 69.1L-6.3 68.5L-6.2 68.5L-5.9 68.5L-5.4 68.5L-4.9 69.5L-4.6 69.9L-3.8 70.1L-3.2 69.5L-2.9 68.6L-2.8 68.5L-2.1 68.3L-1.6 68.5L-1.2 68.6L-0.4 68.9L0.3 69.5L0.4 69.6L1.2 70.2L2.1 70.1L2.9 69.8L3.5 69.5L3.8 69.2L4.2 68.5L4.6 67.7L4.7 67.6L4.9 66.6L5.2 65.6L5.4 65.3L5.9 64.7L6.2 64.3ZM-7.1 72.9L-7.6 73.3L-7.4 74.3L-7.1 74.4L-6.2 74.6L-5.4 74.6L-4.7 74.3L-5.2 73.3L-5.4 73.2L-6.2 72.9ZM78.5 80L78.8 79.6L79.1 80L79.4 81L79.6 81L80.4 81.5L81.2 81.9L81.6 81.9L82.1 82L82.2 81.9L82.9 81.3L83.2 81L83.8 80.2L84.5 80L84.6 80L84.7 80L85.4 80.1L86.2 80.2L87.1 80.3L87.9 80.4L88.8 80.5L89.6 80.3L90.4 80.4L91 81L91.2 81.3L92.1 81.8L92.9 81.6L93.8 81.4L94.6 81.4L95.4 81.2L96.1 81L96.2 80.8L97.1 80.2L97.9 80.6L98.8 80.6L99.6 80.4L99.6 81L99.6 81.9L99.6 82.9L99.6 83.9L99.6 84.8L99.6 85.8L99.6 86.7L99.6 87.7L99.6 88.6L99.6 89.6L99.6 90.6L99.6 91.5L99.6 92.5L99.6 93.4L99.6 94.4L99.6 95.4L99.6 96.3L99.6 97.3L99.6 98.2L99.6 99.2L99.6 100.1L99.6 101.1L99.6 102.1L99.6 103L98.8 103L97.9 103L97.1 103L96.2 103L95.4 103L94.6 103L93.8 103L92.9 103L92.1 103L91.2 103L90.4 103L89.6 103L88.8 103L87.9 103L87.1 103L86.2 103L85.4 103L84.6 103L83.8 103L82.9 103L82.1 103L81.4 103L81.2 102.9L80.4 102.6L79.6 102.6L79.4 103L78.8 103L77.9 103L77.1 103L76.2 103L75.9 103L75.4 102.2L75.3 102.1L74.7 101.1L74.7 100.1L74.9 99.2L74.9 98.2L74.9 97.3L75 96.3L75.1 95.4L75.1 94.4L75.3 93.4L75.4 92.5L75.4 92.3L75.4 91.5L75.5 90.6L75.9 89.6L76.2 88.9L76.4 88.6L76.7 87.7L77.1 87.1L77.3 86.7L77.9 85.8L77.9 85.7L78.7 84.8L78.8 84.8L79.4 83.9L79.3 82.9L78.9 81.9L78.8 81.4L78.6 81ZM69.3 102.1L69.6 101.5L69.8 102.1L69.6 102.5Z" fill="#3fbc73" fill-rule="evenodd"/>
<path d="M10.4 75.2L10.4 75.1L11.2 74.8L12.1 75L12.4 75.2L12.9 75.7L13.3 76.2L13.8 76.5L14.6 77L14.7 77.1L15.3 78.1L15.2 79.1L14.9 80L14.9 81L15.4 81.9L16.2 81.7L17.1 81.4L17.9 81.6L18.8 81.9L18.8 81.9L19.4 82.9L18.9 83.9L18.8 84L18.1 84.8L18.1 85.8L17.9 86.1L17.1 85.9L16.2 85.8L15.4 86.1L14.6 86.3L13.8 86.2L12.9 85.9L12.3 85.8L12.1 85.7L11.8 85.8L11.2 85.8L10.4 86.5L9.8 86.7L9.6 86.8L9.5 86.7L8.8 85.9L8.6 85.8L7.9 85.4L7.1 85L6.7 84.8L6.6 83.9L7.1 82.9L7.1 82.8L7.2 81.9L7.3 81L7.8 80L7.9 80L8.8 79.6L9.6 79.1L9.7 79.1L10.2 78.1L10.3 77.1L10.3 76.2ZM-9.6 83.9L-9.6 82.9L-8.8 83.3L-8.3 83.9L-8.4 84.8L-8.8 85.2L-9.6 85.6L-9.6 84.8ZM6.4 102.1L7.1 101.6L7.9 101.8L8.1 102.1L8.3 103L7.9 103L7.1 103L6.2 103L6 103L6.2 102.3ZM12.8 103L12.9 102.9L13.1 103L12.9 103Z" fill="#84d44b" fill-rule="evenodd"/></g>
<g id="m_hazd"><rect x="-1" y="-1" width="92" height="94" fill="#48186a"/>
<path d="M-9.6 -11L-8.8 -11L-7.9 -11L-7.1 -11L-6.2 -11L-5.4 -11L-4.6 -11L-3.8 -11L-2.9 -11L-2.1 -11L-1.2 -11L-0.4 -11L0.4 -11L1.2 -11L2.1 -11L2.8 -11L2.9 -10.8L3.8 -10.9L3.8 -11L4.6 -11L5.4 -11L6.2 -11L7.1 -11L7.9 -11L8.8 -11L9.6 -11L10.4 -11L11.2 -11L12.1 -11L12.9 -11L13.8 -11L14.6 -11L15.4 -11L16.2 -11L17.1 -11L17.9 -11L18.8 -11L19.6 -11L20.4 -11L21.2 -11L22.1 -11L22.9 -11L23.8 -11L24.6 -11L25.4 -11L26.2 -11L27.1 -11L27.9 -11L28.8 -11L29.6 -11L30.4 -11L31.2 -11L32.1 -11L32.9 -11L33.8 -11L34.6 -11L35.4 -11L36.2 -11L37.1 -11L37.9 -11L38.8 -11L39.6 -11L40.4 -11L41.2 -11L42.1 -11L42.9 -11L43.8 -11L44.6 -11L45.4 -11L46.2 -11L47.1 -11L47.9 -11L48.8 -11L49.6 -11L50.4 -11L51.2 -11L52.1 -11L52.9 -11L53.8 -11L54.6 -11L55.4 -11L56.2 -11L57.1 -11L57.9 -11L58.8 -11L59.6 -11L60.4 -11L61.2 -11L62.1 -11L62.9 -11L63.8 -11L64.6 -11L65.4 -11L66.2 -11L67.1 -11L67.9 -11L68.8 -11L69.6 -11L70.4 -11L71.2 -11L72.1 -11L72.9 -11L73.8 -11L74.6 -11L75.4 -11L76.2 -11L77.1 -11L77.9 -11L78.8 -11L79.6 -11L80.4 -11L81.2 -11L82.1 -11L82.6 -11L82.9 -10.5L83.2 -11L83.8 -11L84.6 -11L85.4 -11L86.2 -11L87.1 -11L87.9 -11L88.8 -11L89.6 -11L90.4 -11L91.2 -11L92.1 -11L92.9 -11L93.8 -11L94.6 -11L95.4 -11L96.2 -11L97.1 -11L97.9 -11L98.8 -11L99.6 -11L99.6 -10.1L99.6 -9.1L99.6 -8.1L99.6 -7.2L99.6 -6.2L99.6 -5.3L99.6 -4.3L99.6 -3.4L99.6 -2.4L99.6 -1.4L99.6 -0.5L99.6 0.5L99.6 1.4L99.6 2.4L99.6 3.4L99.6 4.3L99.6 5.3L99.6 6.2L99.6 7.2L99.6 8.1L99.6 9.1L99.6 10.1L99.6 11L99.6 12L99.6 12.9L99.6 13.9L99.6 14.9L99.6 15.8L99.6 16.8L99.6 17.7L99.6 18.7L99.6 19.6L99.6 20.6L99.6 21.6L99.6 22.5L99.6 23.5L99.6 24.4L99.6 25.4L99.6 26.4L99.6 27.3L99.6 28.3L99.6 29.2L99.6 30.2L99.6 31.1L99.6 32.1L99.6 33.1L99.6 34L99.6 35L99.6 35.9L99.6 36.9L99.6 37.9L99.6 38.8L99.6 39.8L99.6 40.7L99.6 41.7L99.6 42.6L99.6 43.6L99.6 44.6L99.6 45.5L99.6 46.5L99.6 47.4L99.6 48.4L99.6 49.4L99.6 50.3L99.6 51.3L99.6 52.2L99.6 53.2L99.6 54.1L99.6 55.1L99.6 56.1L99.6 57L99.6 58L99.6 58.9L99.6 59.9L99.6 60.9L99.6 61.8L99.6 62.8L99.6 63.7L99.6 64.7L99.6 65.6L99.6 66.6L99.6 67.6L99.6 68.5L99.6 69.5L99.6 70.4L99.6 71.4L99.6 72.4L99.6 73.3L99.6 74.3L99.6 75.2L99.6 76.2L99.6 77.1L99.6 78.1L99.6 79.1L99.6 80L99.6 81L99.6 81.9L99.6 82.9L99.6 83.9L99.6 84.8L99.6 85.8L99.6 86.7L99.6 87.7L99.6 88.6L99.6 89.6L99.6 90.6L99.6 91.5L99.6 92.5L99.6 93.4L99.6 94.4L99.6 95.4L99.6 96.3L99.6 97.3L99.6 98.2L99.6 99.2L99.6 100.1L99.6 101.1L99.6 102.1L99.6 103L98.8 103L97.9 103L97.1 103L96.2 103L95.4 103L94.6 103L93.8 103L92.9 103L92.1 103L91.2 103L90.4 103L89.6 103L88.8 103L87.9 103L87.1 103L86.2 103L85.4 103L84.6 103L83.8 103L82.9 103L82.1 103L81.2 103L80.4 103L79.6 103L78.8 103L77.9 103L77.1 103L76.2 103L75.4 103L74.6 103L73.8 103L72.9 103L72.1 103L71.2 103L70.4 103L69.6 103L68.8 103L67.9 103L67.1 103L66.2 103L65.4 103L64.6 103L63.8 103L62.9 103L62.1 103L61.2 103L60.4 103L59.6 103L58.8 103L57.9 103L57.1 103L56.2 103L55.4 103L54.6 103L53.8 103L52.9 103L52.1 103L51.2 103L50.4 103L49.6 103L48.8 103L47.9 103L47.1 103L46.2 103L45.4 103L44.6 103L43.8 103L42.9 103L42.1 103L41.2 103L40.4 103L39.6 103L38.8 103L37.9 103L37.1 103L36.2 103L35.4 103L34.6 103L33.8 103L32.9 103L32.1 103L31.2 103L30.4 103L29.6 103L28.8 103L27.9 103L27.1 103L26.2 103L25.4 103L24.6 103L23.8 103L22.9 103L22.1 103L21.2 103L20.4 103L19.6 103L18.8 103L17.9 103L17.1 103L16.2 103L15.4 103L14.6 103L13.8 103L12.9 103L12.1 103L11.2 103L10.4 103L9.6 103L8.8 103L7.9 103L7.1 103L6.2 103L5.4 103L4.6 103L3.8 103L2.9 103L2.1 103L1.2 103L0.4 103L-0.4 103L-1.2 103L-2.1 103L-2.9 103L-3.8 103L-4.6 103L-5.4 103L-6.2 103L-7.1 103L-7.9 103L-8.8 103L-9.6 103L-9.6 102.1L-9.6 101.1L-9.6 100.1L-9.6 99.2L-9.6 98.2L-9.6 97.3L-9.6 96.3L-9.6 95.4L-9.6 94.4L-9.6 93.4L-9.6 92.5L-9.6 91.5L-9.6 90.6L-9.6 89.6L-9.6 88.6L-9.6 87.7L-9.6 86.7L-9.6 85.8L-9.6 84.8L-9.6 83.9L-9.6 82.9L-9.6 81.9L-9.6 81L-9.6 80L-9.6 79.1L-9.6 78.1L-9.6 77.1L-9.6 76.2L-9.6 75.2L-9.6 74.3L-9.6 73.3L-9.6 72.4L-9.6 71.4L-9.6 70.4L-9.6 69.5L-9.6 68.5L-9.6 67.6L-9.6 66.6L-9.6 65.6L-9.6 64.7L-9.6 63.7L-9.6 62.8L-9.6 61.8L-9.6 60.9L-9.6 59.9L-9.6 58.9L-9.6 58L-9.6 57L-9.6 56.1L-9.6 55.1L-9.6 54.1L-9.6 53.2L-9.6 52.2L-9.6 51.3L-9.6 50.3L-9.6 49.4L-9.6 48.4L-9.6 47.4L-9.6 46.5L-9.6 45.5L-9.6 44.6L-9.6 43.6L-9.6 42.6L-9.6 41.7L-9.6 40.7L-9.6 39.8L-9.6 38.8L-9.6 37.9L-9.6 36.9L-9.6 35.9L-9.6 35L-9.6 34L-9.6 33.1L-9.6 32.1L-9.6 31.1L-9.6 30.2L-9.6 29.2L-9.6 28.3L-9.6 27.3L-9.6 26.4L-9.6 25.4L-9.6 24.4L-9.6 23.5L-9.6 22.5L-9.6 21.6L-9.6 20.6L-9.6 19.6L-9.6 18.7L-9.6 17.7L-9.6 16.8L-9.6 15.8L-9.6 14.9L-9.6 13.9L-9.6 12.9L-9.6 12L-9.6 11L-9.6 10.1L-9.6 9.1L-9.6 8.1L-9.6 7.2L-9.6 6.2L-9.6 5.3L-9.6 4.3L-9.6 3.4L-9.6 2.4L-9.6 1.4L-9.6 0.5L-9.6 -0.5L-9.6 -1.4L-9.6 -2.4L-9.6 -3.4L-9.6 -4.3L-9.6 -5.3L-9.6 -6.2L-9.6 -7.2L-9.6 -8.1L-9.6 -9.1L-9.6 -10.1Z" fill="#424086" fill-rule="evenodd"/>
<path d="M25.3 -11L25.4 -11L26.2 -11L27.1 -11L27.9 -11L28.8 -11L29.5 -11L29.6 -10.8L29.8 -10.1L30.4 -9.2L30.4 -9.1L30.8 -8.1L31 -7.2L31.1 -6.2L30.9 -5.3L30.9 -4.3L31.1 -3.4L31.2 -2.9L31.4 -2.4L31.2 -1.9L31.1 -1.4L30.6 -0.5L30.5 0.5L30.4 1.1L30.3 1.4L29.6 2L28.9 2.4L28.9 3.4L29.6 4.2L29.7 4.3L30.4 4.7L31.2 4.7L32.1 4.5L32.5 4.3L32.9 3.7L33.1 3.4L33.8 2.7L34.5 2.4L34.6 2.4L35.2 1.4L34.8 0.5L34.6 0.2L34 -0.5L33.8 -0.9L33.6 -1.4L33.8 -1.9L33.9 -2.4L34.5 -3.4L34.6 -3.6L34.7 -4.3L34.6 -5.3L34.6 -5.5L34.3 -6.2L33.9 -7.2L33.9 -8.1L34.2 -9.1L34.3 -10.1L33.9 -11L34.6 -11L35.4 -11L36.2 -11L37.1 -11L37.9 -11L38.8 -11L39.6 -11L40.4 -11L41.2 -11L42.1 -11L42.9 -11L43.8 -11L44.6 -11L45.4 -11L46.2 -11L47.1 -11L47.9 -11L48.8 -11L49.6 -11L50.4 -11L51.2 -11L52.1 -11L52.9 -11L53.8 -11L54.6 -11L55.4 -11L56.2 -11L57.1 -11L57.9 -11L58.8 -11L59.6 -11L60.4 -11L61.2 -11L62.1 -11L62.9 -11L63.8 -11L64.6 -11L65.4 -11L66.2 -11L67.1 -11L67.9 -11L68.8 -11L69.6 -11L70.4 -11L71.2 -11L72.1 -11L72.9 -11L73.8 -11L74.6 -11L75.4 -11L76.2 -11L77.1 -11L77.9 -11L78.8 -11L79.6 -11L80.4 -11L81.1 -11L81 -10.1L81 -9.1L81.2 -8.1L81.2 -7.2L81.2 -6.2L81.2 -5.9L81.5 -5.3L81.8 -4.3L81.8 -3.4L81.5 -2.4L81.2 -1.5L81.2 -1.4L81.2 -1.4L81.4 -0.5L81.6 0.5L81.7 1.4L81.4 2.4L81.2 2.8L81.1 3.4L80.9 4.3L80.4 5.3L80.4 5.3L79.9 6.2L79.6 7.1L79.5 7.2L79.3 8.1L79.6 9.1L79.6 9.1L80 10.1L80.4 10.9L80.5 11L81.2 11.5L82.1 11.6L82.9 11L82.9 11L83.2 10.1L83.6 9.1L83.8 8.2L83.8 8.1L83.8 7.8L83.7 7.2L83.8 7L83.8 6.2L84.3 5.3L84.6 5L85.1 4.3L85.4 3.6L85.5 3.4L85.6 2.4L85.4 1.7L85.3 1.4L84.7 0.5L84.6 -0.2L84.5 -0.5L84.6 -0.8L84.9 -1.4L85.4 -2.1L85.6 -2.4L85.4 -2.9L85.2 -3.4L84.8 -4.3L85 -5.3L85.1 -6.2L85.2 -7.2L85.2 -8.1L85 -9.1L84.9 -10.1L84.9 -11L85.4 -11L86.2 -11L87.1 -11L87.9 -11L88.8 -11L89.6 -11L90.4 -11L91.2 -11L92.1 -11L92.9 -11L93.8 -11L94.6 -11L95.4 -11L96.2 -11L97.1 -11L97.9 -11L98.8 -11L99.6 -11L99.6 -10.1L99.6 -9.1L99.6 -8.1L99.6 -7.2L99.6 -6.2L99.6 -5.3L99.6 -4.3L99.6 -3.4L99.6 -2.4L99.6 -1.4L99.6 -0.5L99.6 0.5L99.6 1.4L99.6 2.4L99.6 3.4L99.6 4.3L99.6 5.3L99.6 6.2L99.6 7.2L99.6 8.1L99.6 9.1L99.6 10.1L99.6 11L99.6 12L99.6 12.9L99.6 13.9L99.6 14.9L99.6 15.8L99.6 16.8L99.6 17.7L99.6 18.7L99.6 19.6L99.6 20.6L99.6 21.6L99.6 22.5L99.6 23.5L99.6 24.4L99.6 25.4L99.6 26.4L99.6 27.3L99.6 28.3L99.6 29.2L99.6 30.2L99.6 31.1L99.6 32.1L99.6 33.1L99.6 34L99.6 35L99.6 35.9L99.6 36.9L99.6 37.9L99.6 38.8L99.6 39.8L99.6 40.7L99.6 41.7L99.6 42.6L99.6 43.6L99.6 44.6L99.6 45.5L99.6 46.5L99.6 47.4L99.6 48.4L99.6 49.4L99.6 50.3L99.6 51.3L99.6 52.2L99.6 53.2L99.6 54.1L99.6 55.1L99.6 56.1L99.6 57L99.6 58L99.6 58.9L99.6 59.9L99.6 60.9L99.6 61.8L99.6 62.8L99.6 63.7L99.6 64.7L99.6 65.6L99.6 66.6L99.6 67.6L99.6 68.5L99.6 69.5L99.6 70.4L99.6 71.4L99.6 72.4L99.6 73.3L99.6 74.3L99.6 75.2L99.6 76.2L99.6 77.1L99.6 78.1L99.6 79.1L99.6 80L99.6 81L99.6 81.9L99.6 82.9L99.6 83.9L99.6 84.8L99.6 85.8L99.6 86.7L99.6 87.7L99.6 88.6L99.6 89.6L99.6 90.6L99.6 91.5L99.6 92.5L99.6 93.4L99.6 94.4L99.6 95.4L99.6 96.3L99.6 97.3L99.6 98.2L99.6 99.2L99.6 100.1L99.6 101.1L99.6 102.1L99.6 103L98.8 103L97.9 103L97.1 103L96.2 103L95.4 103L94.6 103L93.8 103L92.9 103L92.1 103L91.2 103L90.4 103L89.6 103L88.8 103L87.9 103L87.1 103L86.2 103L85.4 103L84.6 103L83.8 103L82.9 103L82.1 103L81.2 103L80.4 103L79.6 103L78.8 103L77.9 103L77.1 103L76.2 103L75.4 103L74.6 103L73.8 103L72.9 103L72.1 103L71.2 103L70.4 103L69.6 103L68.8 103L67.9 103L67.1 103L66.2 103L65.4 103L64.6 103L63.8 103L62.9 103L62.1 103L61.2 103L60.4 103L59.6 103L58.8 103L57.9 103L57.1 103L56.2 103L55.4 103L54.6 103L53.8 103L52.9 103L52.1 103L51.2 103L50.4 103L49.6 103L48.8 103L47.9 103L47.1 103L46.2 103L45.4 103L44.6 103L43.8 103L42.9 103L42.1 103L41.2 103L40.4 103L39.6 103L38.8 103L37.9 103L37.1 103L36.2 103L35.4 103L34.6 103L33.8 103L32.9 103L32.1 103L31.2 103L30.4 103L29.6 103L28.8 103L27.9 103L27.1 103L26.2 103L25.4 103L24.6 103L23.8 103L22.9 103L22.1 103L21.2 103L20.4 103L19.6 103L18.8 103L17.9 103L17.1 103L16.2 103L15.4 103L14.6 103L13.8 103L12.9 103L12.1 103L11.2 103L10.4 103L9.6 103L8.8 103L7.9 103L7.1 103L6.2 103L5.4 103L4.6 103L3.8 103L2.9 103L2.1 103L1.2 103L0.4 103L-0.4 103L-1.2 103L-2.1 103L-2.9 103L-3.8 103L-4.6 103L-5.4 103L-6.2 103L-7.1 103L-7.9 103L-8.8 103L-9.6 103L-9.6 102.1L-9.6 101.1L-9.6 100.1L-9.6 99.2L-9.6 98.2L-9.6 97.3L-9.6 96.3L-9.6 95.4L-9.6 94.4L-9.6 93.4L-9.6 92.5L-9.6 91.5L-9.6 90.6L-9.6 89.6L-9.6 88.6L-9.6 87.7L-9.6 86.7L-9.6 85.8L-9.6 84.8L-9.6 83.9L-9.6 82.9L-9.6 81.9L-9.6 81L-9.6 80L-9.6 79.1L-9.6 78.1L-9.6 77.1L-9.6 76.2L-9.6 75.2L-9.6 74.3L-9.6 73.3L-9.6 72.4L-9.6 71.4L-9.6 70.4L-9.6 69.5L-9.6 68.5L-9.6 67.6L-9.6 66.6L-9.6 65.6L-9.6 64.7L-9.6 63.7L-9.6 62.8L-9.6 61.8L-9.6 60.9L-9.6 59.9L-9.6 58.9L-9.6 58L-9.6 57L-9.6 56.1L-9.6 55.1L-9.6 54.1L-9.6 53.2L-9.6 52.2L-9.6 51.3L-9.6 50.3L-9.6 49.4L-9.6 48.4L-9.6 47.4L-9.6 46.5L-9.6 45.5L-9.6 44.6L-9.6 43.6L-9.6 42.6L-9.6 41.7L-9.6 40.7L-9.6 39.8L-9.6 38.8L-9.6 37.9L-9.6 36.9L-9.6 35.9L-9.6 35L-9.6 34L-9.6 33.1L-9.6 32.1L-9.6 31.1L-9.6 30.2L-9.6 29.2L-9.6 28.3L-9.6 27.3L-9.6 26.4L-9.6 25.4L-9.6 24.4L-9.6 23.5L-9.6 22.5L-9.6 21.6L-9.6 20.6L-9.6 19.6L-9.6 18.7L-9.6 17.7L-9.6 16.8L-9.6 15.8L-9.6 14.9L-9.6 13.9L-9.6 12.9L-9.6 12L-9.6 11L-9.6 10.1L-9.6 9.1L-9.6 8.1L-9.6 7.2L-9.6 6.2L-9.6 5.3L-9.6 4.3L-9.6 3.9L-8.8 3.8L-7.9 3.5L-7.1 3.6L-6.2 4L-5.7 4.3L-5.4 4.5L-4.6 4.6L-3.8 4.8L-2.9 5.1L-2.1 5.3L-2.1 5.3L-2.1 5.3L-1.2 5.1L-0.4 4.9L0.4 5L1.2 4.9L2 4.3L2.1 4.2L2.9 3.8L3.8 4L4 4.3L4.6 4.9L5.4 5.2L6.2 5L7.1 4.8L7.9 4.7L8.8 4.6L9.6 4.4L10.4 4.4L11.2 4.4L12.1 4.5L12.9 4.8L13.8 4.8L14.6 4.6L15.4 4.4L16.2 4.4L17.1 4.4L17.9 4.4L18.8 4.6L19.6 4.7L20.4 4.7L21.2 4.6L22.1 4.5L22.9 4.4L23.8 4.3L23.8 4.3L24.6 3.6L24.7 3.4L25.1 2.4L25.3 1.4L25.4 0.5L25.4 -0.5L25.1 -1.4L24.9 -2.4L24.9 -3.4L25.2 -4.3L25.4 -5.2L25.4 -5.3L25.4 -6.2L25.4 -6.4L24.7 -7.2L24.6 -7.3L24 -8.1L24.4 -9.1L24.6 -9.3L25.1 -10.1Z" fill="#33638d" fill-rule="evenodd"/>
<path d="M55.6 -11L56.2 -11L57.1 -11L57.9 -11L58.8 -11L59.6 -11L60.4 -11L61.2 -11L62.1 -11L62.9 -11L63.8 -11L64.6 -11L65.2 -11L65 -10.1L64.8 -9.1L64.9 -8.1L65.1 -7.2L65.4 -6.4L65.6 -6.2L65.6 -5.3L65.5 -4.3L65.5 -3.4L65.6 -2.4L65.4 -1.5L65.4 -1.4L65 -0.5L64.8 0.5L64.8 1.4L65.4 2.1L65.6 2.4L66 3.4L66.2 4L66.4 4.3L66.8 5.3L67.1 6.2L67.1 6.3L67.1 6.2L67.9 5.9L68.1 5.3L68.8 4.4L68.8 4.3L69.3 3.4L69.6 2.6L69.7 2.4L69.8 1.4L69.9 0.5L70.1 -0.5L70.2 -1.4L70.4 -1.9L70.7 -2.4L71.2 -3.2L71.5 -3.4L72.1 -3.9L72.2 -4.3L72.3 -5.3L72.1 -6L72 -6.2L71.6 -7.2L71.2 -7.9L70.4 -8.1L70.2 -8.1L70.4 -8.4L70.7 -9.1L71.2 -10.1L71.1 -11L71.2 -11L72.1 -11L72.9 -11L73.8 -11L74.6 -11L75.4 -11L76.2 -11L77.1 -11L77.9 -11L78.8 -11L79.6 -11L79.7 -11L79.6 -10.2L79.5 -10.1L79.2 -9.1L78.8 -8.5L78 -8.1L78 -7.2L78.6 -6.2L78.8 -6L79.2 -5.3L79.2 -4.3L79.1 -3.4L79 -2.4L78.8 -1.4L78.8 -1.2L78.4 -0.5L78.3 0.5L78.4 1.4L78.7 2.4L78.8 2.5L79.1 3.4L79.1 4.3L78.8 5.1L78.5 5.3L77.9 5.7L77.3 5.3L77.1 5.1L76.2 4.6L75.6 5.3L75.4 5.8L75.3 6.2L75 7.2L74.6 8.1L74.5 8.1L74.3 9.1L74.1 10.1L73.8 10.4L72.9 10.2L72.1 10.4L71.7 11L71.5 12L71.4 12.9L71.2 13.5L71 13.9L70.4 14.4L69.9 14.9L69.6 15.8L70.1 16.8L70.4 17L71.2 17.1L72.1 17L72.9 16.9L73.3 16.8L73.8 16.6L74.5 15.8L74.6 15.7L74.9 14.9L75.1 13.9L75.4 13.5L76.2 13.2L76.9 12.9L77.1 12.9L77.9 12.8L78.3 12.9L78.8 13.2L79.5 13.9L79.6 14L80.4 14.9L80.4 14.9L80.7 15.8L80.8 16.8L80.8 17.7L80.5 18.7L80.4 18.8L79.9 19.6L79.7 20.6L80.2 21.6L80.4 21.8L81.2 22.5L81.2 22.6L82.1 22.8L82.9 23.3L83.2 23.5L83.8 23.8L84.6 23.9L85.4 23.5L85.5 23.5L86.2 23.1L87.1 22.6L87.2 22.5L87.9 22.2L88.8 22.3L89.6 22.5L90.4 22.2L91.2 22L92.1 21.9L92.9 22L93.8 22.2L94.6 22.3L95.4 22.3L96.2 22.1L97.1 22L97.9 22L98.8 21.9L99.6 22.1L99.6 22.5L99.6 23.5L99.6 24.4L99.6 25.4L99.6 26.4L99.6 27.3L99.6 28.3L99.6 29.2L99.6 30.2L99.6 31.1L99.6 32.1L99.6 33.1L99.6 34L99.6 35L99.6 35.9L99.6 36.9L99.6 37.9L99.6 38.8L99.6 39.8L99.6 40.7L99.6 41.7L99.6 42.6L99.6 43.6L99.6 44.6L99.6 45.5L99.6 46.5L99.6 47.4L99.6 48.4L99.6 49.4L99.6 50.3L99.6 51.3L99.6 51.6L98.8 51.6L97.9 51.5L97.1 51.3L96.2 51.3L95.4 51.5L94.6 51.6L93.8 51.4L93.2 51.3L92.9 51.2L92.1 51.2L91.8 51.3L91.2 51.4L90.4 51.4L90.2 51.3L89.6 50.8L88.9 50.3L88.8 50.3L88.3 50.3L87.9 50.4L87.2 51.3L87.1 51.7L87 52.2L86.6 53.2L86.2 53.6L85.4 53.9L84.6 54.1L84.4 54.1L84.2 55.1L84.6 55.6L85 56.1L85.4 56.8L85.5 57L85.6 58L85.9 58.9L85.9 59.9L85.4 60.7L85.3 60.9L84.6 61.5L83.8 61.6L82.9 61.4L82.1 61.6L81.8 61.8L81.8 62.8L82 63.7L82.1 63.9L82.9 64.1L83.5 63.7L83.8 63.4L84.6 63.6L84.6 63.7L84.6 63.8L84.4 64.7L84.4 65.6L84.4 66.6L84.6 67.6L84.6 67.9L84.6 68.5L85.3 69.5L85.4 69.6L86.2 69.8L87.1 69.7L87.9 69.6L88.2 69.5L88.8 69.3L89.6 69L90.4 68.8L91.2 68.9L92.1 68.9L92.9 69L93.8 69L94.6 69.1L95.4 69.1L96.2 69L97.1 69L97.9 69.4L98 69.5L98.8 70.2L99.4 70.4L99.6 70.5L99.6 71.4L99.6 72.4L99.6 73.3L99.6 74.3L99.6 75.2L99.6 76.2L99.6 77.1L99.6 78.1L99.6 79.1L99.6 80L99.6 81L99.6 81.9L99.6 82.9L99.6 83.9L99.6 84.8L99.6 85.8L99.6 86.7L99.6 87.7L99.6 88.6L99.6 89.6L99.6 90.6L99.6 91.5L99.6 92.5L99.6 93.4L99.6 94.4L99.6 95.4L99.6 96.3L99.6 97.3L99.6 98.2L99.6 99.2L99.6 100.1L99.6 101.1L99.6 102.1L99.6 103L98.8 103L97.9 103L97.1 103L96.2 103L95.4 103L94.6 103L93.8 103L92.9 103L92.1 103L91.2 103L90.4 103L89.6 103L88.8 103L87.9 103L87.1 103L86.2 103L85.4 103L84.6 103L83.8 103L82.9 103L82.1 103L81.2 103L80.4 103L79.6 103L78.8 103L77.9 103L77.1 103L76.2 103L75.4 103L74.6 103L73.8 103L72.9 103L72.1 103L71.2 103L70.4 103L69.6 103L68.8 103L67.9 103L67.1 103L66.2 103L65.4 103L64.6 103L63.8 103L62.9 103L62.1 103L61.2 103L60.4 103L59.6 103L58.8 103L57.9 103L57.1 103L56.2 103L55.4 103L54.6 103L53.8 103L52.9 103L52.1 103L51.2 103L50.4 103L49.6 103L48.8 103L47.9 103L47.1 103L46.2 103L45.4 103L44.6 103L43.8 103L42.9 103L42.1 103L41.2 103L40.4 103L39.6 103L38.8 103L37.9 103L37.1 103L36.2 103L35.4 103L34.6 103L33.8 103L32.9 103L32.1 103L31.2 103L30.4 103L29.6 103L28.8 103L27.9 103L27.1 103L26.2 103L25.4 103L24.6 103L23.8 103L22.9 103L22.1 103L21.2 103L20.4 103L19.6 103L18.8 103L17.9 103L17.1 103L16.2 103L15.4 103L14.6 103L13.8 103L12.9 103L12.1 103L11.2 103L10.4 103L9.6 103L8.8 103L7.9 103L7.1 103L6.2 103L5.4 103L4.6 103L3.8 103L2.9 103L2.1 103L1.2 103L0.4 103L-0.4 103L-1.2 103L-2.1 103L-2.9 103L-3.8 103L-4.6 103L-5.4 103L-6.2 103L-7.1 103L-7.9 103L-8.8 103L-9.6 103L-9.6 102.1L-9.6 101.1L-9.6 100.1L-9.6 99.2L-9.6 98.2L-9.6 97.3L-9.6 96.3L-9.6 95.4L-9.6 94.4L-9.6 93.4L-9.6 92.5L-9.6 91.5L-9.6 90.6L-9.6 89.6L-9.6 88.6L-9.6 87.7L-9.6 86.7L-9.6 85.8L-9.6 84.8L-9.6 83.9L-9.6 82.9L-9.6 81.9L-9.6 81L-9.6 80L-9.6 79.1L-9.6 78.1L-9.6 77.1L-9.6 76.2L-9.6 75.2L-9.6 74.3L-9.6 73.3L-9.6 72.4L-9.6 71.4L-9.6 70.4L-9.6 69.5L-9.6 68.5L-9.6 67.6L-9.6 66.6L-9.6 65.6L-9.6 64.7L-9.6 63.7L-9.6 62.8L-9.6 61.8L-9.6 60.9L-9.6 59.9L-9.6 58.9L-9.6 58L-9.6 57L-9.6 56.1L-9.6 55.1L-9.6 54.1L-9.6 53.2L-9.6 52.2L-9.6 51.3L-9.6 50.3L-9.6 49.4L-9.6 48.4L-9.6 47.4L-9.6 46.5L-9.6 45.5L-9.6 44.6L-9.6 43.6L-9.6 42.6L-9.6 41.7L-9.6 40.7L-9.6 39.8L-9.6 38.8L-9.6 37.9L-9.6 36.9L-9.6 35.9L-9.6 35L-9.6 34L-9.6 33.1L-9.6 32.1L-9.6 31.1L-9.6 30.2L-9.6 29.2L-9.6 28.3L-9.6 27.3L-9.6 26.4L-9.6 25.4L-9.6 24.4L-9.6 23.5L-9.6 22.5L-9.6 21.6L-9.6 20.6L-9.6 19.6L-9.6 18.7L-9.6 17.7L-9.6 16.8L-9.6 15.8L-9.6 14.9L-9.6 13.9L-9.6 12.9L-9.6 12L-9.6 11L-9.6 10.1L-9.6 9.1L-9.6 8.1L-9.6 7.2L-9.6 6.6L-8.8 6.8L-7.9 6.7L-7.1 6.5L-6.2 6.5L-5.4 6.6L-4.6 6.6L-3.8 6.7L-2.9 6.9L-2.1 7L-1.2 6.9L-0.4 6.9L0.4 7.2L0.5 7.2L1.2 7.6L2.1 7.9L2.9 7.9L3.8 8.1L3.9 8.1L4.6 8.4L5.4 8.7L6.2 8.2L6.3 8.1L6.8 7.2L7.1 7L7.9 6.5L8.8 6.4L9.6 6.5L10.4 6.7L11.2 6.7L12.1 6.8L12.9 7.1L13.8 7.1L14.6 7.2L14.6 7.2L15.4 7.4L16.2 7.4L16.6 7.2L17.1 7L17.9 6.7L18.8 6.6L19.6 6.6L20.4 6.5L21.2 6.5L22.1 6.8L22.9 7.2L22.9 7.2L23.7 7.5L24.6 7.5L25.3 7.2L25.4 7.1L26 6.2L26.2 5.8L26.8 5.3L27.1 5.1L27.9 5.2L28 5.3L28.8 5.8L29.3 6.2L29.6 6.7L30.4 7L31.2 6.7L32.1 6.7L32.9 7.1L33.3 7.2L33.8 7.5L34.3 8.1L34.6 8.8L34.7 9.1L35.4 9.9L35.9 10.1L36.2 10.1L36.8 10.1L37.1 10L37.9 10L38.2 10.1L38.8 10.3L39.6 10.9L40.4 11L41.2 10.3L41.5 10.1L41.8 9.1L42.1 8.5L42.9 8.5L43.8 9.1L44.6 8.6L44.8 8.1L45.1 7.2L45.4 6.8L46.1 6.2L46.2 6.2L47.1 6.1L47.9 6L48.8 5.8L49.6 5.8L50.4 5.7L51.2 5.9L51.8 6.2L52.1 6.4L52.6 6.2L52.9 6.1L53.6 5.3L53.8 5L54.2 4.3L54.5 3.4L54.6 3L54.7 2.4L54.7 1.4L54.7 0.5L55.3 -0.5L55 -1.4L54.8 -2.4L55.4 -3.2L55.4 -3.4L55.6 -4.3L55.5 -5.3L55.4 -5.6L55 -6.2L54.7 -7.2L55.1 -8.1L55.4 -9L55.4 -9.1L55.6 -10.1ZM56.2 -0.7L55.6 -0.5L56.2 0.1L56.6 -0.5ZM57.1 22.5L57.1 22.5L56.2 23L55.7 23.5L55.4 23.8L54.8 24.4L54.6 24.8L54.2 25.4L54.1 26.4L54.2 27.3L53.9 28.3L53.8 28.4L52.9 29.1L52.1 28.9L51.2 28.5L50.4 28.9L50 29.2L49.6 29.9L49 30.2L48.8 30.4L47.9 30.4L47.1 30.6L46.5 31.1L46.2 31.6L46.1 32.1L46.2 33.1L46.2 33.5L46.3 34L46.8 35L47.1 35.3L47.9 35.9L48.1 35.9L48.8 36.2L49.6 36.9L49.6 36.9L50.2 37.9L50.4 38.1L51.2 38.7L51.9 38.8L52.1 38.8L52.9 38.8L53.2 38.8L53.8 38.7L54.6 38.5L55.4 38.7L55.5 38.8L56.2 39.5L56.6 39.8L57.1 40.1L57.9 40.1L58.8 40.1L59.6 40.3L60.4 40.5L61.2 40.4L62.1 40.4L62.9 40.2L63.4 39.8L63.8 39.5L64.6 38.9L64.7 38.8L65.2 37.9L65.4 37.4L65.6 36.9L65.8 35.9L65.9 35L65.8 34L65.6 33.1L65.6 32.1L65.4 31.3L65.4 31.1L64.6 30.5L64.3 30.2L63.8 29.2L63.8 29.1L63.5 28.3L63.2 27.3L63.3 26.4L63.5 25.4L63.3 24.4L62.9 24.1L62.1 23.7L61.2 23.7L60.4 24L59.6 24.2L58.8 24.3L58.6 23.5L58.1 22.5L57.9 22.4ZM67.1 68.3L66.8 68.5L66.2 68.8L65.4 69.2L64.6 69.5L63.8 69.2L62.9 68.7L62.1 68.9L61.2 69.4L61.1 69.5L60.4 70.3L60.4 70.4L60.4 71.4L60.4 71.6L60.7 72.4L60.9 73.3L61.2 74.3L61.2 74.3L62.1 74.8L62.9 74.3L62.9 74.3L63.8 73.9L64.6 74.3L64.6 74.3L65.4 74.9L65.8 75.2L66.1 76.2L66.1 77.1L66.2 77.4L67.1 78L67.9 77.3L68 77.1L68.2 76.2L68.4 75.2L68.8 74.5L68.8 74.3L69.6 73.4L69.7 73.3L70.4 72.9L71.2 72.4L71.4 72.4L71.2 72.2L70.8 71.4L70.4 71L69.6 70.6L69.4 70.4L68.8 70.1L68.2 69.5L67.9 68.6L67.8 68.5ZM12.9 10.7L12.6 11L12.1 11.7L11.7 12L11.2 12.3L10.4 12L10.3 12L9.6 11.6L8.8 11.6L8.6 12L8.7 12.9L8.8 13L9.6 13.4L10 13.9L10.4 14.6L10.7 14.9L11.2 15.5L12.1 15.5L12.9 15.8L13 15.8L13.8 16.3L14.6 16.6L15.4 16.4L16.2 16.1L17.1 16.2L17.9 16.3L18.8 15.8L18.8 15.8L19.2 14.9L19.3 13.9L18.8 13.2L18.2 12.9L17.9 12.9L17.1 12.4L16.3 12L16.2 11.9L15.4 11.6L14.6 11.2L14.2 11L13.8 10.7ZM29.6 11L29.6 11L29.6 11.1L29.6 11ZM37.1 65.5L37 65.6L36.7 66.6L36.2 67.1L35.4 67.2L34.6 67.5L34.5 67.6L33.9 68.5L33.8 69.5L34.6 70L35.4 69.6L35.7 69.5L36.2 69.1L37.1 68.8L37.9 68.8L38.8 69.2L39.6 68.9L40 68.5L40.4 68L40.6 67.6L40.4 66.6L40.4 66.6L39.6 65.9L39.1 65.6L38.8 65.5L37.9 65.2ZM47.1 63.7L47 63.7L46.3 64.7L46.2 64.8L45.8 65.6L45.4 66.6L45.4 66.7L45.2 67.6L45.1 68.5L45.1 69.5L45.1 70.4L45.4 70.8L46 71.4L46.2 71.6L46.8 72.4L47.1 72.8L47.9 73.3L48.8 72.8L49.3 72.4L49.6 71.9L50 71.4L49.8 70.4L49.7 69.5L50.4 69.1L50.9 69.5L50.9 70.4L51.2 70.8L52.1 71.1L52.9 70.8L53.7 70.4L53.8 70.4L54.6 69.5L54.6 69.5L55 68.5L55.3 67.6L55.4 67.3L55.7 66.6L55.9 65.6L55.4 64.8L55.4 64.7L54.6 63.9L54.3 63.7L53.8 63.3L52.9 63.3L52.1 63.6L51.2 63.4L50.4 63.3L49.6 63.4L48.8 63.5L47.9 63.5ZM57.9 65.5L57.8 65.6L57.9 65.7L58 65.6ZM61.2 46.3L60.8 46.5L60.4 46.8L60 47.4L60.2 48.4L60.4 49.4L60.4 49.4L61 50.3L61.2 50.6L61.8 51.3L62.1 51.7L62.9 52.2L62.9 52.3L63 52.2L63.8 51.9L64.3 51.3L64.6 50.6L64.7 50.3L65 49.4L65.4 48.7L65.6 48.4L65.5 47.4L65.4 47.4L64.6 47.1L63.8 47.1L62.9 46.9L62.2 46.5L62.1 46.3ZM99.3 -11L99.6 -11L99.6 -10.1L99.6 -9.1L99.6 -8.5L99.2 -9.1L99.2 -10.1ZM68.5 -6.2L68.8 -6.6L69.6 -6.5L69.7 -6.2L70.1 -5.3L69.6 -4.8L68.8 -5.3L68.8 -5.4ZM90.3 4.3L90.4 4.1L91.2 4L91.4 4.3L92.1 5.2L92.2 5.3L92.9 5.8L93.8 5.9L94.6 5.5L94.9 5.3L95.4 5L96.2 5L96.7 5.3L97.1 6L97.9 6.2L98.8 5.8L99.6 5.8L99.6 6.2L99.6 7.2L99.6 8.1L99.6 9.1L99.6 10.1L99.6 11L99.6 11.7L98.8 11.8L97.9 12L97.1 11.7L96.2 11.4L95.8 12L95.4 12.3L94.6 12.6L93.8 12.3L93.5 12L92.9 11.4L92.4 11L92.1 10.8L91.2 11L91.2 11L90.6 12L90.4 12.3L89.6 12.9L89.6 12.9L89.6 12.9L88.8 12.6L88.2 12L87.9 11.7L87.1 11.2L86.5 11L86.2 10.8L86 10.1L86.2 9.1L86.2 8.6L86.9 8.1L86.9 7.2L87.1 7.1L87.9 6.3L88 6.2L88.8 5.8L89.6 5.3L89.6 5.3ZM56.1 29.2L56.2 29.1L56.4 29.2L56.5 30.2L56.2 30.3L56.1 30.2ZM88.5 56.1L88.8 55.7L89.6 56.1L89.6 56.1L89.9 57L89.6 57.1L88.8 57L88.8 56.9ZM90.9 65.6L91.2 65.3L91.5 65.6L91.2 66.1Z" fill="#26828e" fill-rule="evenodd"/>
<path d="M-3.9 10.1L-3.8 9.8L-2.9 9.8L-2.4 10.1L-2.1 10.2L-1.3 11L-1.2 11.3L-0.9 12L-0.4 12.8L0.4 12.5L1.3 12L1.6 12L2.1 11.9L2.2 12L2.9 12.3L3.8 12.8L3.9 12.9L4.3 13.9L4.6 14.7L4.6 14.9L5.2 15.8L5.4 16.1L6.2 16.8L6.2 16.9L6.7 17.7L7.1 18.7L7.1 18.7L7.9 19.4L8.1 19.6L8.8 20.3L9 20.6L9.6 21.2L10.1 21.6L10.4 21.7L11.2 21.7L11.9 21.6L12.1 21.5L12.9 21.4L13.5 21.6L13.8 21.6L14.6 22.1L15.4 22.5L15.4 22.5L16.2 22.6L17.1 22.7L17.9 22.6L18 22.5L18.6 21.6L18.8 21.2L19 20.6L19.6 20L20 19.6L20.4 18.7L20.4 18.7L20.7 17.7L21.2 17.3L22.1 17L22.9 17.5L23.2 17.7L23.8 18.5L24.6 17.8L24.6 17.7L25.3 16.8L25.4 16.6L26.2 16.5L26.6 16.8L27.1 17.2L27.9 17.5L28.8 16.9L29 16.8L29.6 16.5L30 16.8L30.4 16.9L31.2 17.1L32.1 16.9L32.5 16.8L32.9 16.5L33.5 15.8L33.8 15L33.8 14.9L34.2 13.9L34.6 13.7L35.4 13.8L36.2 13.7L37.1 13.3L37.6 12.9L37.9 12.8L38.8 12.7L39.6 12.8L40.4 12.8L41.2 12.6L42.1 12.2L42.9 12L43 12L43.8 11.8L44.6 11.3L44.9 11L45.4 10.5L46.2 10.3L46.6 11L46.6 12L46.3 12.9L46.2 13.1L45.9 13.9L45.4 14.8L45.4 14.9L44.9 15.8L45.4 16.2L46.2 16.4L47.1 16.6L47.6 16.8L47.9 17L48.4 17.7L48.6 18.7L48.7 19.6L48.8 20.1L48.8 20.6L49.4 21.6L49.6 21.8L50.3 22.5L50.4 22.7L50.7 23.5L50.4 24.4L50.4 24.4L49.8 25.4L49.6 25.8L49.3 26.4L48.8 27.3L48.7 27.3L47.9 27.7L47.1 27.9L46.2 27.9L45.4 27.9L44.6 28.2L44.4 28.3L44 29.2L43.8 30.2L43.8 30.4L43.1 31.1L42.9 31.9L42.9 32.1L42.9 32.2L43.5 33.1L43.8 33.5L44 34L43.8 35L43.8 35.1L42.9 35.9L42.6 35.9L42.1 36.1L41.8 35.9L41.2 35.5L41 35L40.4 34.3L39.6 34.3L38.8 34.5L37.9 34.8L37.7 35L37.1 35.8L37 35.9L36.5 36.9L36.2 37.4L35.9 37.9L35.4 38.6L35.3 38.8L35.1 39.8L35.2 40.7L35.2 41.7L35.3 42.6L35.4 42.8L36.2 43.6L36.2 43.8L36.5 44.6L37.1 45.3L37.5 45.5L37.9 45.7L38.8 46.2L39 46.5L39.6 47.2L39.7 47.4L40.4 48.1L40.7 48.4L41.2 49.1L41.4 49.4L41.2 49.7L41 50.3L40.4 50.9L40.1 51.3L39.8 52.2L39.6 53L39.5 53.2L39.3 54.1L39.6 54.8L40.2 55.1L40.4 55.2L40.8 55.1L41.2 55L41.9 54.1L42.1 54L42.9 53.6L43.8 53.6L44.5 54.1L44 55.1L43.8 55.3L42.9 55.9L42.1 56.1L42.1 56.1L41.9 56.1L41.2 55.6L41.2 56.1L40.4 57L40.4 57L40.1 58L40.3 58.9L40.4 59.2L41.2 59.4L42 59.9L41.6 60.9L41.2 60.9L40.4 61.1L39.8 61.8L39.6 61.9L38.8 62.3L37.9 62.3L37.1 62.3L36.2 62.4L35.4 62.5L34.6 62.4L34.2 61.8L33.9 60.9L33.8 60.5L33.6 59.9L32.9 59.1L32.8 58.9L32.1 58.3L31.9 58L31.2 57.3L31.1 57L30.4 56.4L30.1 56.1L29.6 55.5L29.1 55.1L28.8 54.2L28.7 54.1L28.5 53.2L27.9 52.2L27.9 52.2L27.1 51.6L26.2 52.1L26.2 52.2L25.9 53.2L25.4 53.7L25.1 54.1L24.6 54.9L24 55.1L23.8 55.2L23.7 55.1L23 54.1L22.9 54.1L22.7 53.2L22.1 52.2L22.1 52.2L21.4 51.3L21.2 51.1L20.4 51L20.1 51.3L19.6 51.6L18.8 51.9L17.9 52.2L17.8 52.2L17.1 52.6L16.5 53.2L16.2 53.5L15.8 54.1L15.5 55.1L15.4 56.1L15.7 57L15.8 58L15.6 58.9L15.4 59.8L15.4 59.9L15.2 60.9L15.3 61.8L15.2 62.8L15 63.7L15 64.7L15.3 65.6L15.4 66.3L15.4 66.6L15.5 67.6L15.9 68.5L16.2 68.9L17.1 69.3L17.9 69.5L18.8 69.2L19.6 69.1L20.2 69.5L20.4 69.7L20.8 70.4L21.2 71.2L21.4 71.4L22.1 72.3L22.1 72.4L22.9 73L23.8 72.9L24.6 72.4L25.1 72.4L25.4 72.3L25.4 72.4L25.6 73.3L26.2 74.3L26.2 74.3L27.1 74.8L27.9 75L28.1 75.2L28.8 75.8L28.9 76.2L29.5 77.1L29.6 77.3L30.1 78.1L30.4 78.5L31 79.1L31.2 79.3L32.1 79.5L32.9 79.5L33.8 79.7L34.6 79.6L35.4 79.2L36.2 79.1L36.9 80L37.1 80.4L37.4 81L37.9 81.5L38.4 81L38.8 80.2L38.8 80L39.1 79.1L39.6 78.2L39.8 78.1L40.1 77.1L39.6 77L39.3 76.2L39.2 75.2L39.4 74.3L39.6 73.9L39.9 73.3L40.4 72.6L40.6 72.4L41.2 71.6L41.6 71.4L42.1 71.1L42.8 71.4L42.9 71.5L43.8 72.2L44 72.4L44.6 72.8L45.1 73.3L45.4 74.1L45.5 74.3L45.6 75.2L46.2 76L47.1 75.9L47.9 75.8L48.8 76L49.3 76.2L49.6 76.4L50.4 76.4L50.9 76.2L51.2 76L52.1 75.2L52.1 75.2L52.8 74.3L52.9 74.1L53.6 73.3L53.8 73.1L54.6 72.7L55.4 72.6L56.2 72.4L56.4 72.4L57.1 72.2L57.5 72.4L57.9 72.6L58.2 73.3L58.6 74.3L58.8 74.5L59.4 75.2L59.6 75.3L60.1 76.2L60.2 77.1L60.2 78.1L60.4 79.1L60.4 79.1L61.3 79.3L61.9 79.1L62.1 79L62.9 78.7L63.8 78.7L64.4 79.1L64.6 79.2L65.4 79.9L65.5 80L65.9 81L66.1 81.9L65.4 82.6L64.6 82.7L64.3 82.9L63.8 83.5L63.6 83.9L63.5 84.8L63.7 85.8L63.7 86.7L62.9 87.3L62.1 87.5L61.2 87.4L60.4 87.4L59.6 87.2L58.8 86.8L58.6 86.7L57.9 86.4L57.1 86.1L56.2 86.1L55.4 86.4L54.6 86.6L53.7 86.6L52.9 86.3L52.1 85.9L51.6 85.8L51.2 85.7L50.5 85.8L50.4 85.8L49.6 86.7L50.4 87.7L50.4 87.7L51.2 88.5L51.3 88.6L51.2 88.7L50.8 89.6L50.4 90.1L50.2 90.6L49.6 91.5L49.6 91.6L49.2 92.5L49.1 93.4L49.3 94.4L49.5 95.4L49.6 95.5L49.8 96.3L50.1 97.3L50.4 98.2L50.4 98.2L50.6 99.2L50.5 100.1L50.4 100.3L50.1 101.1L50.1 102.1L50.1 103L49.6 103L48.8 103L47.9 103L47.7 103L47.9 102.9L48.4 102.1L47.9 101.8L47.1 101.5L46.2 101.3L45.7 101.1L45.4 101.1L44.6 100.5L44.2 100.1L44 99.2L44.5 98.2L44.6 98.2L45.4 97.5L45.8 97.3L46.2 96.3L46 95.4L45.7 94.4L45.8 93.4L46.1 92.5L45.7 91.5L45.4 91.3L44.8 90.6L44.6 90.1L44.2 89.6L43.8 88.6L43.8 88.5L43.5 87.7L42.9 86.7L42.9 86.7L42.1 86.5L41.5 86.7L41.2 87L40.9 87.7L40.9 88.6L40.7 89.6L40.4 90.6L40.4 90.7L40.3 91.5L40.3 92.5L40.3 93.4L40.1 94.4L40.2 95.4L40.3 96.3L40.2 97.3L39.9 98.2L39.9 99.2L40.2 100.1L40.4 100.6L40.7 101.1L40.6 102.1L40.4 102.4L40.2 103L39.6 103L38.8 103L37.9 103L37.1 103L36.2 103L35.4 103L34.6 103L33.8 103L32.9 103L32.1 103L31.2 103L30.4 103L29.6 103L28.8 103L27.9 103L27.1 103L26.2 103L25.4 103L24.6 103L23.8 103L22.9 103L22.1 103L21.2 103L20.4 103L19.6 103L18.8 103L17.9 103L17.1 103L16.2 103L15.4 103L14.6 103L13.8 103L12.9 103L12.1 103L11.2 103L10.4 103L9.6 103L8.8 103L7.9 103L7.1 103L6.2 103L5.4 103L4.6 103L3.8 103L2.9 103L2.1 103L1.2 103L0.4 103L-0.4 103L-1.2 103L-2.1 103L-2.9 103L-3.8 103L-4.6 103L-5.4 103L-6.2 103L-7.1 103L-7.9 103L-8.8 103L-9.6 103L-9.6 102.1L-9.6 101.1L-9.6 100.1L-9.6 99.2L-9.6 98.2L-9.6 97.3L-9.6 96.3L-9.6 95.4L-9.6 94.4L-9.6 93.4L-9.6 92.5L-9.6 91.5L-9.6 90.6L-9.6 89.6L-9.6 88.6L-9.6 87.7L-9.6 86.7L-9.6 85.8L-9.6 84.8L-9.6 83.9L-9.6 82.9L-9.6 81.9L-9.6 81L-9.6 80L-9.6 79.1L-9.6 78.1L-9.6 77.1L-9.6 76.2L-9.6 75.2L-9.6 74.3L-9.6 73.3L-9.6 72.4L-9.6 71.4L-9.6 70.4L-9.6 69.5L-9.6 68.5L-9.6 67.6L-9.6 66.6L-9.6 65.6L-9.6 64.7L-9.6 63.7L-9.6 62.8L-9.6 61.8L-9.6 60.9L-9.6 59.9L-9.6 58.9L-9.6 58L-9.6 57L-9.6 56.1L-9.6 55.1L-9.6 54.1L-9.6 53.2L-9.6 52.2L-9.6 51.3L-9.6 50.3L-9.6 49.8L-8.8 50.1L-8.2 50.3L-7.9 50.4L-7.1 50.3L-6.2 50.3L-5.4 50.5L-4.6 50.8L-3.8 50.9L-2.9 50.4L-2.1 50.3L-1.2 50.5L-0.4 50.8L0.4 50.9L1.2 50.9L2.1 50.6L2.7 50.3L2.9 50L3.8 49.9L4.1 50.3L4.6 50.8L5.4 50.6L5.6 50.3L5.6 49.4L5.4 48.8L4.9 48.4L4.6 48.2L3.8 47.9L3.1 47.4L2.9 47.4L2.1 47.1L1.2 47.1L0.5 47.4L0.4 47.5L-0.4 48.3L-0.7 48.4L-1.2 48.7L-1.6 48.4L-2.1 48.2L-2.9 47.8L-3.8 47.6L-4.5 47.4L-4.6 47.4L-5.4 47.2L-6.2 46.9L-7.1 46.9L-7.9 47.3L-8.4 47.4L-8.8 47.6L-9.6 47.6L-9.6 47.4L-9.6 46.5L-9.6 45.5L-9.6 44.6L-9.6 43.6L-9.6 42.6L-9.6 41.7L-9.6 40.7L-9.6 39.8L-9.6 38.8L-9.6 37.9L-9.6 36.9L-9.6 35.9L-9.6 35L-9.6 34L-9.6 33.1L-9.6 32.1L-9.6 31.1L-9.6 30.2L-9.6 29.2L-9.6 28.3L-9.6 27.3L-9.6 26.4L-9.6 25.4L-9.6 24.4L-9.6 23.5L-9.6 22.5L-9.6 21.6L-9.6 20.6L-9.6 19.6L-9.6 18.7L-9.6 17.7L-9.6 16.8L-9.6 15.8L-9.6 14.9L-9.6 13.9L-9.6 12.9L-9.6 12.6L-8.8 12.5L-7.9 12.6L-7.6 12.9L-7.2 13.9L-7.1 14L-6.2 14L-6 13.9L-5.4 13.4L-4.9 12.9L-4.7 12L-4.6 11.7L-4.4 11ZM46.2 85.4L46 85.8L46 86.7L46.2 86.9L46.5 86.7L46.9 85.8ZM71.8 23.5L72.1 23.4L72.9 23.4L73 23.5L73.8 23.9L74.3 24.4L74.6 24.9L75.2 25.4L75.4 25.7L76 26.4L75.9 27.3L75.6 28.3L75.4 29.2L75.4 29.2L75 30.2L74.6 31L74.5 31.1L74.3 32.1L74.1 33.1L74.5 34L74.6 34.3L74.8 35L74.6 35.6L74.5 35.9L74.3 36.9L74.3 37.9L74.3 38.8L74.4 39.8L74.6 40.7L74.6 40.7L74.6 40.8L74.5 41.7L74.3 42.6L74.3 43.6L74.6 44.4L74.7 44.6L75.2 45.5L75.1 46.5L75 47.4L75.4 47.8L75.8 47.4L76.2 46.6L76.3 46.5L77.1 45.9L77.8 45.5L77.9 45.5L78.8 44.9L79.4 44.6L79.2 43.6L78.9 42.6L78.8 41.7L78.9 40.7L79.2 39.8L79.6 39L79.8 38.8L80.4 38.1L80.7 37.9L80.8 36.9L80.4 35.9L80.8 35L81.1 34L81.1 33.1L80.9 32.1L80.9 31.1L81.2 30.5L81.6 30.2L82.1 29.5L82.3 29.2L82.9 28.9L83.7 29.2L83.8 29.3L84.2 30.2L84.2 31.1L84.1 32.1L84.1 33.1L84.2 34L84.6 34.6L84.9 35L85.3 35.9L85.4 36.9L85.4 37.9L85.4 38.2L85.5 38.8L85.4 39.8L85.4 39.8L84.9 40.7L84.6 41.4L84.5 41.7L84.1 42.6L83.8 43.2L83.4 43.6L82.9 44.5L82.8 44.6L82.1 45.1L81.2 44.9L80.4 44.6L80.1 45.5L80.4 46L81.1 46.5L81.2 46.6L81.8 47.4L81.5 48.4L81.2 48.7L80.4 48.7L79.6 48.6L79.3 49.4L79.6 49.8L80 50.3L80.4 51.3L80.3 52.2L80.2 53.2L80.1 54.1L80.1 55.1L79.9 56.1L79.6 56.9L79 57L78.8 57.1L78.5 57L77.9 56.9L77.3 57L77.1 57.5L76.9 58L77.1 58.1L77.9 58.7L78.1 58.9L78.1 59.9L77.9 60.3L77.2 60.9L77.1 60.9L76.2 60.9L76 61.8L75.8 62.8L75.4 63.1L74.6 63.1L73.8 62.8L73.7 62.8L72.9 62.4L72.1 62.2L71.2 62.6L71.1 62.8L70.4 63.1L69.6 63.3L68.8 63.5L67.9 63.6L67.3 63.7L67.1 63.8L66.2 63.9L65.9 63.7L65.4 63.5L64.9 62.8L64.6 61.9L64.6 61.8L64.3 60.9L64.4 59.9L64.6 59.7L65 58.9L65.1 58L65.1 57L65.4 56.1L65.4 56L66.2 55.2L66.4 55.1L67 54.1L67.1 53.7L67.3 53.2L67.9 52.7L68.8 52.6L69.4 52.2L69.6 52.1L69.8 51.3L69.7 50.3L69.6 49.6L69.5 49.4L69.6 48.4L69.6 48.4L69.8 47.4L69.8 46.5L69.6 45.7L69.5 45.5L69.6 44.6L69.6 44.5L69.6 43.6L69.6 43.5L69.2 42.6L68.8 41.9L68.6 41.7L68.7 40.7L68.8 40.7L69.2 39.8L69.6 38.9L69.6 38.8L69.8 37.9L69.7 36.9L69.6 36.3L69.5 35.9L69.6 35L69.6 35L69.7 34L69.8 33.1L69.7 32.1L69.6 31.3L69.6 31.1L69.6 30.9L69.6 30.2L69.7 29.2L69.6 28.3L69.6 28.2L69.3 27.3L69.2 26.4L69.4 25.4L69.6 25L70 24.4L70.4 24L71.2 23.6ZM96.2 41.7L96.2 41.6L97.1 41.2L97.9 41.4L98.3 41.7L97.9 42L97.1 42.4L96.5 42.6L96.2 42.8L96.1 42.6ZM50.8 42.6L51.2 42.4L52.1 42.1L52.9 42.1L53.8 42.2L54.6 42.3L55 42.6L55 43.6L54.9 44.6L55.4 45.5L55.4 45.5L56.2 46.3L56.4 46.5L56.7 47.4L56.3 48.4L56.2 48.5L55.8 49.4L55.8 50.3L56.2 51.3L56.2 52.1L56.3 52.2L56.2 52.2L55.4 53L55.2 53.2L54.7 54.1L54.6 55.1L54.8 56.1L54.9 57L54.6 57.5L53.8 58L53.7 58L52.9 58.2L52.1 58.5L51.3 58.9L50.9 58.9L50.4 59L49.6 59.7L49.5 59.9L49.4 60.9L48.8 61.4L47.9 61.5L47.1 61.3L46.2 61L45.9 60.9L45.4 60.6L44.9 59.9L44.7 58.9L44.6 58.3L44.5 58L44.6 57.8L44.9 57L45.4 56.4L45.7 56.1L45.8 55.1L45.6 54.1L45.4 53.2L45.4 53.1L45.1 52.2L44.7 51.3L44.6 51.1L44.2 50.3L44.3 49.4L44.6 48.5L44.6 48.4L45.4 47.4L45.4 47.4L46.2 46.9L47.1 46.7L47.9 46.7L48.8 46.7L49.1 46.5L49.6 45.9L49.8 45.5L50.2 44.6L50.4 43.7L50.5 43.6ZM87.6 74.3L87.9 74.2L88.1 74.3L88.8 74.6L89.6 74.6L90.1 74.3L90.4 74.1L91.2 73.6L92.1 74L92.4 74.3L92.9 74.9L93.8 75.1L94.4 75.2L94.6 75.3L95.4 75.7L96.2 75.8L97.1 75.5L97.9 75.3L98.1 75.2L98.8 75.1L99.6 75.1L99.6 75.2L99.6 76.2L99.6 77.1L99.6 78.1L99.6 79.1L99.6 80L99.6 81L99.6 81.9L99.6 82.9L99.6 83.9L99.6 84.8L99.6 85.8L99.6 86.7L99.6 87.7L99.6 88.6L99.6 89.6L99.6 90.6L99.6 91.5L99.6 92.5L99.6 93.4L99.6 94.4L99.6 95.4L99.6 96.3L99.6 97.3L99.6 98.2L99.6 99.2L99.6 100.1L99.6 101.1L99.6 102.1L99.6 103L98.8 103L97.9 103L97.1 103L96.2 103L95.8 103L95.4 102.6L94.6 103L94.6 103L93.8 103L92.9 103L92.1 103L91.2 103L90.4 103L89.6 103L88.8 103L87.9 103L87.1 103L86.2 103L85.4 103L84.6 103L83.8 103L82.9 103L82.1 103L81.2 103L80.4 103L79.6 103L78.8 103L78.7 103L78.2 102.1L77.9 101.9L77.3 101.1L77.2 100.1L77.9 99.2L77.9 99.1L78.8 98.5L79.1 98.2L79.6 97.9L80.1 97.3L80.4 96.4L80.4 96.3L80.4 95.9L80.4 95.4L80.1 94.4L79.8 93.4L79.6 93L79.3 92.5L79 91.5L79.3 90.6L79.6 90.2L80.2 89.6L80.4 88.8L80.5 88.6L80.4 88.6L79.9 87.7L79.6 87.3L79.2 86.7L79.2 85.8L79.6 84.8L79.6 84.8L80.2 83.9L80.4 83.6L81.1 82.9L81.2 82.6L81.5 81.9L81.5 81L81.6 80L82.1 79.4L82.8 79.1L82.9 79L83.8 78.1L83.8 78.1L84.6 77.2L84.7 77.1L85.4 76.6L85.9 76.2L86.2 75.8L86.6 75.2L87.1 74.5Z" fill="#1fa088" fill-rule="evenodd"/>
<path d="M41.2 15.8L41.2 15.8L41.3 15.8L41.5 16.8L41.3 17.7L41.4 18.7L41.9 19.6L42.1 19.9L42.3 19.6L42.9 19.4L43.8 19.1L44.6 19.3L45.2 19.6L45.2 20.6L44.6 21.6L44.6 21.6L43.8 21.9L42.9 21.8L42.3 22.5L42.1 23L41.9 23.5L41.5 24.4L41.2 24.6L40.5 25.4L40.4 25.4L39.6 26L39.2 26.4L38.8 26.7L38.2 27.3L37.9 27.7L37.4 28.3L37.1 28.7L36.6 29.2L36.2 29.6L35.6 30.2L35.6 31.1L36 32.1L35.5 33.1L35.4 33.1L34.6 33.6L33.9 34L33.8 34.2L33 35L32.9 35.1L32.1 35.8L31.2 35.4L30.4 35.1L29.6 35.1L29.4 35L29.2 34L28.8 33.3L28.3 33.1L27.9 33L27.1 32.8L26.2 32.6L25.4 32.2L25.3 32.1L24.6 31.2L24.5 31.1L24.5 30.2L24.6 30.1L24.9 29.2L24.7 28.3L24.6 28.2L24.1 27.3L23.8 26.4L24.1 25.4L24.6 25.1L25.4 25.2L26.2 25.1L27.1 24.8L27.9 24.7L28.8 24.9L29.6 24.6L29.7 24.4L29.8 23.5L29.6 23L28.8 22.7L27.9 22.5L27.9 22.5L27.4 21.6L27.9 21L28.4 20.6L28.8 20.4L29.6 20.1L30.3 19.6L30.4 19.6L31.2 19.1L32.1 18.7L32.1 18.7L32.9 18.5L33.8 18.5L34.6 18L34.9 17.7L35.4 17.2L36.2 16.9L37.1 16.9L37.9 17.1L38.8 17L39.2 16.8L39.6 16.5L40.4 16ZM5.3 23.5L5.4 23.4L6.2 23L7.1 22.9L7.9 23.4L8.1 23.5L8.8 23.8L9.6 24L10.4 24.1L11.2 24.1L12.1 23.8L12.9 23.6L13.8 24.1L14.2 24.4L14.6 24.8L15.3 25.4L15.4 25.6L15.8 26.4L15.7 27.3L15.4 27.9L15.2 28.3L14.7 29.2L14.7 30.2L15.2 31.1L15.4 31.4L15.9 32.1L15.7 33.1L15.5 34L15.4 34.5L15.2 35L14.7 35.9L14.6 36.6L14.5 36.9L14.6 37.5L14.6 37.9L14.8 38.8L14.6 39.8L14.6 39.8L13.8 40.1L12.9 39.9L12.1 39.8L11.4 40.7L11.3 41.7L11.6 42.6L12.1 43.4L12.4 43.6L12.4 44.6L12.1 44.8L11.2 44.9L10.4 44.6L9.6 44.6L8.8 45L7.9 45.3L7.1 45.4L6.3 45.3L5.4 45L4.6 44.8L3.8 44.7L2.9 44.9L2.1 45.3L1.2 45.3L0.4 44.8L0.1 44.6L-0.4 44.1L-1.2 44.2L-1.6 44.6L-2.1 44.9L-2.9 45.2L-3.8 45.3L-4.6 45.2L-5.4 45L-6.2 44.7L-7.1 44.9L-7.9 45.3L-8.4 45.5L-8.8 45.6L-9.6 45.6L-9.6 45.5L-9.6 44.6L-9.6 43.6L-9.6 42.6L-9.6 41.7L-9.6 40.7L-9.6 39.8L-9.6 38.8L-9.6 37.9L-9.6 36.9L-9.6 35.9L-9.6 35L-9.6 34L-9.6 33.1L-9.6 32.1L-9.6 31.1L-9.6 30.2L-9.6 29.2L-9.6 28.3L-9.6 27.7L-8.8 27.9L-7.9 27.7L-7.6 27.3L-7.1 27.1L-6.2 27.2L-6 27.3L-5.4 27.6L-4.7 28.3L-4.6 28.4L-4 29.2L-3.8 29.6L-3.1 30.2L-2.9 30.3L-2.1 30.3L-1.9 30.2L-1.2 29.4L-1.2 29.2L-0.8 28.3L-0.5 27.3L-0.4 27.1L0.4 27L0.5 27.3L1.2 27.9L1.6 28.3L2.1 28.7L2.8 29.2L2.9 29.5L3.1 29.2L3.5 28.3L3.8 27.8L4 27.3L4.6 26.8L5.4 26.6L5.7 26.4L6.2 25.7L6.3 25.4L6.2 25L5.8 24.4L5.4 23.8ZM-3.8 33.7L-4.1 34L-4 35L-3.8 35.9L-3.7 36.1L-2.9 36.6L-2.1 36.4L-1.8 35.9L-1.9 35L-2.1 34.6L-2.7 34L-2.9 33.9ZM20.8 28.3L21.2 28.2L21.3 28.3L21.2 28.3ZM2 52.2L2.1 52.2L2.1 52.2L2.9 52.5L3.7 53.2L3.8 53.2L4.3 54.1L4.4 55.1L4.4 56.1L3.9 57L3.8 57.3L3.3 58L2.9 58.3L2.1 58.6L1.2 58.3L0.4 58.1L-0.4 58L-1.2 58L-1.8 58L-2.1 58L-2.9 57.9L-3.8 57.5L-4.2 57L-4.6 56.3L-5.4 56.4L-6 57L-6.2 57.2L-6.8 58L-7.1 58.3L-7.9 58.4L-8.5 58L-8.8 57.8L-9.6 57.1L-9.6 57L-9.6 56.1L-9.6 55.1L-9.6 54.1L-9.6 53.2L-8.8 53.4L-7.9 54L-7.6 54.1L-7.1 54.4L-6.2 54.3L-6.1 54.1L-5.4 53.5L-4.8 53.2L-4.6 53.2L-3.8 53.1L-2.9 53.1L-2.1 53.1L-1.2 53.1L-0.4 53.1L0.4 53L1.2 52.5ZM32.9 55.1L32.9 55L33 55.1L32.9 55.2ZM71 57L71.2 56.4L72.1 56.7L72.3 57L72.3 58L72.1 58.2L71.8 58L71.2 57.5ZM5.9 58.9L6.2 58.7L7.1 58.1L7.9 58L8.8 58.1L9.6 58.9L9.6 58.9L9.9 59.9L9.8 60.9L9.6 61.3L9.3 61.8L8.8 62.5L8.4 62.8L7.9 63.1L7.1 63.1L6.6 62.8L6.2 62.2L6.1 61.8L6 60.9L5.7 59.9ZM7.8 67.6L7.9 67.5L8.2 67.6L8.8 68L8.9 68.5L9.5 69.5L9.6 69.5L10.3 69.5L10.4 69.5L11.2 68.8L11.9 68.5L12.1 68.4L12.5 68.5L12.9 68.6L13.8 69.3L14 69.5L14.6 70.2L14.8 70.4L15.4 71.2L15.6 71.4L16.2 72.4L16.1 73.3L15.9 74.3L16.2 74.6L17.1 75.1L17.1 75.2L17.9 75.5L18.8 75.6L19.6 75.3L20 75.2L20.4 75.2L20.7 75.2L21.2 75.5L22.1 75.9L22.8 76.2L22.9 76.2L23.8 76.4L24.6 77.1L24.6 77.1L24.9 78.1L24.9 79.1L24.6 79.7L24.4 80L24.2 81L24.6 81.8L24.7 81.9L25.2 82.9L24.6 83.8L24.5 83.9L23.9 84.8L23.9 85.8L24.1 86.7L24.4 87.7L24.4 88.6L24.3 89.6L24.1 90.6L24.4 91.5L24.6 91.9L25.2 92.5L25.4 93.3L25.4 93.4L25.8 94.4L26.2 95.2L26.3 95.4L26.8 96.3L26.5 97.3L26.2 97.4L25.4 98L25.1 98.2L24.7 99.2L24.9 100.1L25.4 100.7L25.6 101.1L26 102.1L25.9 103L25.4 103L24.6 103L23.8 103L22.9 103L22.1 103L21.2 103L20.4 103L19.6 103L18.8 103L17.9 103L17.1 103L16.2 103L15.4 103L14.6 103L13.8 103L12.9 103L12.1 103L11.2 103L10.4 103L9.6 103L8.8 103L7.9 103L7.1 103L6.8 103L6.5 102.1L6.2 101.8L5.4 101.5L5 101.1L4.7 100.1L4.9 99.2L5.1 98.2L5.2 97.3L5.2 96.3L5.2 95.4L5.2 94.4L5.1 93.4L4.6 92.6L4.3 92.5L3.8 92.2L3.2 91.5L3.7 90.6L3.8 90.5L4.6 90.2L5.2 89.6L5 88.6L4.6 87.7L4.6 87.7L4.2 86.7L3.8 86.3L2.9 85.9L2.1 85.8L2.1 85.8L2.1 85.8L1.2 86L0.4 86.2L-0.4 86.1L-1.2 86.1L-2.1 86.5L-2.9 86.6L-3.8 86.6L-4.2 86.7L-4.6 86.8L-5.4 86.9L-6.2 86.9L-7 86.7L-7.1 86.7L-7.9 86.6L-8.2 86.7L-8.8 86.9L-9.6 87.2L-9.6 86.7L-9.6 85.8L-9.6 84.8L-9.6 83.9L-9.6 82.9L-9.6 81.9L-9.6 81L-9.6 80L-9.6 79.1L-9.6 78.1L-9.6 77.1L-9.6 76.2L-9.6 75.2L-9.6 74.3L-9.6 73.3L-9.6 72.4L-9.6 71.4L-9.6 70.4L-9.6 70.3L-8.8 70.1L-7.9 69.8L-7.5 69.5L-7.1 69.1L-6.2 68.6L-6.1 68.5L-5.4 68.3L-4.6 68.2L-3.8 68.2L-2.9 68.2L-2.3 68.5L-2.1 68.6L-1.2 69.1L-0.4 69.4L0.4 69.3L1.2 68.9L2.1 68.6L2.9 68.6L3.8 68.8L4.6 69.4L5.4 69.4L6.3 68.6L6.4 68.5L7.1 68ZM16.6 73.3L17.1 73.1L17.2 73.3L17.1 73.5Z" fill="#3fbc73" fill-rule="evenodd"/>
<path d="M5 33.1L5.4 32.6L5.7 33.1L6 34L5.4 34.3L5 34ZM5.6 72.4L6.2 71.9L7.1 72.2L7.2 72.4L7.9 73.2L8.3 73.3L8.8 73.7L9.5 74.3L9.1 75.2L8.8 76.2L9.6 76.5L10.4 76.5L11.2 77.1L11.3 77.1L11.2 77.4L10.7 78.1L10.4 78.2L9.6 78.1L9.6 78.1L8.8 77.2L8.7 77.1L7.9 76.6L7.1 76.6L6.2 76.3L6.2 76.2L6 75.2L5.7 74.3L5.4 73.5L5.4 73.3L5.4 73ZM13.1 81.9L13.8 81.7L14.6 81.8L15.4 81.8L16.2 81.7L17.1 81.7L17.9 81.4L18.8 81.6L18.9 81.9L19.4 82.9L19.6 83.3L19.8 83.9L20.4 84.8L20.4 84.9L20.6 85.8L20.4 86.5L20.4 86.7L20.1 87.7L20 88.6L20 89.6L19.8 90.6L20 91.5L20.2 92.5L20.2 93.4L20.3 94.4L20.4 94.8L20.6 95.4L20.7 96.3L20.7 97.3L20.4 97.9L19.9 98.2L19.6 98.4L18.8 98.5L17.9 98.7L17.1 99.1L16.2 98.9L15.5 98.2L15.4 98.2L14.7 97.3L14.6 96.8L14.6 96.3L14.5 95.4L14.5 94.4L14.5 93.4L14.1 92.5L13.9 91.5L14.6 90.6L14.7 90.6L15.4 90.2L16.2 89.9L16.4 89.6L16.2 89.5L15.9 88.6L15.4 87.8L15.3 87.7L14.7 86.7L15.1 85.8L15.4 85.2L15.6 84.8L15.6 83.9L15.4 83.5L14.6 83L14.2 82.9L13.7 82.6ZM14.8 102.1L15.4 101.6L16.2 101.3L17.1 101.4L17.9 101.2L18.8 101.3L19.5 102.1L19.6 102.1L20 103L19.6 103L18.8 103L17.9 103L17.1 103L16.2 103L15.4 103L14.6 103L14.2 103L14.6 102.3Z" fill="#84d44b" fill-rule="evenodd"/></g>
<g id="coast" fill="none" stroke="#000" stroke-width="0.75" stroke-linejoin="round"><polyline points="0,58 1.3,57.7 3,55.9 4.8,56.5 5.4,55.9 7.1,54.7 8.3,53.6 10,53 12.4,52.4 14.2,50.6 14.2,48.9 15.9,47.1 19.4,44.8 22.9,41.8 25.9,39.5 28.8,35.6 30.6,33.3 32.3,32.1 34.7,31.5 37,30.3 39.9,28.5 40.8,25.5 40.8,23 42,21.3 43.5,20.5 46.5,20.1 46.7,16.7 47.7,19.3 48.7,20.8 49.7,17.7 50.7,20.4 51.7,18.1 52.8,20.7 53.8,17.9 54.8,20.3 55.9,17.8 56.9,20.5 57.9,18.1 59,20.1 60,17.8 61,19.7 62,17.9 63,18.9 64.5,17 65.8,16.5 66.8,14.7 68.4,14.7 69.6,16.2 70.7,19 72.3,22.6 74.6,25.8 75.7,26.1 77.7,28.9 79,31.1 80.1,32 81.6,34.3 82.4,35.9 84,38.2 84.7,40.5 85.5,42.2 86.3,45.3 86.7,48 87.1,50.8 87.9,53.9 89.1,56"/><polyline points="62.9,8.8 62.5,13 63,18"/><polyline points="77.8,69.9 77.1,72 76.5,74.1 76.6,75.7 76,77.5 76.1,79.7 75.6,82 75.1,83.8" stroke-width="1.0"/><polyline points="74.3,86.3 74,89.1" stroke-width="1.0"/></g>
</defs>
<clipPath id="ca1"><rect x="6.5" y="5.5" width="90" height="92"/></clipPath><g clip-path="url(#ca1)"><use href="#m_era5" transform="translate(6.5 5.5) scale(1.0000 1.0000)"/><use href="#coast" transform="translate(6.5 5.5) scale(1.0000 1.0000)"/></g>
<clipPath id="ca2"><rect x="96.5" y="5.5" width="89" height="92"/></clipPath><g clip-path="url(#ca2)"><use href="#m_haza" transform="translate(96.5 5.5) scale(0.9889 1.0000)"/><use href="#coast" transform="translate(96.5 5.5) scale(0.9889 1.0000)"/></g>
<rect x="6.5" y="5.5" width="179" height="92" fill="none" stroke="#000" stroke-width="1"/>
<line x1="96.5" y1="5.5" x2="96.5" y2="97.5" stroke="#000" stroke-width="1"/>
<rect x="194.60" y="10.45" width="9.15" height="10.57" fill="#d8e219"/>
<rect x="194.60" y="20.82" width="9.15" height="10.57" fill="#84d44b"/>
<rect x="194.60" y="31.20" width="9.15" height="10.57" fill="#3fbc73"/>
<rect x="194.60" y="41.58" width="9.15" height="10.57" fill="#1fa088"/>
<rect x="194.60" y="51.95" width="9.15" height="10.57" fill="#26828e"/>
<rect x="194.60" y="62.33" width="9.15" height="10.57" fill="#33638d"/>
<rect x="194.60" y="72.70" width="9.15" height="10.57" fill="#424086"/>
<rect x="194.60" y="83.08" width="9.15" height="10.57" fill="#48186a"/>
<polygon points="194.60,10.65 199.17,5.75 203.75,10.65" fill="#fde725"/>
<polygon points="194.60,93.25 199.17,97.60 203.75,93.25" fill="#440154"/>
<polygon points="194.60,10.45 199.17,5.75 203.75,10.45 203.75,93.45 199.17,97.60 194.60,93.45" fill="none" stroke="#000" stroke-width="0.8"/>
<line x1="203.75" y1="10.45" x2="207.75" y2="10.45" stroke="#000" stroke-width="0.8"/>
<text x="212.35" y="12.85" class="tk" textLength="10.6" lengthAdjust="spacingAndGlyphs">1.0</text>
<line x1="203.75" y1="20.82" x2="207.75" y2="20.82" stroke="#000" stroke-width="0.8"/>
<text x="212.35" y="23.22" class="tk" textLength="10.6" lengthAdjust="spacingAndGlyphs">0.9</text>
<line x1="203.75" y1="31.20" x2="207.75" y2="31.20" stroke="#000" stroke-width="0.8"/>
<text x="212.35" y="33.60" class="tk" textLength="10.6" lengthAdjust="spacingAndGlyphs">0.8</text>
<line x1="203.75" y1="41.58" x2="207.75" y2="41.58" stroke="#000" stroke-width="0.8"/>
<text x="212.35" y="43.98" class="tk" textLength="10.6" lengthAdjust="spacingAndGlyphs">0.7</text>
<line x1="203.75" y1="51.95" x2="207.75" y2="51.95" stroke="#000" stroke-width="0.8"/>
<text x="212.35" y="54.35" class="tk" textLength="10.6" lengthAdjust="spacingAndGlyphs">0.6</text>
<line x1="203.75" y1="62.33" x2="207.75" y2="62.33" stroke="#000" stroke-width="0.8"/>
<text x="212.35" y="64.73" class="tk" textLength="10.6" lengthAdjust="spacingAndGlyphs">0.5</text>
<line x1="203.75" y1="72.70" x2="207.75" y2="72.70" stroke="#000" stroke-width="0.8"/>
<text x="212.35" y="75.10" class="tk" textLength="10.6" lengthAdjust="spacingAndGlyphs">0.4</text>
<line x1="203.75" y1="83.08" x2="207.75" y2="83.08" stroke="#000" stroke-width="0.8"/>
<text x="212.35" y="85.48" class="tk" textLength="10.6" lengthAdjust="spacingAndGlyphs">0.3</text>
<line x1="203.75" y1="93.45" x2="207.75" y2="93.45" stroke="#000" stroke-width="0.8"/>
<text x="212.35" y="95.85" class="tk" textLength="10.6" lengthAdjust="spacingAndGlyphs">0.2</text>
<text x="226.80" y="58.15" class="yl" textLength="16" lengthAdjust="spacingAndGlyphs">χ(u)</text>
<text x="39.75" y="109.10" class="al2" textLength="23.5" lengthAdjust="spacingAndGlyphs">ERA5</text>
<text x="122.00" y="109.10" class="al2" textLength="38" lengthAdjust="spacingAndGlyphs">HazGAN</text>
<text x="124.40" y="123.50" class="al" text-anchor="middle">(a) Rescaling only</text>
<clipPath id="cb1"><rect x="258.5" y="6" width="90" height="91.8"/></clipPath><g clip-path="url(#cb1)"><use href="#m_era5" transform="translate(258.5 6) scale(1.0000 0.9978)"/><use href="#coast" transform="translate(258.5 6) scale(1.0000 0.9978)"/></g>
<clipPath id="cb2"><rect x="348.5" y="6" width="90" height="91.8"/></clipPath><g clip-path="url(#cb2)"><use href="#m_hazb" transform="translate(348.5 6) scale(1.0000 0.9978)"/><use href="#coast" transform="translate(348.5 6) scale(1.0000 0.9978)"/></g>
<rect x="258.5" y="6" width="180" height="91.8" fill="none" stroke="#000" stroke-width="1"/>
<line x1="348.5" y1="6" x2="348.5" y2="97.8" stroke="#000" stroke-width="1"/>
<rect x="446.80" y="10.45" width="9.00" height="10.58" fill="#d8e219"/>
<rect x="446.80" y="20.83" width="9.00" height="10.58" fill="#84d44b"/>
<rect x="446.80" y="31.21" width="9.00" height="10.58" fill="#3fbc73"/>
<rect x="446.80" y="41.59" width="9.00" height="10.58" fill="#1fa088"/>
<rect x="446.80" y="51.97" width="9.00" height="10.58" fill="#26828e"/>
<rect x="446.80" y="62.36" width="9.00" height="10.58" fill="#33638d"/>
<rect x="446.80" y="72.74" width="9.00" height="10.58" fill="#424086"/>
<rect x="446.80" y="83.12" width="9.00" height="10.58" fill="#48186a"/>
<polygon points="446.80,10.65 451.30,6.00 455.80,10.65" fill="#fde725"/>
<polygon points="446.80,93.30 451.30,97.85 455.80,93.30" fill="#440154"/>
<polygon points="446.80,10.45 451.30,6.00 455.80,10.45 455.80,93.50 451.30,97.85 446.80,93.50" fill="none" stroke="#000" stroke-width="0.8"/>
<line x1="455.80" y1="10.45" x2="459.80" y2="10.45" stroke="#000" stroke-width="0.8"/>
<text x="464.40" y="12.85" class="tk" textLength="10.6" lengthAdjust="spacingAndGlyphs">1.0</text>
<line x1="455.80" y1="20.83" x2="459.80" y2="20.83" stroke="#000" stroke-width="0.8"/>
<text x="464.40" y="23.23" class="tk" textLength="10.6" lengthAdjust="spacingAndGlyphs">0.9</text>
<line x1="455.80" y1="31.21" x2="459.80" y2="31.21" stroke="#000" stroke-width="0.8"/>
<text x="464.40" y="33.61" class="tk" textLength="10.6" lengthAdjust="spacingAndGlyphs">0.8</text>
<line x1="455.80" y1="41.59" x2="459.80" y2="41.59" stroke="#000" stroke-width="0.8"/>
<text x="464.40" y="43.99" class="tk" textLength="10.6" lengthAdjust="spacingAndGlyphs">0.7</text>
<line x1="455.80" y1="51.97" x2="459.80" y2="51.97" stroke="#000" stroke-width="0.8"/>
<text x="464.40" y="54.37" class="tk" textLength="10.6" lengthAdjust="spacingAndGlyphs">0.6</text>
<line x1="455.80" y1="62.36" x2="459.80" y2="62.36" stroke="#000" stroke-width="0.8"/>
<text x="464.40" y="64.76" class="tk" textLength="10.6" lengthAdjust="spacingAndGlyphs">0.5</text>
<line x1="455.80" y1="72.74" x2="459.80" y2="72.74" stroke="#000" stroke-width="0.8"/>
<text x="464.40" y="75.14" class="tk" textLength="10.6" lengthAdjust="spacingAndGlyphs">0.4</text>
<line x1="455.80" y1="83.12" x2="459.80" y2="83.12" stroke="#000" stroke-width="0.8"/>
<text x="464.40" y="85.52" class="tk" textLength="10.6" lengthAdjust="spacingAndGlyphs">0.3</text>
<line x1="455.80" y1="93.50" x2="459.80" y2="93.50" stroke="#000" stroke-width="0.8"/>
<text x="464.40" y="95.90" class="tk" textLength="10.6" lengthAdjust="spacingAndGlyphs">0.2</text>
<text x="479.00" y="58.18" class="yl" textLength="16" lengthAdjust="spacingAndGlyphs">χ(u)</text>
<text x="291.75" y="109.40" class="al2" textLength="23.5" lengthAdjust="spacingAndGlyphs">ERA5</text>
<text x="374.50" y="109.40" class="al2" textLength="38" lengthAdjust="spacingAndGlyphs">HazGAN</text>
<text x="376.50" y="123.80" class="al" text-anchor="middle">(b) Uniform</text>
<clipPath id="cc1"><rect x="5.5" y="133.3" width="90" height="91.9"/></clipPath><g clip-path="url(#cc1)"><use href="#m_era5" transform="translate(5.5 133.3) scale(1.0000 0.9989)"/><use href="#coast" transform="translate(5.5 133.3) scale(1.0000 0.9989)"/></g>
<clipPath id="cc2"><rect x="95.5" y="133.3" width="90" height="91.9"/></clipPath><g clip-path="url(#cc2)"><use href="#m_hazc" transform="translate(95.5 133.3) scale(1.0000 0.9989)"/><use href="#coast" transform="translate(95.5 133.3) scale(1.0000 0.9989)"/></g>
<rect x="5.5" y="133.3" width="180" height="91.9" fill="none" stroke="#000" stroke-width="1"/>
<line x1="95.5" y1="133.3" x2="95.5" y2="225.2" stroke="#000" stroke-width="1"/>
<rect x="193.75" y="137.40" width="9.15" height="10.58" fill="#d8e219"/>
<rect x="193.75" y="147.78" width="9.15" height="10.58" fill="#84d44b"/>
<rect x="193.75" y="158.16" width="9.15" height="10.58" fill="#3fbc73"/>
<rect x="193.75" y="168.54" width="9.15" height="10.58" fill="#1fa088"/>
<rect x="193.75" y="178.93" width="9.15" height="10.58" fill="#26828e"/>
<rect x="193.75" y="189.31" width="9.15" height="10.58" fill="#33638d"/>
<rect x="193.75" y="199.69" width="9.15" height="10.58" fill="#424086"/>
<rect x="193.75" y="210.07" width="9.15" height="10.58" fill="#48186a"/>
<polygon points="193.75,137.60 198.32,133.05 202.90,137.60" fill="#fde725"/>
<polygon points="193.75,220.25 198.32,224.90 202.90,220.25" fill="#440154"/>
<polygon points="193.75,137.40 198.32,133.05 202.90,137.40 202.90,220.45 198.32,224.90 193.75,220.45" fill="none" stroke="#000" stroke-width="0.8"/>
<line x1="202.90" y1="137.40" x2="206.90" y2="137.40" stroke="#000" stroke-width="0.8"/>
<text x="211.50" y="139.80" class="tk" textLength="10.6" lengthAdjust="spacingAndGlyphs">1.0</text>
<line x1="202.90" y1="147.78" x2="206.90" y2="147.78" stroke="#000" stroke-width="0.8"/>
<text x="211.50" y="150.18" class="tk" textLength="10.6" lengthAdjust="spacingAndGlyphs">0.9</text>
<line x1="202.90" y1="158.16" x2="206.90" y2="158.16" stroke="#000" stroke-width="0.8"/>
<text x="211.50" y="160.56" class="tk" textLength="10.6" lengthAdjust="spacingAndGlyphs">0.8</text>
<line x1="202.90" y1="168.54" x2="206.90" y2="168.54" stroke="#000" stroke-width="0.8"/>
<text x="211.50" y="170.94" class="tk" textLength="10.6" lengthAdjust="spacingAndGlyphs">0.7</text>
<line x1="202.90" y1="178.93" x2="206.90" y2="178.93" stroke="#000" stroke-width="0.8"/>
<text x="211.50" y="181.33" class="tk" textLength="10.6" lengthAdjust="spacingAndGlyphs">0.6</text>
<line x1="202.90" y1="189.31" x2="206.90" y2="189.31" stroke="#000" stroke-width="0.8"/>
<text x="211.50" y="191.71" class="tk" textLength="10.6" lengthAdjust="spacingAndGlyphs">0.5</text>
<line x1="202.90" y1="199.69" x2="206.90" y2="199.69" stroke="#000" stroke-width="0.8"/>
<text x="211.50" y="202.09" class="tk" textLength="10.6" lengthAdjust="spacingAndGlyphs">0.4</text>
<line x1="202.90" y1="210.07" x2="206.90" y2="210.07" stroke="#000" stroke-width="0.8"/>
<text x="211.50" y="212.47" class="tk" textLength="10.6" lengthAdjust="spacingAndGlyphs">0.3</text>
<line x1="202.90" y1="220.45" x2="206.90" y2="220.45" stroke="#000" stroke-width="0.8"/>
<text x="211.50" y="222.85" class="tk" textLength="10.6" lengthAdjust="spacingAndGlyphs">0.2</text>
<text x="225.95" y="185.12" class="yl" textLength="16" lengthAdjust="spacingAndGlyphs">χ(u)</text>
<text x="38.75" y="236.80" class="al2" textLength="23.5" lengthAdjust="spacingAndGlyphs">ERA5</text>
<text x="121.50" y="236.80" class="al2" textLength="38" lengthAdjust="spacingAndGlyphs">HazGAN</text>
<text x="123.47" y="248.60" class="al" text-anchor="middle">(c) Gaussian</text>
<clipPath id="cd1"><rect x="259.5" y="133.3" width="90" height="91.9"/></clipPath><g clip-path="url(#cd1)"><use href="#m_era5" transform="translate(259.5 133.3) scale(1.0000 0.9989)"/><use href="#coast" transform="translate(259.5 133.3) scale(1.0000 0.9989)"/></g>
<clipPath id="cd2"><rect x="349.5" y="133.3" width="89.3" height="91.9"/></clipPath><g clip-path="url(#cd2)"><use href="#m_hazd" transform="translate(349.5 133.3) scale(0.9922 0.9989)"/><use href="#coast" transform="translate(349.5 133.3) scale(0.9922 0.9989)"/></g>
<rect x="259.5" y="133.3" width="179.3" height="91.9" fill="none" stroke="#000" stroke-width="1"/>
<line x1="349.5" y1="133.3" x2="349.5" y2="225.2" stroke="#000" stroke-width="1"/>
<rect x="447.50" y="137.40" width="9.15" height="10.59" fill="#d8e219"/>
<rect x="447.50" y="147.79" width="9.15" height="10.59" fill="#84d44b"/>
<rect x="447.50" y="158.18" width="9.15" height="10.59" fill="#3fbc73"/>
<rect x="447.50" y="168.56" width="9.15" height="10.59" fill="#1fa088"/>
<rect x="447.50" y="178.95" width="9.15" height="10.59" fill="#26828e"/>
<rect x="447.50" y="189.34" width="9.15" height="10.59" fill="#33638d"/>
<rect x="447.50" y="199.72" width="9.15" height="10.59" fill="#424086"/>
<rect x="447.50" y="210.11" width="9.15" height="10.59" fill="#48186a"/>
<polygon points="447.50,137.60 452.07,133.20 456.65,137.60" fill="#fde725"/>
<polygon points="447.50,220.30 452.07,224.80 456.65,220.30" fill="#440154"/>
<polygon points="447.50,137.40 452.07,133.20 456.65,137.40 456.65,220.50 452.07,224.80 447.50,220.50" fill="none" stroke="#000" stroke-width="0.8"/>
<line x1="456.65" y1="137.40" x2="460.65" y2="137.40" stroke="#000" stroke-width="0.8"/>
<text x="465.25" y="139.80" class="tk" textLength="10.6" lengthAdjust="spacingAndGlyphs">1.0</text>
<line x1="456.65" y1="147.79" x2="460.65" y2="147.79" stroke="#000" stroke-width="0.8"/>
<text x="465.25" y="150.19" class="tk" textLength="10.6" lengthAdjust="spacingAndGlyphs">0.9</text>
<line x1="456.65" y1="158.18" x2="460.65" y2="158.18" stroke="#000" stroke-width="0.8"/>
<text x="465.25" y="160.58" class="tk" textLength="10.6" lengthAdjust="spacingAndGlyphs">0.8</text>
<line x1="456.65" y1="168.56" x2="460.65" y2="168.56" stroke="#000" stroke-width="0.8"/>
<text x="465.25" y="170.96" class="tk" textLength="10.6" lengthAdjust="spacingAndGlyphs">0.7</text>
<line x1="456.65" y1="178.95" x2="460.65" y2="178.95" stroke="#000" stroke-width="0.8"/>
<text x="465.25" y="181.35" class="tk" textLength="10.6" lengthAdjust="spacingAndGlyphs">0.6</text>
<line x1="456.65" y1="189.34" x2="460.65" y2="189.34" stroke="#000" stroke-width="0.8"/>
<text x="465.25" y="191.74" class="tk" textLength="10.6" lengthAdjust="spacingAndGlyphs">0.5</text>
<line x1="456.65" y1="199.72" x2="460.65" y2="199.72" stroke="#000" stroke-width="0.8"/>
<text x="465.25" y="202.12" class="tk" textLength="10.6" lengthAdjust="spacingAndGlyphs">0.4</text>
<line x1="456.65" y1="210.11" x2="460.65" y2="210.11" stroke="#000" stroke-width="0.8"/>
<text x="465.25" y="212.51" class="tk" textLength="10.6" lengthAdjust="spacingAndGlyphs">0.3</text>
<line x1="456.65" y1="220.50" x2="460.65" y2="220.50" stroke="#000" stroke-width="0.8"/>
<text x="465.25" y="222.90" class="tk" textLength="10.6" lengthAdjust="spacingAndGlyphs">0.2</text>
<text x="479.70" y="185.15" class="yl" textLength="16" lengthAdjust="spacingAndGlyphs">χ(u)</text>
<text x="292.75" y="236.80" class="al2" textLength="23.5" lengthAdjust="spacingAndGlyphs">ERA5</text>
<text x="375.15" y="236.80" class="al2" textLength="38" lengthAdjust="spacingAndGlyphs">HazGAN</text>
<text x="377.35" y="248.60" class="al" text-anchor="middle">(d) Gumbel</text>
</svg>
</body></html>
